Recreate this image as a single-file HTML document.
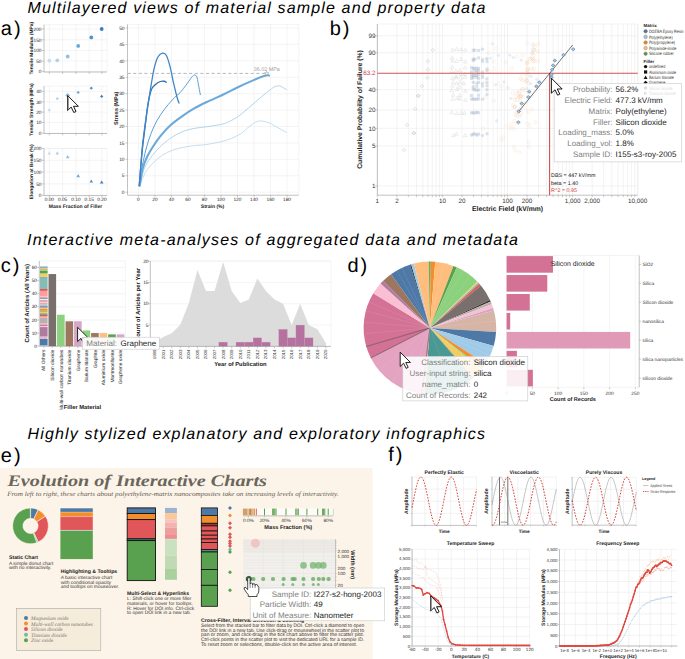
<!DOCTYPE html>
<html><head><meta charset="utf-8"><style>
html,body{margin:0;padding:0;background:#fff;}
body{width:685px;height:659px;overflow:hidden;font-family:"Liberation Sans",sans-serif;}
svg{display:block;text-rendering:geometricPrecision;}
</style></head><body>
<svg width="685" height="659" viewBox="0 0 685 659">
<text x="27.5" y="12.6" font-family="Liberation Sans" font-size="16" text-anchor="start" font-weight="normal" font-style="italic" fill="#000" textLength="458" lengthAdjust="spacing">Multilayered views of material sample and property data</text>
<text x="27" y="244.9" font-family="Liberation Sans" font-size="16" text-anchor="start" font-weight="normal" font-style="italic" fill="#000" textLength="491" lengthAdjust="spacing">Interactive meta-analyses of aggregated data and metadata</text>
<text x="27.5" y="438.7" font-family="Liberation Sans" font-size="16" text-anchor="start" font-weight="normal" font-style="italic" fill="#000" textLength="457.5" lengthAdjust="spacing">Highly stylized explanatory and exploratory infographics</text>
<text x="0.8" y="35.4" font-family="Liberation Sans" font-size="20" text-anchor="start" font-weight="normal" font-style="normal" fill="#000" letter-spacing="2" >a)</text>
<text x="329.7" y="35.3" font-family="Liberation Sans" font-size="20" text-anchor="start" font-weight="normal" font-style="normal" fill="#000" letter-spacing="2" >b)</text>
<text x="0.8" y="272.1" font-family="Liberation Sans" font-size="20" text-anchor="start" font-weight="normal" font-style="normal" fill="#000" letter-spacing="2" >c)</text>
<text x="347.5" y="271.7" font-family="Liberation Sans" font-size="20" text-anchor="start" font-weight="normal" font-style="normal" fill="#000" letter-spacing="2" >d)</text>
<text x="0.8" y="461.6" font-family="Liberation Sans" font-size="20" text-anchor="start" font-weight="normal" font-style="normal" fill="#000" letter-spacing="2" >e)</text>
<text x="388.3" y="461" font-family="Liberation Sans" font-size="20" text-anchor="start" font-weight="normal" font-style="normal" fill="#000" letter-spacing="2" >f)</text>
<line x1="44.00" y1="24.70" x2="107.00" y2="24.70" stroke="#e8e8e8" stroke-width="0.5" />
<line x1="107.00" y1="24.70" x2="107.00" y2="71.70" stroke="#e8e8e8" stroke-width="0.5" />
<line x1="49.30" y1="24.70" x2="49.30" y2="71.70" stroke="#e8e8e8" stroke-width="0.5" />
<line x1="62.60" y1="24.70" x2="62.60" y2="71.70" stroke="#e8e8e8" stroke-width="0.5" />
<line x1="75.90" y1="24.70" x2="75.90" y2="71.70" stroke="#e8e8e8" stroke-width="0.5" />
<line x1="89.20" y1="24.70" x2="89.20" y2="71.70" stroke="#e8e8e8" stroke-width="0.5" />
<line x1="101.90" y1="24.70" x2="101.90" y2="71.70" stroke="#e8e8e8" stroke-width="0.5" />
<line x1="44.00" y1="29.00" x2="107.00" y2="29.00" stroke="#e8e8e8" stroke-width="0.5" />
<line x1="42.00" y1="29.00" x2="44.00" y2="29.00" stroke="#999" stroke-width="0.5" />
<text x="41.5" y="30.7" font-family="Liberation Sans" font-size="4.8" text-anchor="end" font-weight="normal" font-style="normal" fill="#1e1e1e" >200</text>
<line x1="44.00" y1="39.80" x2="107.00" y2="39.80" stroke="#e8e8e8" stroke-width="0.5" />
<line x1="42.00" y1="39.80" x2="44.00" y2="39.80" stroke="#999" stroke-width="0.5" />
<text x="41.5" y="41.5" font-family="Liberation Sans" font-size="4.8" text-anchor="end" font-weight="normal" font-style="normal" fill="#1e1e1e" >150</text>
<line x1="44.00" y1="50.50" x2="107.00" y2="50.50" stroke="#e8e8e8" stroke-width="0.5" />
<line x1="42.00" y1="50.50" x2="44.00" y2="50.50" stroke="#999" stroke-width="0.5" />
<text x="41.5" y="52.2" font-family="Liberation Sans" font-size="4.8" text-anchor="end" font-weight="normal" font-style="normal" fill="#1e1e1e" >100</text>
<line x1="44.00" y1="61.10" x2="107.00" y2="61.10" stroke="#e8e8e8" stroke-width="0.5" />
<line x1="42.00" y1="61.10" x2="44.00" y2="61.10" stroke="#999" stroke-width="0.5" />
<text x="41.5" y="62.800000000000004" font-family="Liberation Sans" font-size="4.8" text-anchor="end" font-weight="normal" font-style="normal" fill="#1e1e1e" >50</text>
<line x1="44.00" y1="71.70" x2="107.00" y2="71.70" stroke="#e8e8e8" stroke-width="0.5" />
<line x1="42.00" y1="71.70" x2="44.00" y2="71.70" stroke="#999" stroke-width="0.5" />
<text x="41.5" y="73.4" font-family="Liberation Sans" font-size="4.8" text-anchor="end" font-weight="normal" font-style="normal" fill="#1e1e1e" >0</text>
<line x1="44.00" y1="24.70" x2="44.00" y2="72.00" stroke="#999" stroke-width="0.6" />
<line x1="44.00" y1="72.00" x2="107.00" y2="72.00" stroke="#999" stroke-width="0.6" />
<line x1="49.30" y1="72.00" x2="49.30" y2="74.00" stroke="#999" stroke-width="0.5" />
<line x1="62.60" y1="72.00" x2="62.60" y2="74.00" stroke="#999" stroke-width="0.5" />
<line x1="75.90" y1="72.00" x2="75.90" y2="74.00" stroke="#999" stroke-width="0.5" />
<line x1="89.20" y1="72.00" x2="89.20" y2="74.00" stroke="#999" stroke-width="0.5" />
<line x1="101.90" y1="72.00" x2="101.90" y2="74.00" stroke="#999" stroke-width="0.5" />
<text x="32.6" y="48.2" font-family="Liberation Sans" font-size="4.9" text-anchor="middle" font-weight="bold" font-style="normal" fill="#222" transform="rotate(-90 32.6 48.2)" >Tensile Modulus (MPa)</text>
<line x1="44.00" y1="86.00" x2="107.00" y2="86.00" stroke="#e8e8e8" stroke-width="0.5" />
<line x1="107.00" y1="86.00" x2="107.00" y2="133.20" stroke="#e8e8e8" stroke-width="0.5" />
<line x1="49.30" y1="86.00" x2="49.30" y2="133.20" stroke="#e8e8e8" stroke-width="0.5" />
<line x1="62.60" y1="86.00" x2="62.60" y2="133.20" stroke="#e8e8e8" stroke-width="0.5" />
<line x1="75.90" y1="86.00" x2="75.90" y2="133.20" stroke="#e8e8e8" stroke-width="0.5" />
<line x1="89.20" y1="86.00" x2="89.20" y2="133.20" stroke="#e8e8e8" stroke-width="0.5" />
<line x1="101.90" y1="86.00" x2="101.90" y2="133.20" stroke="#e8e8e8" stroke-width="0.5" />
<line x1="44.00" y1="91.30" x2="107.00" y2="91.30" stroke="#e8e8e8" stroke-width="0.5" />
<line x1="42.00" y1="91.30" x2="44.00" y2="91.30" stroke="#999" stroke-width="0.5" />
<text x="41.5" y="93.0" font-family="Liberation Sans" font-size="4.8" text-anchor="end" font-weight="normal" font-style="normal" fill="#1e1e1e" >40</text>
<line x1="44.00" y1="101.90" x2="107.00" y2="101.90" stroke="#e8e8e8" stroke-width="0.5" />
<line x1="42.00" y1="101.90" x2="44.00" y2="101.90" stroke="#999" stroke-width="0.5" />
<text x="41.5" y="103.60000000000001" font-family="Liberation Sans" font-size="4.8" text-anchor="end" font-weight="normal" font-style="normal" fill="#1e1e1e" >30</text>
<line x1="44.00" y1="112.10" x2="107.00" y2="112.10" stroke="#e8e8e8" stroke-width="0.5" />
<line x1="42.00" y1="112.10" x2="44.00" y2="112.10" stroke="#999" stroke-width="0.5" />
<text x="41.5" y="113.8" font-family="Liberation Sans" font-size="4.8" text-anchor="end" font-weight="normal" font-style="normal" fill="#1e1e1e" >20</text>
<line x1="44.00" y1="122.40" x2="107.00" y2="122.40" stroke="#e8e8e8" stroke-width="0.5" />
<line x1="42.00" y1="122.40" x2="44.00" y2="122.40" stroke="#999" stroke-width="0.5" />
<text x="41.5" y="124.10000000000001" font-family="Liberation Sans" font-size="4.8" text-anchor="end" font-weight="normal" font-style="normal" fill="#1e1e1e" >10</text>
<line x1="44.00" y1="133.20" x2="107.00" y2="133.20" stroke="#e8e8e8" stroke-width="0.5" />
<line x1="42.00" y1="133.20" x2="44.00" y2="133.20" stroke="#999" stroke-width="0.5" />
<text x="41.5" y="134.89999999999998" font-family="Liberation Sans" font-size="4.8" text-anchor="end" font-weight="normal" font-style="normal" fill="#1e1e1e" >0</text>
<line x1="44.00" y1="86.00" x2="44.00" y2="133.50" stroke="#999" stroke-width="0.6" />
<line x1="44.00" y1="133.50" x2="107.00" y2="133.50" stroke="#999" stroke-width="0.6" />
<line x1="49.30" y1="133.50" x2="49.30" y2="135.50" stroke="#999" stroke-width="0.5" />
<line x1="62.60" y1="133.50" x2="62.60" y2="135.50" stroke="#999" stroke-width="0.5" />
<line x1="75.90" y1="133.50" x2="75.90" y2="135.50" stroke="#999" stroke-width="0.5" />
<line x1="89.20" y1="133.50" x2="89.20" y2="135.50" stroke="#999" stroke-width="0.5" />
<line x1="101.90" y1="133.50" x2="101.90" y2="135.50" stroke="#999" stroke-width="0.5" />
<text x="32.6" y="109.6" font-family="Liberation Sans" font-size="4.9" text-anchor="middle" font-weight="bold" font-style="normal" fill="#222" transform="rotate(-90 32.6 109.6)" >Tensile Strength (MPa)</text>
<line x1="44.00" y1="148.40" x2="107.00" y2="148.40" stroke="#e8e8e8" stroke-width="0.5" />
<line x1="107.00" y1="148.40" x2="107.00" y2="195.30" stroke="#e8e8e8" stroke-width="0.5" />
<line x1="49.30" y1="148.40" x2="49.30" y2="195.30" stroke="#e8e8e8" stroke-width="0.5" />
<line x1="62.60" y1="148.40" x2="62.60" y2="195.30" stroke="#e8e8e8" stroke-width="0.5" />
<line x1="75.90" y1="148.40" x2="75.90" y2="195.30" stroke="#e8e8e8" stroke-width="0.5" />
<line x1="89.20" y1="148.40" x2="89.20" y2="195.30" stroke="#e8e8e8" stroke-width="0.5" />
<line x1="101.90" y1="148.40" x2="101.90" y2="195.30" stroke="#e8e8e8" stroke-width="0.5" />
<line x1="44.00" y1="148.40" x2="107.00" y2="148.40" stroke="#e8e8e8" stroke-width="0.5" />
<line x1="42.00" y1="148.40" x2="44.00" y2="148.40" stroke="#999" stroke-width="0.5" />
<text x="41.5" y="150.1" font-family="Liberation Sans" font-size="4.8" text-anchor="end" font-weight="normal" font-style="normal" fill="#1e1e1e" >200</text>
<line x1="44.00" y1="160.30" x2="107.00" y2="160.30" stroke="#e8e8e8" stroke-width="0.5" />
<line x1="42.00" y1="160.30" x2="44.00" y2="160.30" stroke="#999" stroke-width="0.5" />
<text x="41.5" y="162.0" font-family="Liberation Sans" font-size="4.8" text-anchor="end" font-weight="normal" font-style="normal" fill="#1e1e1e" >150</text>
<line x1="44.00" y1="172.10" x2="107.00" y2="172.10" stroke="#e8e8e8" stroke-width="0.5" />
<line x1="42.00" y1="172.10" x2="44.00" y2="172.10" stroke="#999" stroke-width="0.5" />
<text x="41.5" y="173.79999999999998" font-family="Liberation Sans" font-size="4.8" text-anchor="end" font-weight="normal" font-style="normal" fill="#1e1e1e" >100</text>
<line x1="44.00" y1="183.90" x2="107.00" y2="183.90" stroke="#e8e8e8" stroke-width="0.5" />
<line x1="42.00" y1="183.90" x2="44.00" y2="183.90" stroke="#999" stroke-width="0.5" />
<text x="41.5" y="185.6" font-family="Liberation Sans" font-size="4.8" text-anchor="end" font-weight="normal" font-style="normal" fill="#1e1e1e" >50</text>
<line x1="44.00" y1="195.30" x2="107.00" y2="195.30" stroke="#e8e8e8" stroke-width="0.5" />
<line x1="42.00" y1="195.30" x2="44.00" y2="195.30" stroke="#999" stroke-width="0.5" />
<text x="41.5" y="197.0" font-family="Liberation Sans" font-size="4.8" text-anchor="end" font-weight="normal" font-style="normal" fill="#1e1e1e" >0</text>
<line x1="44.00" y1="148.40" x2="44.00" y2="195.60" stroke="#999" stroke-width="0.6" />
<line x1="44.00" y1="195.60" x2="107.00" y2="195.60" stroke="#999" stroke-width="0.6" />
<line x1="49.30" y1="195.60" x2="49.30" y2="197.60" stroke="#999" stroke-width="0.5" />
<line x1="62.60" y1="195.60" x2="62.60" y2="197.60" stroke="#999" stroke-width="0.5" />
<line x1="75.90" y1="195.60" x2="75.90" y2="197.60" stroke="#999" stroke-width="0.5" />
<line x1="89.20" y1="195.60" x2="89.20" y2="197.60" stroke="#999" stroke-width="0.5" />
<line x1="101.90" y1="195.60" x2="101.90" y2="197.60" stroke="#999" stroke-width="0.5" />
<text x="32.6" y="171.85000000000002" font-family="Liberation Sans" font-size="4.9" text-anchor="middle" font-weight="bold" font-style="normal" fill="#222" transform="rotate(-90 32.6 171.85000000000002)" >Elongation at Break (%)</text>
<text x="49.3" y="201.3" font-family="Liberation Sans" font-size="4.8" text-anchor="middle" font-weight="normal" font-style="normal" fill="#1e1e1e" >0.00</text>
<text x="62.6" y="201.3" font-family="Liberation Sans" font-size="4.8" text-anchor="middle" font-weight="normal" font-style="normal" fill="#1e1e1e" >0.05</text>
<text x="75.9" y="201.3" font-family="Liberation Sans" font-size="4.8" text-anchor="middle" font-weight="normal" font-style="normal" fill="#1e1e1e" >0.10</text>
<text x="89.2" y="201.3" font-family="Liberation Sans" font-size="4.8" text-anchor="middle" font-weight="normal" font-style="normal" fill="#1e1e1e" >0.15</text>
<text x="101.9" y="201.3" font-family="Liberation Sans" font-size="4.8" text-anchor="middle" font-weight="normal" font-style="normal" fill="#1e1e1e" >0.20</text>
<text x="75.5" y="208" font-family="Liberation Sans" font-size="5.05" text-anchor="middle" font-weight="bold" font-style="normal" fill="#222" >Mass Fraction of Filler</text>
<circle cx="49.30" cy="60.70" r="1.9" fill="#c6dcef" />
<path d="M49.3,108.5 L50.9,110.1 L49.3,111.69999999999999 L47.699999999999996,110.1 Z" fill="#c6dcef" stroke="none" stroke-width="1" />
<path d="M49.3,151.29999999999998 L51.099999999999994,154.4 L47.5,154.4 Z" fill="#c6dcef" stroke="none" stroke-width="1" />
<circle cx="57.30" cy="60.30" r="1.9" fill="#b0d0ea" />
<path d="M57.3,97.10000000000001 L58.9,98.7 L57.3,100.3 L55.699999999999996,98.7 Z" fill="#b0d0ea" stroke="none" stroke-width="1" />
<path d="M57.3,151.29999999999998 L59.099999999999994,154.4 L55.5,154.4 Z" fill="#b0d0ea" stroke="none" stroke-width="1" />
<circle cx="67.70" cy="56.50" r="1.9" fill="#8fbfe3" />
<path d="M67.7,92.89999999999999 L70.10000000000001,95.3 L67.7,97.7 L65.3,95.3 Z" fill="#8fbfe3" stroke="none" stroke-width="1" />
<path d="M67.7,155.1 L69.5,158.20000000000002 L65.9,158.20000000000002 Z" fill="#8fbfe3" stroke="none" stroke-width="1" />
<circle cx="78.20" cy="45.90" r="1.9" fill="#6aa8d8" />
<path d="M78.2,90.80000000000001 L79.8,92.4 L78.2,94.0 L76.60000000000001,92.4 Z" fill="#6aa8d8" stroke="none" stroke-width="1" />
<path d="M78.2,174.1 L80.0,177.20000000000002 L76.4,177.20000000000002 Z" fill="#6aa8d8" stroke="none" stroke-width="1" />
<circle cx="91.30" cy="37.40" r="1.9" fill="#4f94cc" />
<path d="M91.3,86.60000000000001 L92.89999999999999,88.2 L91.3,89.8 L89.7,88.2 Z" fill="#4f94cc" stroke="none" stroke-width="1" />
<path d="M91.3,179.39999999999998 L93.1,182.5 L89.5,182.5 Z" fill="#4f94cc" stroke="none" stroke-width="1" />
<circle cx="101.70" cy="29.00" r="1.9" fill="#3a80c0" />
<path d="M101.7,94.80000000000001 L103.3,96.4 L101.7,98.0 L100.10000000000001,96.4 Z" fill="#3a80c0" stroke="none" stroke-width="1" />
<path d="M101.7,180.39999999999998 L103.5,183.5 L99.9,183.5 Z" fill="#3a80c0" stroke="none" stroke-width="1" />
<path d="M67.60,95.50 L67.60,110.50 L71.20,107.10 L73.80,112.50 L76.00,111.50 L73.50,106.30 L78.40,106.30 Z" fill="#fff" stroke="#000" stroke-width="0.9" stroke-linejoin="round"/>
<line x1="68.30" y1="97.50" x2="68.30" y2="109.50" stroke="#888" stroke-width="1.0" />
<line x1="127.50" y1="24.40" x2="298.80" y2="24.40" stroke="#e8e8e8" stroke-width="0.5" />
<line x1="298.80" y1="24.40" x2="298.80" y2="195.20" stroke="#e8e8e8" stroke-width="0.5" />
<line x1="138.40" y1="24.40" x2="138.40" y2="195.20" stroke="#e8e8e8" stroke-width="0.5" />
<line x1="138.40" y1="195.20" x2="138.40" y2="197.20" stroke="#999" stroke-width="0.5" />
<text x="138.4" y="200.79999999999998" font-family="Liberation Sans" font-size="4.8" text-anchor="middle" font-weight="normal" font-style="normal" fill="#1e1e1e" >0</text>
<line x1="154.91" y1="24.40" x2="154.91" y2="195.20" stroke="#e8e8e8" stroke-width="0.5" />
<line x1="154.91" y1="195.20" x2="154.91" y2="197.20" stroke="#999" stroke-width="0.5" />
<text x="154.91111111111113" y="200.79999999999998" font-family="Liberation Sans" font-size="4.8" text-anchor="middle" font-weight="normal" font-style="normal" fill="#1e1e1e" >20</text>
<line x1="171.42" y1="24.40" x2="171.42" y2="195.20" stroke="#e8e8e8" stroke-width="0.5" />
<line x1="171.42" y1="195.20" x2="171.42" y2="197.20" stroke="#999" stroke-width="0.5" />
<text x="171.42222222222222" y="200.79999999999998" font-family="Liberation Sans" font-size="4.8" text-anchor="middle" font-weight="normal" font-style="normal" fill="#1e1e1e" >40</text>
<line x1="187.93" y1="24.40" x2="187.93" y2="195.20" stroke="#e8e8e8" stroke-width="0.5" />
<line x1="187.93" y1="195.20" x2="187.93" y2="197.20" stroke="#999" stroke-width="0.5" />
<text x="187.93333333333334" y="200.79999999999998" font-family="Liberation Sans" font-size="4.8" text-anchor="middle" font-weight="normal" font-style="normal" fill="#1e1e1e" >60</text>
<line x1="204.44" y1="24.40" x2="204.44" y2="195.20" stroke="#e8e8e8" stroke-width="0.5" />
<line x1="204.44" y1="195.20" x2="204.44" y2="197.20" stroke="#999" stroke-width="0.5" />
<text x="204.44444444444446" y="200.79999999999998" font-family="Liberation Sans" font-size="4.8" text-anchor="middle" font-weight="normal" font-style="normal" fill="#1e1e1e" >80</text>
<line x1="220.96" y1="24.40" x2="220.96" y2="195.20" stroke="#e8e8e8" stroke-width="0.5" />
<line x1="220.96" y1="195.20" x2="220.96" y2="197.20" stroke="#999" stroke-width="0.5" />
<text x="220.95555555555558" y="200.79999999999998" font-family="Liberation Sans" font-size="4.8" text-anchor="middle" font-weight="normal" font-style="normal" fill="#1e1e1e" >100</text>
<line x1="237.47" y1="24.40" x2="237.47" y2="195.20" stroke="#e8e8e8" stroke-width="0.5" />
<line x1="237.47" y1="195.20" x2="237.47" y2="197.20" stroke="#999" stroke-width="0.5" />
<text x="237.46666666666667" y="200.79999999999998" font-family="Liberation Sans" font-size="4.8" text-anchor="middle" font-weight="normal" font-style="normal" fill="#1e1e1e" >120</text>
<line x1="253.98" y1="24.40" x2="253.98" y2="195.20" stroke="#e8e8e8" stroke-width="0.5" />
<line x1="253.98" y1="195.20" x2="253.98" y2="197.20" stroke="#999" stroke-width="0.5" />
<text x="253.9777777777778" y="200.79999999999998" font-family="Liberation Sans" font-size="4.8" text-anchor="middle" font-weight="normal" font-style="normal" fill="#1e1e1e" >140</text>
<line x1="270.49" y1="24.40" x2="270.49" y2="195.20" stroke="#e8e8e8" stroke-width="0.5" />
<line x1="270.49" y1="195.20" x2="270.49" y2="197.20" stroke="#999" stroke-width="0.5" />
<text x="270.48888888888894" y="200.79999999999998" font-family="Liberation Sans" font-size="4.8" text-anchor="middle" font-weight="normal" font-style="normal" fill="#1e1e1e" >160</text>
<line x1="287.00" y1="24.40" x2="287.00" y2="195.20" stroke="#e8e8e8" stroke-width="0.5" />
<line x1="287.00" y1="195.20" x2="287.00" y2="197.20" stroke="#999" stroke-width="0.5" />
<text x="287.0" y="200.79999999999998" font-family="Liberation Sans" font-size="4.8" text-anchor="middle" font-weight="normal" font-style="normal" fill="#1e1e1e" >180</text>
<line x1="127.50" y1="192.20" x2="298.80" y2="192.20" stroke="#e8e8e8" stroke-width="0.5" />
<line x1="125.50" y1="192.20" x2="127.50" y2="192.20" stroke="#999" stroke-width="0.5" />
<text x="124.5" y="193.89999999999998" font-family="Liberation Sans" font-size="4.8" text-anchor="end" font-weight="normal" font-style="normal" fill="#1e1e1e" >0</text>
<line x1="127.50" y1="175.78" x2="298.80" y2="175.78" stroke="#e8e8e8" stroke-width="0.5" />
<line x1="125.50" y1="175.78" x2="127.50" y2="175.78" stroke="#999" stroke-width="0.5" />
<text x="124.5" y="177.47999999999996" font-family="Liberation Sans" font-size="4.8" text-anchor="end" font-weight="normal" font-style="normal" fill="#1e1e1e" >5</text>
<line x1="127.50" y1="159.36" x2="298.80" y2="159.36" stroke="#e8e8e8" stroke-width="0.5" />
<line x1="125.50" y1="159.36" x2="127.50" y2="159.36" stroke="#999" stroke-width="0.5" />
<text x="124.5" y="161.05999999999997" font-family="Liberation Sans" font-size="4.8" text-anchor="end" font-weight="normal" font-style="normal" fill="#1e1e1e" >10</text>
<line x1="127.50" y1="142.94" x2="298.80" y2="142.94" stroke="#e8e8e8" stroke-width="0.5" />
<line x1="125.50" y1="142.94" x2="127.50" y2="142.94" stroke="#999" stroke-width="0.5" />
<text x="124.5" y="144.64" font-family="Liberation Sans" font-size="4.8" text-anchor="end" font-weight="normal" font-style="normal" fill="#1e1e1e" >15</text>
<line x1="127.50" y1="126.52" x2="298.80" y2="126.52" stroke="#e8e8e8" stroke-width="0.5" />
<line x1="125.50" y1="126.52" x2="127.50" y2="126.52" stroke="#999" stroke-width="0.5" />
<text x="124.5" y="128.21999999999997" font-family="Liberation Sans" font-size="4.8" text-anchor="end" font-weight="normal" font-style="normal" fill="#1e1e1e" >20</text>
<line x1="127.50" y1="110.10" x2="298.80" y2="110.10" stroke="#e8e8e8" stroke-width="0.5" />
<line x1="125.50" y1="110.10" x2="127.50" y2="110.10" stroke="#999" stroke-width="0.5" />
<text x="124.5" y="111.8" font-family="Liberation Sans" font-size="4.8" text-anchor="end" font-weight="normal" font-style="normal" fill="#1e1e1e" >25</text>
<line x1="127.50" y1="93.68" x2="298.80" y2="93.68" stroke="#e8e8e8" stroke-width="0.5" />
<line x1="125.50" y1="93.68" x2="127.50" y2="93.68" stroke="#999" stroke-width="0.5" />
<text x="124.5" y="95.38" font-family="Liberation Sans" font-size="4.8" text-anchor="end" font-weight="normal" font-style="normal" fill="#1e1e1e" >30</text>
<line x1="127.50" y1="77.26" x2="298.80" y2="77.26" stroke="#e8e8e8" stroke-width="0.5" />
<line x1="125.50" y1="77.26" x2="127.50" y2="77.26" stroke="#999" stroke-width="0.5" />
<text x="124.5" y="78.96" font-family="Liberation Sans" font-size="4.8" text-anchor="end" font-weight="normal" font-style="normal" fill="#1e1e1e" >35</text>
<line x1="127.50" y1="60.84" x2="298.80" y2="60.84" stroke="#e8e8e8" stroke-width="0.5" />
<line x1="125.50" y1="60.84" x2="127.50" y2="60.84" stroke="#999" stroke-width="0.5" />
<text x="124.5" y="62.53999999999998" font-family="Liberation Sans" font-size="4.8" text-anchor="end" font-weight="normal" font-style="normal" fill="#1e1e1e" >40</text>
<line x1="127.50" y1="44.42" x2="298.80" y2="44.42" stroke="#e8e8e8" stroke-width="0.5" />
<line x1="125.50" y1="44.42" x2="127.50" y2="44.42" stroke="#999" stroke-width="0.5" />
<text x="124.5" y="46.12000000000002" font-family="Liberation Sans" font-size="4.8" text-anchor="end" font-weight="normal" font-style="normal" fill="#1e1e1e" >45</text>
<line x1="127.50" y1="28.00" x2="298.80" y2="28.00" stroke="#e8e8e8" stroke-width="0.5" />
<line x1="125.50" y1="28.00" x2="127.50" y2="28.00" stroke="#999" stroke-width="0.5" />
<text x="124.5" y="29.7" font-family="Liberation Sans" font-size="4.8" text-anchor="end" font-weight="normal" font-style="normal" fill="#1e1e1e" >50</text>
<line x1="127.50" y1="24.40" x2="127.50" y2="195.20" stroke="#999" stroke-width="0.6" />
<line x1="127.50" y1="195.20" x2="298.80" y2="195.20" stroke="#999" stroke-width="0.6" />
<text x="212.5" y="208" font-family="Liberation Sans" font-size="5.0" text-anchor="middle" font-weight="bold" font-style="normal" fill="#222" >Strain (%)</text>
<text x="118.3" y="108.2" font-family="Liberation Sans" font-size="5.5" text-anchor="middle" font-weight="bold" font-style="normal" fill="#222" transform="rotate(-90 118.3 108.2)" >Stress (MPa)</text>
<line x1="127.50" y1="73.40" x2="265.50" y2="73.40" stroke="#b8b8b8" stroke-width="1.0" stroke-dasharray="3.2,2.4"/>
<text x="253.8" y="70.8" font-family="Liberation Sans" font-size="5.4" text-anchor="start" font-weight="normal" font-style="normal" fill="#a0a0a0" >36.02 MPa</text>
<path d="M139.60,186.40 C140.60,184.00 143.33,175.92 145.60,172.00 C147.87,168.08 150.42,165.68 153.20,162.90 C155.98,160.12 159.00,157.45 162.30,155.30 C165.60,153.15 169.20,151.38 173.00,150.00 C176.80,148.62 181.32,147.77 185.10,147.00 C188.88,146.23 192.38,145.78 195.70,145.40 C199.02,145.02 200.65,145.35 205.00,144.70 C209.35,144.05 217.37,142.57 221.80,141.50 C226.23,140.43 228.35,139.65 231.60,138.30 C234.85,136.95 238.57,135.20 241.30,133.40 C244.03,131.60 245.57,129.40 248.00,127.50 C250.43,125.60 253.60,123.08 255.90,122.00 C258.20,120.92 259.62,120.87 261.80,121.00 C263.98,121.13 266.77,121.93 269.00,122.80 C271.23,123.67 272.22,124.55 275.20,126.20 C278.18,127.85 284.95,131.62 286.90,132.70" fill="none" stroke="#bcdaef" stroke-width="0.9" />
<path d="M139.60,186.40 C140.35,183.50 142.33,173.68 144.10,169.00 C145.87,164.32 147.67,161.85 150.20,158.30 C152.73,154.75 156.02,150.98 159.30,147.70 C162.58,144.42 166.35,141.13 169.90,138.60 C173.45,136.07 176.80,134.15 180.60,132.50 C184.40,130.85 187.93,129.72 192.70,128.70 C197.47,127.68 204.27,127.15 209.20,126.40 C214.13,125.65 218.90,125.05 222.30,124.20 C225.70,123.35 226.92,122.63 229.60,121.30 C232.28,119.97 235.00,118.63 238.40,116.20 C241.80,113.77 246.10,109.98 250.00,106.70 C253.90,103.42 258.47,99.28 261.80,96.50 C265.13,93.72 267.77,91.67 270.00,90.00 C272.23,88.33 273.52,87.15 275.20,86.50 C276.88,85.85 278.15,85.55 280.10,86.10 C282.05,86.65 285.77,89.18 286.90,89.80" fill="none" stroke="#a9cfe9" stroke-width="0.9" />
<path d="M139.60,186.40 C139.97,183.50 140.92,174.43 141.80,169.00 C142.68,163.57 143.75,158.62 144.90,153.80 C146.05,148.98 147.18,144.67 148.70,140.10 C150.22,135.53 151.98,130.70 154.00,126.40 C156.02,122.10 158.40,117.97 160.80,114.30 C163.20,110.63 165.87,107.43 168.40,104.40 C170.93,101.37 174.07,98.03 176.00,96.10 C177.93,94.17 178.12,94.92 180.00,92.80 C181.88,90.68 185.35,86.00 187.30,83.40 C189.25,80.80 190.48,78.60 191.70,77.20 C192.92,75.80 193.75,75.07 194.60,75.00 C195.45,74.93 196.20,75.40 196.80,76.80 C197.40,78.20 197.60,80.37 198.20,83.40 C198.80,86.43 200.03,93.07 200.40,95.00" fill="none" stroke="#5a9fd6" stroke-width="1.0" />
<path d="M139.60,186.40 C140.10,183.50 141.35,173.93 142.60,169.00 C143.85,164.07 145.33,160.60 147.10,156.80 C148.87,153.00 150.92,149.73 153.20,146.20 C155.48,142.67 158.02,139.02 160.80,135.60 C163.58,132.18 166.60,128.75 169.90,125.70 C173.20,122.65 176.48,120.22 180.60,117.30 C184.72,114.38 189.83,110.93 194.60,108.20 C199.37,105.47 204.33,103.22 209.20,100.90 C214.07,98.58 218.93,96.62 223.80,94.30 C228.67,91.98 233.53,89.32 238.40,87.00 C243.27,84.68 249.10,82.10 253.00,80.40 C256.90,78.70 259.37,77.65 261.80,76.80 C264.23,75.95 266.27,75.47 267.60,75.30 C268.93,75.13 269.43,75.72 269.80,75.80" fill="none" stroke="#69a9db" stroke-width="2.1" />
<path d="M139.22,186.12 C139.71,180.37 141.17,161.44 142.14,151.65 C143.11,141.86 144.04,135.47 145.05,127.38 C146.06,119.29 147.15,109.38 148.20,103.11 C149.26,96.84 150.15,92.87 151.36,89.76 C152.57,86.64 153.99,85.79 155.49,84.42 C156.98,83.04 158.92,82.03 160.34,81.50 C161.76,80.98 162.89,81.10 163.98,81.26 C165.07,81.42 166.41,82.27 166.89,82.48" fill="none" stroke="#2f71b0" stroke-width="1.3" />
<path d="M139.22,186.12 C139.71,179.97 141.17,159.42 142.14,149.22 C143.11,139.03 144.04,132.64 145.05,124.95 C146.06,117.27 147.15,109.98 148.20,103.11 C149.26,96.23 150.35,89.56 151.36,83.69 C152.37,77.82 153.18,72.36 154.27,67.91 C155.36,63.46 156.50,59.46 157.91,56.99 C159.33,54.52 161.35,53.35 162.77,53.11 C164.18,52.86 165.19,53.27 166.41,55.53 C167.62,57.80 168.83,62.01 170.05,66.70 C171.26,71.39 172.48,78.43 173.69,83.69 C174.90,88.95 176.40,94.94 177.33,98.25 C178.26,101.57 178.95,102.70 179.27,103.59" fill="none" stroke="#3f86c6" stroke-width="1.3" />
<path d="M266.70,71.30 L267.29,72.69 L268.79,72.82 L267.65,73.81 L267.99,75.28 L266.70,74.50 L265.41,75.28 L265.75,73.81 L264.61,72.82 L266.11,72.69 L266.70,71.30" fill="#fff" stroke="#999" stroke-width="0.6" />
<line x1="377.40" y1="24.00" x2="637.80" y2="24.00" stroke="#e6e6e6" stroke-width="0.5" />
<line x1="637.80" y1="24.00" x2="637.80" y2="195.20" stroke="#e6e6e6" stroke-width="0.5" />
<line x1="377.30" y1="24.00" x2="377.30" y2="195.20" stroke="#e6e6e6" stroke-width="0.5" />
<line x1="396.90" y1="24.00" x2="396.90" y2="195.20" stroke="#e6e6e6" stroke-width="0.5" />
<line x1="408.36" y1="24.00" x2="408.36" y2="195.20" stroke="#e6e6e6" stroke-width="0.5" />
<line x1="416.49" y1="24.00" x2="416.49" y2="195.20" stroke="#e6e6e6" stroke-width="0.5" />
<line x1="422.80" y1="24.00" x2="422.80" y2="195.20" stroke="#e6e6e6" stroke-width="0.5" />
<line x1="427.96" y1="24.00" x2="427.96" y2="195.20" stroke="#e6e6e6" stroke-width="0.5" />
<line x1="432.32" y1="24.00" x2="432.32" y2="195.20" stroke="#e6e6e6" stroke-width="0.5" />
<line x1="436.09" y1="24.00" x2="436.09" y2="195.20" stroke="#e6e6e6" stroke-width="0.5" />
<line x1="439.42" y1="24.00" x2="439.42" y2="195.20" stroke="#e6e6e6" stroke-width="0.5" />
<line x1="442.40" y1="24.00" x2="442.40" y2="195.20" stroke="#e6e6e6" stroke-width="0.5" />
<line x1="462.00" y1="24.00" x2="462.00" y2="195.20" stroke="#e6e6e6" stroke-width="0.5" />
<line x1="473.46" y1="24.00" x2="473.46" y2="195.20" stroke="#e6e6e6" stroke-width="0.5" />
<line x1="481.59" y1="24.00" x2="481.59" y2="195.20" stroke="#e6e6e6" stroke-width="0.5" />
<line x1="487.90" y1="24.00" x2="487.90" y2="195.20" stroke="#e6e6e6" stroke-width="0.5" />
<line x1="493.06" y1="24.00" x2="493.06" y2="195.20" stroke="#e6e6e6" stroke-width="0.5" />
<line x1="497.42" y1="24.00" x2="497.42" y2="195.20" stroke="#e6e6e6" stroke-width="0.5" />
<line x1="501.19" y1="24.00" x2="501.19" y2="195.20" stroke="#e6e6e6" stroke-width="0.5" />
<line x1="504.52" y1="24.00" x2="504.52" y2="195.20" stroke="#e6e6e6" stroke-width="0.5" />
<line x1="507.50" y1="24.00" x2="507.50" y2="195.20" stroke="#e6e6e6" stroke-width="0.5" />
<line x1="527.10" y1="24.00" x2="527.10" y2="195.20" stroke="#e6e6e6" stroke-width="0.5" />
<line x1="538.56" y1="24.00" x2="538.56" y2="195.20" stroke="#e6e6e6" stroke-width="0.5" />
<line x1="546.69" y1="24.00" x2="546.69" y2="195.20" stroke="#e6e6e6" stroke-width="0.5" />
<line x1="553.00" y1="24.00" x2="553.00" y2="195.20" stroke="#e6e6e6" stroke-width="0.5" />
<line x1="558.16" y1="24.00" x2="558.16" y2="195.20" stroke="#e6e6e6" stroke-width="0.5" />
<line x1="562.52" y1="24.00" x2="562.52" y2="195.20" stroke="#e6e6e6" stroke-width="0.5" />
<line x1="566.29" y1="24.00" x2="566.29" y2="195.20" stroke="#e6e6e6" stroke-width="0.5" />
<line x1="569.62" y1="24.00" x2="569.62" y2="195.20" stroke="#e6e6e6" stroke-width="0.5" />
<line x1="572.60" y1="24.00" x2="572.60" y2="195.20" stroke="#e6e6e6" stroke-width="0.5" />
<line x1="592.20" y1="24.00" x2="592.20" y2="195.20" stroke="#e6e6e6" stroke-width="0.5" />
<line x1="603.66" y1="24.00" x2="603.66" y2="195.20" stroke="#e6e6e6" stroke-width="0.5" />
<line x1="611.79" y1="24.00" x2="611.79" y2="195.20" stroke="#e6e6e6" stroke-width="0.5" />
<line x1="618.10" y1="24.00" x2="618.10" y2="195.20" stroke="#e6e6e6" stroke-width="0.5" />
<line x1="623.26" y1="24.00" x2="623.26" y2="195.20" stroke="#e6e6e6" stroke-width="0.5" />
<line x1="627.62" y1="24.00" x2="627.62" y2="195.20" stroke="#e6e6e6" stroke-width="0.5" />
<line x1="631.39" y1="24.00" x2="631.39" y2="195.20" stroke="#e6e6e6" stroke-width="0.5" />
<line x1="634.72" y1="24.00" x2="634.72" y2="195.20" stroke="#e6e6e6" stroke-width="0.5" />
<line x1="637.70" y1="24.00" x2="637.70" y2="195.20" stroke="#e6e6e6" stroke-width="0.5" />
<line x1="377.40" y1="35.78" x2="637.80" y2="35.78" stroke="#e6e6e6" stroke-width="0.5" />
<line x1="375.40" y1="35.78" x2="377.40" y2="35.78" stroke="#999" stroke-width="0.5" />
<text x="375.5" y="37.984099167706425" font-family="Liberation Sans" font-size="6.3" text-anchor="end" font-weight="normal" font-style="normal" fill="#333" >99</text>
<line x1="377.40" y1="52.77" x2="637.80" y2="52.77" stroke="#e6e6e6" stroke-width="0.5" />
<line x1="375.40" y1="52.77" x2="377.40" y2="52.77" stroke="#999" stroke-width="0.5" />
<text x="375.5" y="54.96620509142508" font-family="Liberation Sans" font-size="6.3" text-anchor="end" font-weight="normal" font-style="normal" fill="#333" >90</text>
<line x1="377.40" y1="89.66" x2="637.80" y2="89.66" stroke="#e6e6e6" stroke-width="0.5" />
<line x1="375.40" y1="89.66" x2="377.40" y2="89.66" stroke="#999" stroke-width="0.5" />
<text x="375.5" y="91.85731130625699" font-family="Liberation Sans" font-size="6.3" text-anchor="end" font-weight="normal" font-style="normal" fill="#333" >40</text>
<line x1="377.40" y1="109.95" x2="637.80" y2="109.95" stroke="#e6e6e6" stroke-width="0.5" />
<line x1="375.40" y1="109.95" x2="377.40" y2="109.95" stroke="#999" stroke-width="0.5" />
<text x="375.5" y="112.14852967560815" font-family="Liberation Sans" font-size="6.3" text-anchor="end" font-weight="normal" font-style="normal" fill="#333" >20</text>
<line x1="377.40" y1="128.33" x2="637.80" y2="128.33" stroke="#e6e6e6" stroke-width="0.5" />
<line x1="375.40" y1="128.33" x2="377.40" y2="128.33" stroke="#999" stroke-width="0.5" />
<text x="375.5" y="130.53399951915492" font-family="Liberation Sans" font-size="6.3" text-anchor="end" font-weight="normal" font-style="normal" fill="#333" >10</text>
<line x1="377.40" y1="145.97" x2="637.80" y2="145.97" stroke="#e6e6e6" stroke-width="0.5" />
<line x1="375.40" y1="145.97" x2="377.40" y2="145.97" stroke="#999" stroke-width="0.5" />
<text x="375.5" y="148.169783601533" font-family="Liberation Sans" font-size="6.3" text-anchor="end" font-weight="normal" font-style="normal" fill="#333" >5</text>
<line x1="377.40" y1="185.90" x2="637.80" y2="185.90" stroke="#e6e6e6" stroke-width="0.5" />
<line x1="375.40" y1="185.90" x2="377.40" y2="185.90" stroke="#999" stroke-width="0.5" />
<text x="375.5" y="188.10365605602618" font-family="Liberation Sans" font-size="6.3" text-anchor="end" font-weight="normal" font-style="normal" fill="#333" >1</text>
<text x="375.5" y="75.40802896553046" font-family="Liberation Sans" font-size="6.3" text-anchor="end" font-weight="normal" font-style="normal" fill="#d03c3c" >63.2</text>
<line x1="377.40" y1="24.00" x2="377.40" y2="195.20" stroke="#999" stroke-width="0.6" />
<line x1="377.40" y1="195.20" x2="637.80" y2="195.20" stroke="#999" stroke-width="0.6" />
<text x="377.3" y="203.2" font-family="Liberation Sans" font-size="6.3" text-anchor="middle" font-weight="normal" font-style="normal" fill="#333" >1</text>
<text x="396.89705271772516" y="203.2" font-family="Liberation Sans" font-size="6.3" text-anchor="middle" font-weight="normal" font-style="normal" fill="#333" >2</text>
<text x="442.4" y="203.2" font-family="Liberation Sans" font-size="6.3" text-anchor="middle" font-weight="normal" font-style="normal" fill="#333" >10</text>
<text x="461.9970527177252" y="203.2" font-family="Liberation Sans" font-size="6.3" text-anchor="middle" font-weight="normal" font-style="normal" fill="#333" >20</text>
<text x="507.5" y="203.2" font-family="Liberation Sans" font-size="6.3" text-anchor="middle" font-weight="normal" font-style="normal" fill="#333" >100</text>
<text x="527.0970527177252" y="203.2" font-family="Liberation Sans" font-size="6.3" text-anchor="middle" font-weight="normal" font-style="normal" fill="#333" >200</text>
<text x="572.6" y="203.2" font-family="Liberation Sans" font-size="6.3" text-anchor="middle" font-weight="normal" font-style="normal" fill="#333" >1,000</text>
<text x="592.1970527177252" y="203.2" font-family="Liberation Sans" font-size="6.3" text-anchor="middle" font-weight="normal" font-style="normal" fill="#333" >2,000</text>
<text x="637.7" y="203.2" font-family="Liberation Sans" font-size="6.3" text-anchor="middle" font-weight="normal" font-style="normal" fill="#333" >10,000</text>
<line x1="377.30" y1="195.20" x2="377.30" y2="197.20" stroke="#999" stroke-width="0.5" />
<line x1="396.90" y1="195.20" x2="396.90" y2="197.20" stroke="#999" stroke-width="0.5" />
<line x1="408.36" y1="195.20" x2="408.36" y2="197.20" stroke="#999" stroke-width="0.5" />
<line x1="416.49" y1="195.20" x2="416.49" y2="197.20" stroke="#999" stroke-width="0.5" />
<line x1="422.80" y1="195.20" x2="422.80" y2="197.20" stroke="#999" stroke-width="0.5" />
<line x1="427.96" y1="195.20" x2="427.96" y2="197.20" stroke="#999" stroke-width="0.5" />
<line x1="432.32" y1="195.20" x2="432.32" y2="197.20" stroke="#999" stroke-width="0.5" />
<line x1="436.09" y1="195.20" x2="436.09" y2="197.20" stroke="#999" stroke-width="0.5" />
<line x1="439.42" y1="195.20" x2="439.42" y2="197.20" stroke="#999" stroke-width="0.5" />
<line x1="442.40" y1="195.20" x2="442.40" y2="197.20" stroke="#999" stroke-width="0.5" />
<line x1="462.00" y1="195.20" x2="462.00" y2="197.20" stroke="#999" stroke-width="0.5" />
<line x1="473.46" y1="195.20" x2="473.46" y2="197.20" stroke="#999" stroke-width="0.5" />
<line x1="481.59" y1="195.20" x2="481.59" y2="197.20" stroke="#999" stroke-width="0.5" />
<line x1="487.90" y1="195.20" x2="487.90" y2="197.20" stroke="#999" stroke-width="0.5" />
<line x1="493.06" y1="195.20" x2="493.06" y2="197.20" stroke="#999" stroke-width="0.5" />
<line x1="497.42" y1="195.20" x2="497.42" y2="197.20" stroke="#999" stroke-width="0.5" />
<line x1="501.19" y1="195.20" x2="501.19" y2="197.20" stroke="#999" stroke-width="0.5" />
<line x1="504.52" y1="195.20" x2="504.52" y2="197.20" stroke="#999" stroke-width="0.5" />
<line x1="507.50" y1="195.20" x2="507.50" y2="197.20" stroke="#999" stroke-width="0.5" />
<line x1="527.10" y1="195.20" x2="527.10" y2="197.20" stroke="#999" stroke-width="0.5" />
<line x1="538.56" y1="195.20" x2="538.56" y2="197.20" stroke="#999" stroke-width="0.5" />
<line x1="546.69" y1="195.20" x2="546.69" y2="197.20" stroke="#999" stroke-width="0.5" />
<line x1="553.00" y1="195.20" x2="553.00" y2="197.20" stroke="#999" stroke-width="0.5" />
<line x1="558.16" y1="195.20" x2="558.16" y2="197.20" stroke="#999" stroke-width="0.5" />
<line x1="562.52" y1="195.20" x2="562.52" y2="197.20" stroke="#999" stroke-width="0.5" />
<line x1="566.29" y1="195.20" x2="566.29" y2="197.20" stroke="#999" stroke-width="0.5" />
<line x1="569.62" y1="195.20" x2="569.62" y2="197.20" stroke="#999" stroke-width="0.5" />
<line x1="572.60" y1="195.20" x2="572.60" y2="197.20" stroke="#999" stroke-width="0.5" />
<line x1="592.20" y1="195.20" x2="592.20" y2="197.20" stroke="#999" stroke-width="0.5" />
<line x1="603.66" y1="195.20" x2="603.66" y2="197.20" stroke="#999" stroke-width="0.5" />
<line x1="611.79" y1="195.20" x2="611.79" y2="197.20" stroke="#999" stroke-width="0.5" />
<line x1="618.10" y1="195.20" x2="618.10" y2="197.20" stroke="#999" stroke-width="0.5" />
<line x1="623.26" y1="195.20" x2="623.26" y2="197.20" stroke="#999" stroke-width="0.5" />
<line x1="627.62" y1="195.20" x2="627.62" y2="197.20" stroke="#999" stroke-width="0.5" />
<line x1="631.39" y1="195.20" x2="631.39" y2="197.20" stroke="#999" stroke-width="0.5" />
<line x1="634.72" y1="195.20" x2="634.72" y2="197.20" stroke="#999" stroke-width="0.5" />
<text x="507.5" y="210.5" font-family="Liberation Sans" font-size="6.8" text-anchor="middle" font-weight="bold" font-style="normal" fill="#222" >Electric Field (kV/mm)</text>
<text x="362.3" y="109.5" font-family="Liberation Sans" font-size="6.8" text-anchor="middle" font-weight="bold" font-style="normal" fill="#222" transform="rotate(-90 362.3 109.5)" >Cumulative Probability of Failure (%)</text>
<path d="M432.80,48.40 L434.72,50.00 L432.80,51.60 L430.88,50.00 Z" fill="none" stroke="#9aab9a" stroke-width="0.5" opacity="0.6"/>
<path d="M427.70,59.70 L429.62,61.30 L427.70,62.90 L425.78,61.30 Z" fill="none" stroke="#9aab9a" stroke-width="0.5" opacity="0.6"/>
<path d="M427.70,68.10 L429.62,69.70 L427.70,71.30 L425.78,69.70 Z" fill="none" stroke="#9aab9a" stroke-width="0.5" opacity="0.6"/>
<path d="M427.40,76.10 L429.32,77.70 L427.40,79.30 L425.48,77.70 Z" fill="none" stroke="#9aab9a" stroke-width="0.5" opacity="0.6"/>
<path d="M421.90,84.50 L423.82,86.10 L421.90,87.70 L419.98,86.10 Z" fill="none" stroke="#9aab9a" stroke-width="0.5" opacity="0.6"/>
<path d="M417.90,94.30 L419.82,95.90 L417.90,97.50 L415.98,95.90 Z" fill="none" stroke="#9aab9a" stroke-width="0.5" opacity="0.6"/>
<path d="M415.00,107.30 L416.92,108.90 L415.00,110.50 L413.08,108.90 Z" fill="none" stroke="#9aab9a" stroke-width="0.5" opacity="0.6"/>
<path d="M413.70,131.30 L415.62,132.90 L413.70,134.50 L411.78,132.90 Z" fill="none" stroke="#9aab9a" stroke-width="0.5" opacity="0.6"/>
<path d="M418.70,94.20 L420.62,95.80 L418.70,97.40 L416.78,95.80 Z" fill="none" stroke="#9aab9a" stroke-width="0.5" opacity="0.6"/>
<path d="M414.00,131.60 L415.92,133.20 L414.00,134.80 L412.08,133.20 Z" fill="none" stroke="#9aab9a" stroke-width="0.5" opacity="0.6"/>
<path d="M407.00,123.40 L408.92,125.00 L407.00,126.60 L405.08,125.00 Z" fill="none" stroke="#9aab9a" stroke-width="0.5" opacity="0.6"/>
<path d="M404.00,148.40 L405.92,150.00 L404.00,151.60 L402.08,150.00 Z" fill="none" stroke="#9aab9a" stroke-width="0.5" opacity="0.6"/>
<path d="M452.59,47.94 L454.39,51.09 L450.79,51.09 Z" fill="none" stroke="#a8b0a8" stroke-width="0.5" opacity="0.45"/>
<path d="M456.75,47.33 L458.55,50.48 L454.95,50.48 Z" fill="none" stroke="#a8b0a8" stroke-width="0.5" opacity="0.45"/>
<path d="M461.17,47.72 L462.97,50.87 L459.37,50.87 Z" fill="none" stroke="#a8b0a8" stroke-width="0.5" opacity="0.45"/>
<path d="M465.49,48.14 L467.29,51.29 L463.69,51.29 Z" fill="none" stroke="#a8b0a8" stroke-width="0.5" opacity="0.45"/>
<rect x="471.70" y="48.72" width="3.00" height="3.00" fill="#8ea4bf" opacity="0.33"/>
<rect x="473.50" y="48.72" width="3.00" height="3.00" fill="#8ea4bf" opacity="0.33"/>
<rect x="477.10" y="48.89" width="3.00" height="3.00" fill="#8ea4bf" opacity="0.33"/>
<circle cx="482.50" cy="49.13" r="1.7" fill="#b8c8d8" opacity="0.5"/>
<path d="M452.10,55.76 L453.90,58.91 L450.30,58.91 Z" fill="none" stroke="#a8b0a8" stroke-width="0.5" opacity="0.45"/>
<path d="M460.94,57.46 L462.74,60.61 L459.14,60.61 Z" fill="none" stroke="#a8b0a8" stroke-width="0.5" opacity="0.45"/>
<rect x="471.70" y="57.48" width="3.00" height="3.00" fill="#8ea4bf" opacity="0.33"/>
<rect x="473.50" y="57.70" width="3.00" height="3.00" fill="#8ea4bf" opacity="0.33"/>
<rect x="477.10" y="56.42" width="3.00" height="3.00" fill="#8ea4bf" opacity="0.33"/>
<circle cx="482.50" cy="59.43" r="1.7" fill="#b8c8d8" opacity="0.5"/>
<circle cx="487.00" cy="58.75" r="1.7" fill="#b8c8d8" opacity="0.5"/>
<path d="M452.51,58.97 L454.31,62.12 L450.71,62.12 Z" fill="none" stroke="#a8b0a8" stroke-width="0.5" opacity="0.45"/>
<path d="M456.67,59.37 L458.47,62.52 L454.87,62.52 Z" fill="none" stroke="#a8b0a8" stroke-width="0.5" opacity="0.45"/>
<path d="M465.36,59.91 L467.16,63.06 L463.56,63.06 Z" fill="none" stroke="#a8b0a8" stroke-width="0.5" opacity="0.45"/>
<rect x="471.70" y="58.96" width="3.00" height="3.00" fill="#8ea4bf" opacity="0.33"/>
<circle cx="482.50" cy="61.43" r="1.7" fill="#b8c8d8" opacity="0.5"/>
<circle cx="487.00" cy="61.66" r="1.7" fill="#b8c8d8" opacity="0.5"/>
<path d="M452.07,65.23 L453.87,68.38 L450.27,68.38 Z" fill="none" stroke="#a8b0a8" stroke-width="0.5" opacity="0.45"/>
<path d="M465.10,65.92 L466.90,69.07 L463.30,69.07 Z" fill="none" stroke="#a8b0a8" stroke-width="0.5" opacity="0.45"/>
<rect x="470.00" y="66.07" width="3.00" height="3.00" fill="#8ea4bf" opacity="0.33"/>
<rect x="471.70" y="67.00" width="3.00" height="3.00" fill="#8ea4bf" opacity="0.33"/>
<rect x="473.50" y="66.58" width="3.00" height="3.00" fill="#8ea4bf" opacity="0.33"/>
<rect x="475.30" y="66.75" width="3.00" height="3.00" fill="#8ea4bf" opacity="0.33"/>
<rect x="477.10" y="67.01" width="3.00" height="3.00" fill="#8ea4bf" opacity="0.33"/>
<circle cx="487.00" cy="68.90" r="1.7" fill="#b8c8d8" opacity="0.5"/>
<path d="M451.65,69.40 L453.45,72.55 L449.85,72.55 Z" fill="none" stroke="#a8b0a8" stroke-width="0.5" opacity="0.45"/>
<path d="M455.89,69.02 L457.69,72.17 L454.09,72.17 Z" fill="none" stroke="#a8b0a8" stroke-width="0.5" opacity="0.45"/>
<path d="M459.81,68.28 L461.61,71.43 L458.01,71.43 Z" fill="none" stroke="#a8b0a8" stroke-width="0.5" opacity="0.45"/>
<rect x="470.00" y="70.23" width="3.00" height="3.00" fill="#8ea4bf" opacity="0.33"/>
<rect x="473.50" y="69.44" width="3.00" height="3.00" fill="#8ea4bf" opacity="0.33"/>
<rect x="475.30" y="69.73" width="3.00" height="3.00" fill="#8ea4bf" opacity="0.33"/>
<rect x="477.10" y="69.59" width="3.00" height="3.00" fill="#8ea4bf" opacity="0.33"/>
<circle cx="482.50" cy="71.88" r="1.7" fill="#b8c8d8" opacity="0.5"/>
<circle cx="487.00" cy="70.86" r="1.7" fill="#b8c8d8" opacity="0.5"/>
<path d="M456.10,74.36 L457.90,77.51 L454.30,77.51 Z" fill="none" stroke="#a8b0a8" stroke-width="0.5" opacity="0.45"/>
<path d="M460.60,72.42 L462.40,75.57 L458.80,75.57 Z" fill="none" stroke="#a8b0a8" stroke-width="0.5" opacity="0.45"/>
<path d="M464.66,72.44 L466.46,75.59 L462.86,75.59 Z" fill="none" stroke="#a8b0a8" stroke-width="0.5" opacity="0.45"/>
<rect x="470.00" y="73.91" width="3.00" height="3.00" fill="#8ea4bf" opacity="0.33"/>
<rect x="471.70" y="73.90" width="3.00" height="3.00" fill="#8ea4bf" opacity="0.33"/>
<rect x="473.50" y="73.99" width="3.00" height="3.00" fill="#8ea4bf" opacity="0.33"/>
<rect x="475.30" y="74.03" width="3.00" height="3.00" fill="#8ea4bf" opacity="0.33"/>
<rect x="477.10" y="72.94" width="3.00" height="3.00" fill="#8ea4bf" opacity="0.33"/>
<circle cx="482.50" cy="75.55" r="1.7" fill="#b8c8d8" opacity="0.5"/>
<path d="M452.41,76.39 L454.21,79.54 L450.61,79.54 Z" fill="none" stroke="#a8b0a8" stroke-width="0.5" opacity="0.45"/>
<path d="M456.23,75.83 L458.03,78.98 L454.43,78.98 Z" fill="none" stroke="#a8b0a8" stroke-width="0.5" opacity="0.45"/>
<path d="M460.69,75.80 L462.49,78.95 L458.89,78.95 Z" fill="none" stroke="#a8b0a8" stroke-width="0.5" opacity="0.45"/>
<path d="M465.04,75.25 L466.84,78.40 L463.24,78.40 Z" fill="none" stroke="#a8b0a8" stroke-width="0.5" opacity="0.45"/>
<rect x="470.00" y="76.88" width="3.00" height="3.00" fill="#8ea4bf" opacity="0.33"/>
<rect x="471.70" y="76.06" width="3.00" height="3.00" fill="#8ea4bf" opacity="0.33"/>
<rect x="475.30" y="76.00" width="3.00" height="3.00" fill="#8ea4bf" opacity="0.33"/>
<rect x="477.10" y="76.82" width="3.00" height="3.00" fill="#8ea4bf" opacity="0.33"/>
<circle cx="482.50" cy="77.64" r="1.7" fill="#b8c8d8" opacity="0.5"/>
<circle cx="487.00" cy="78.67" r="1.7" fill="#b8c8d8" opacity="0.5"/>
<path d="M453.21,80.34 L455.01,83.49 L451.41,83.49 Z" fill="none" stroke="#a8b0a8" stroke-width="0.5" opacity="0.45"/>
<path d="M456.80,81.77 L458.60,84.92 L455.00,84.92 Z" fill="none" stroke="#a8b0a8" stroke-width="0.5" opacity="0.45"/>
<path d="M459.95,80.24 L461.75,83.39 L458.15,83.39 Z" fill="none" stroke="#a8b0a8" stroke-width="0.5" opacity="0.45"/>
<path d="M463.88,81.61 L465.68,84.76 L462.08,84.76 Z" fill="none" stroke="#a8b0a8" stroke-width="0.5" opacity="0.45"/>
<rect x="471.70" y="80.95" width="3.00" height="3.00" fill="#8ea4bf" opacity="0.33"/>
<rect x="475.30" y="81.79" width="3.00" height="3.00" fill="#8ea4bf" opacity="0.33"/>
<rect x="477.10" y="80.71" width="3.00" height="3.00" fill="#8ea4bf" opacity="0.33"/>
<circle cx="482.50" cy="83.39" r="1.7" fill="#b8c8d8" opacity="0.5"/>
<circle cx="487.00" cy="82.49" r="1.7" fill="#b8c8d8" opacity="0.5"/>
<path d="M452.34,84.02 L454.14,87.17 L450.54,87.17 Z" fill="none" stroke="#a8b0a8" stroke-width="0.5" opacity="0.45"/>
<path d="M459.51,85.09 L461.31,88.24 L457.71,88.24 Z" fill="none" stroke="#a8b0a8" stroke-width="0.5" opacity="0.45"/>
<rect x="471.70" y="85.22" width="3.00" height="3.00" fill="#8ea4bf" opacity="0.33"/>
<rect x="475.30" y="84.89" width="3.00" height="3.00" fill="#8ea4bf" opacity="0.33"/>
<circle cx="482.50" cy="86.04" r="1.7" fill="#b8c8d8" opacity="0.5"/>
<circle cx="487.00" cy="85.68" r="1.7" fill="#b8c8d8" opacity="0.5"/>
<path d="M451.64,88.48 L453.44,91.63 L449.84,91.63 Z" fill="none" stroke="#a8b0a8" stroke-width="0.5" opacity="0.45"/>
<path d="M457.12,87.39 L458.92,90.54 L455.32,90.54 Z" fill="none" stroke="#a8b0a8" stroke-width="0.5" opacity="0.45"/>
<path d="M465.35,89.09 L467.15,92.24 L463.55,92.24 Z" fill="none" stroke="#a8b0a8" stroke-width="0.5" opacity="0.45"/>
<rect x="471.70" y="87.82" width="3.00" height="3.00" fill="#8ea4bf" opacity="0.33"/>
<rect x="473.50" y="88.07" width="3.00" height="3.00" fill="#8ea4bf" opacity="0.33"/>
<rect x="475.30" y="88.86" width="3.00" height="3.00" fill="#8ea4bf" opacity="0.33"/>
<rect x="477.10" y="88.46" width="3.00" height="3.00" fill="#8ea4bf" opacity="0.33"/>
<circle cx="487.00" cy="89.78" r="1.7" fill="#b8c8d8" opacity="0.5"/>
<path d="M453.22,93.15 L455.02,96.30 L451.42,96.30 Z" fill="none" stroke="#a8b0a8" stroke-width="0.5" opacity="0.45"/>
<path d="M459.89,93.27 L461.69,96.42 L458.09,96.42 Z" fill="none" stroke="#a8b0a8" stroke-width="0.5" opacity="0.45"/>
<rect x="470.00" y="93.97" width="3.00" height="3.00" fill="#8ea4bf" opacity="0.33"/>
<rect x="477.10" y="93.71" width="3.00" height="3.00" fill="#8ea4bf" opacity="0.33"/>
<circle cx="487.00" cy="94.54" r="1.7" fill="#b8c8d8" opacity="0.5"/>
<path d="M452.55,97.25 L454.35,100.40 L450.75,100.40 Z" fill="none" stroke="#a8b0a8" stroke-width="0.5" opacity="0.45"/>
<path d="M457.05,96.40 L458.85,99.55 L455.25,99.55 Z" fill="none" stroke="#a8b0a8" stroke-width="0.5" opacity="0.45"/>
<path d="M459.75,96.65 L461.55,99.80 L457.95,99.80 Z" fill="none" stroke="#a8b0a8" stroke-width="0.5" opacity="0.45"/>
<path d="M465.45,98.11 L467.25,101.26 L463.65,101.26 Z" fill="none" stroke="#a8b0a8" stroke-width="0.5" opacity="0.45"/>
<rect x="470.00" y="97.70" width="3.00" height="3.00" fill="#8ea4bf" opacity="0.33"/>
<rect x="471.70" y="97.40" width="3.00" height="3.00" fill="#8ea4bf" opacity="0.33"/>
<rect x="473.50" y="97.94" width="3.00" height="3.00" fill="#8ea4bf" opacity="0.33"/>
<rect x="475.30" y="97.48" width="3.00" height="3.00" fill="#8ea4bf" opacity="0.33"/>
<rect x="477.10" y="97.43" width="3.00" height="3.00" fill="#8ea4bf" opacity="0.33"/>
<circle cx="482.50" cy="99.31" r="1.7" fill="#b8c8d8" opacity="0.5"/>
<path d="M451.66,110.46 L453.46,113.61 L449.86,113.61 Z" fill="none" stroke="#a8b0a8" stroke-width="0.5" opacity="0.45"/>
<path d="M456.71,111.67 L458.51,114.82 L454.91,114.82 Z" fill="none" stroke="#a8b0a8" stroke-width="0.5" opacity="0.45"/>
<path d="M461.10,111.35 L462.90,114.50 L459.30,114.50 Z" fill="none" stroke="#a8b0a8" stroke-width="0.5" opacity="0.45"/>
<path d="M464.24,111.09 L466.04,114.24 L462.44,114.24 Z" fill="none" stroke="#a8b0a8" stroke-width="0.5" opacity="0.45"/>
<rect x="470.00" y="111.27" width="3.00" height="3.00" fill="#8ea4bf" opacity="0.33"/>
<rect x="471.70" y="111.34" width="3.00" height="3.00" fill="#8ea4bf" opacity="0.33"/>
<rect x="473.50" y="111.46" width="3.00" height="3.00" fill="#8ea4bf" opacity="0.33"/>
<rect x="475.30" y="110.71" width="3.00" height="3.00" fill="#8ea4bf" opacity="0.33"/>
<rect x="477.10" y="111.28" width="3.00" height="3.00" fill="#8ea4bf" opacity="0.33"/>
<path d="M453.30,133.48 L455.10,136.63 L451.50,136.63 Z" fill="none" stroke="#a8b0a8" stroke-width="0.5" opacity="0.45"/>
<path d="M456.43,132.15 L458.23,135.30 L454.63,135.30 Z" fill="none" stroke="#a8b0a8" stroke-width="0.5" opacity="0.45"/>
<path d="M465.27,133.48 L467.07,136.63 L463.47,136.63 Z" fill="none" stroke="#a8b0a8" stroke-width="0.5" opacity="0.45"/>
<rect x="470.00" y="133.57" width="3.00" height="3.00" fill="#8ea4bf" opacity="0.33"/>
<rect x="471.70" y="132.57" width="3.00" height="3.00" fill="#8ea4bf" opacity="0.33"/>
<rect x="473.50" y="132.41" width="3.00" height="3.00" fill="#8ea4bf" opacity="0.33"/>
<rect x="475.30" y="133.64" width="3.00" height="3.00" fill="#8ea4bf" opacity="0.33"/>
<rect x="477.10" y="132.55" width="3.00" height="3.00" fill="#8ea4bf" opacity="0.33"/>
<circle cx="482.50" cy="135.46" r="1.7" fill="#b8c8d8" opacity="0.5"/>
<circle cx="487.00" cy="133.75" r="1.7" fill="#b8c8d8" opacity="0.5"/>
<circle cx="538.06" cy="61.32" r="1.6" fill="none" stroke="#efc39a" stroke-width="0.5" opacity="0.5"/>
<circle cx="533.33" cy="61.31" r="1.6" fill="none" stroke="#efc39a" stroke-width="0.5" opacity="0.5"/>
<circle cx="527.30" cy="76.48" r="1.6" fill="none" stroke="#efc39a" stroke-width="0.5" opacity="0.5"/>
<circle cx="527.21" cy="61.62" r="1.6" fill="none" stroke="#efc39a" stroke-width="0.5" opacity="0.5"/>
<circle cx="514.73" cy="106.91" r="1.6" fill="none" stroke="#efc39a" stroke-width="0.5" opacity="0.5"/>
<circle cx="511.85" cy="124.59" r="1.6" fill="none" stroke="#efc39a" stroke-width="0.5" opacity="0.5"/>
<circle cx="533.62" cy="59.61" r="1.6" fill="none" stroke="#efc39a" stroke-width="0.5" opacity="0.5"/>
<circle cx="514.75" cy="100.04" r="1.6" fill="none" stroke="#efc39a" stroke-width="0.5" opacity="0.5"/>
<circle cx="520.21" cy="95.69" r="1.6" fill="none" stroke="#efc39a" stroke-width="0.5" opacity="0.5"/>
<circle cx="520.02" cy="97.10" r="1.6" fill="none" stroke="#efc39a" stroke-width="0.5" opacity="0.5"/>
<circle cx="528.06" cy="83.28" r="1.6" fill="none" stroke="#efc39a" stroke-width="0.5" opacity="0.5"/>
<circle cx="533.88" cy="68.90" r="1.6" fill="none" stroke="#efc39a" stroke-width="0.5" opacity="0.5"/>
<circle cx="529.99" cy="58.71" r="1.6" fill="none" stroke="#efc39a" stroke-width="0.5" opacity="0.5"/>
<circle cx="520.59" cy="78.66" r="1.6" fill="none" stroke="#efc39a" stroke-width="0.5" opacity="0.5"/>
<circle cx="519.99" cy="116.52" r="1.6" fill="none" stroke="#efc39a" stroke-width="0.5" opacity="0.5"/>
<circle cx="532.61" cy="49.37" r="1.6" fill="none" stroke="#efc39a" stroke-width="0.5" opacity="0.5"/>
<circle cx="531.62" cy="68.95" r="1.6" fill="none" stroke="#efc39a" stroke-width="0.5" opacity="0.5"/>
<circle cx="514.94" cy="106.88" r="1.6" fill="none" stroke="#efc39a" stroke-width="0.5" opacity="0.5"/>
<circle cx="515.35" cy="96.71" r="1.6" fill="none" stroke="#efc39a" stroke-width="0.5" opacity="0.5"/>
<circle cx="518.83" cy="96.77" r="1.6" fill="none" stroke="#efc39a" stroke-width="0.5" opacity="0.5"/>
<circle cx="532.16" cy="53.40" r="1.6" fill="none" stroke="#efc39a" stroke-width="0.5" opacity="0.5"/>
<circle cx="521.05" cy="107.82" r="1.6" fill="none" stroke="#efc39a" stroke-width="0.5" opacity="0.5"/>
<circle cx="523.28" cy="96.95" r="1.6" fill="none" stroke="#efc39a" stroke-width="0.5" opacity="0.5"/>
<circle cx="520.63" cy="96.39" r="1.6" fill="none" stroke="#efc39a" stroke-width="0.5" opacity="0.5"/>
<circle cx="533.75" cy="44.41" r="1.6" fill="none" stroke="#efc39a" stroke-width="0.5" opacity="0.5"/>
<circle cx="526.99" cy="80.22" r="1.6" fill="none" stroke="#efc39a" stroke-width="0.5" opacity="0.5"/>
<circle cx="521.73" cy="80.07" r="1.6" fill="none" stroke="#efc39a" stroke-width="0.5" opacity="0.5"/>
<circle cx="530.32" cy="58.57" r="1.6" fill="none" stroke="#efc39a" stroke-width="0.5" opacity="0.5"/>
<circle cx="534.85" cy="46.85" r="1.6" fill="none" stroke="#efc39a" stroke-width="0.5" opacity="0.5"/>
<circle cx="517.20" cy="99.87" r="1.6" fill="none" stroke="#efc39a" stroke-width="0.5" opacity="0.5"/>
<circle cx="538.28" cy="44.02" r="1.6" fill="none" stroke="#efc39a" stroke-width="0.5" opacity="0.5"/>
<circle cx="516.83" cy="112.02" r="1.6" fill="none" stroke="#efc39a" stroke-width="0.5" opacity="0.5"/>
<circle cx="534.38" cy="60.55" r="1.6" fill="none" stroke="#efc39a" stroke-width="0.5" opacity="0.5"/>
<circle cx="520.35" cy="101.49" r="1.6" fill="none" stroke="#efc39a" stroke-width="0.5" opacity="0.5"/>
<circle cx="522.84" cy="88.61" r="1.6" fill="none" stroke="#efc39a" stroke-width="0.5" opacity="0.5"/>
<circle cx="515.66" cy="114.53" r="1.6" fill="none" stroke="#efc39a" stroke-width="0.5" opacity="0.5"/>
<circle cx="517.33" cy="92.85" r="1.6" fill="none" stroke="#efc39a" stroke-width="0.5" opacity="0.5"/>
<circle cx="510.55" cy="128.12" r="1.6" fill="none" stroke="#efc39a" stroke-width="0.5" opacity="0.5"/>
<circle cx="525.62" cy="90.30" r="1.6" fill="none" stroke="#efc39a" stroke-width="0.5" opacity="0.5"/>
<circle cx="533.93" cy="49.84" r="1.6" fill="none" stroke="#efc39a" stroke-width="0.5" opacity="0.5"/>
<circle cx="514.41" cy="121.08" r="1.6" fill="none" stroke="#efc39a" stroke-width="0.5" opacity="0.5"/>
<circle cx="519.91" cy="110.07" r="1.6" fill="none" stroke="#efc39a" stroke-width="0.5" opacity="0.5"/>
<circle cx="517.23" cy="115.66" r="1.6" fill="none" stroke="#efc39a" stroke-width="0.5" opacity="0.5"/>
<circle cx="532.20" cy="58.32" r="1.6" fill="none" stroke="#efc39a" stroke-width="0.5" opacity="0.5"/>
<circle cx="526.49" cy="63.61" r="1.6" fill="none" stroke="#efc39a" stroke-width="0.5" opacity="0.5"/>
<circle cx="519.11" cy="93.02" r="1.6" fill="none" stroke="#efc39a" stroke-width="0.5" opacity="0.5"/>
<circle cx="528.06" cy="69.39" r="1.6" fill="none" stroke="#efc39a" stroke-width="0.5" opacity="0.5"/>
<circle cx="521.98" cy="89.60" r="1.6" fill="none" stroke="#efc39a" stroke-width="0.5" opacity="0.5"/>
<circle cx="527.90" cy="68.33" r="1.6" fill="none" stroke="#efc39a" stroke-width="0.5" opacity="0.5"/>
<circle cx="527.50" cy="70.21" r="1.6" fill="none" stroke="#efc39a" stroke-width="0.5" opacity="0.5"/>
<circle cx="534.28" cy="50.33" r="1.6" fill="none" stroke="#efc39a" stroke-width="0.5" opacity="0.5"/>
<circle cx="537.93" cy="51.37" r="1.6" fill="none" stroke="#efc39a" stroke-width="0.5" opacity="0.5"/>
<circle cx="527.61" cy="63.00" r="1.6" fill="none" stroke="#efc39a" stroke-width="0.5" opacity="0.5"/>
<circle cx="526.33" cy="72.82" r="1.6" fill="none" stroke="#efc39a" stroke-width="0.5" opacity="0.5"/>
<circle cx="520.91" cy="113.19" r="1.6" fill="none" stroke="#efc39a" stroke-width="0.5" opacity="0.5"/>
<circle cx="526.01" cy="102.46" r="1.6" fill="none" stroke="#f0cfae" stroke-width="0.5" opacity="0.5"/>
<circle cx="525.16" cy="81.31" r="1.6" fill="none" stroke="#f0cfae" stroke-width="0.5" opacity="0.5"/>
<circle cx="498.15" cy="84.09" r="1.6" fill="none" stroke="#f0cfae" stroke-width="0.5" opacity="0.5"/>
<circle cx="532.73" cy="44.84" r="1.6" fill="none" stroke="#f0cfae" stroke-width="0.5" opacity="0.5"/>
<circle cx="511.77" cy="68.43" r="1.6" fill="none" stroke="#f0cfae" stroke-width="0.5" opacity="0.5"/>
<circle cx="526.83" cy="80.72" r="1.6" fill="none" stroke="#f0cfae" stroke-width="0.5" opacity="0.5"/>
<circle cx="501.97" cy="86.38" r="1.6" fill="none" stroke="#f0cfae" stroke-width="0.5" opacity="0.5"/>
<circle cx="513.87" cy="128.75" r="1.6" fill="none" stroke="#f0cfae" stroke-width="0.5" opacity="0.5"/>
<circle cx="503.11" cy="137.39" r="1.6" fill="none" stroke="#f0cfae" stroke-width="0.5" opacity="0.5"/>
<circle cx="489.39" cy="71.11" r="1.6" fill="none" stroke="#f0cfae" stroke-width="0.5" opacity="0.5"/>
<circle cx="488.68" cy="52.96" r="1.6" fill="none" stroke="#f0cfae" stroke-width="0.5" opacity="0.5"/>
<circle cx="527.40" cy="123.64" r="1.6" fill="none" stroke="#f0cfae" stroke-width="0.5" opacity="0.5"/>
<circle cx="493.54" cy="61.75" r="1.6" fill="none" stroke="#f0cfae" stroke-width="0.5" opacity="0.5"/>
<circle cx="506.75" cy="125.48" r="1.6" fill="none" stroke="#f0cfae" stroke-width="0.5" opacity="0.5"/>
<circle cx="529.50" cy="126.10" r="1.6" fill="none" stroke="#f0cfae" stroke-width="0.5" opacity="0.5"/>
<circle cx="516.74" cy="56.84" r="1.6" fill="none" stroke="#f0cfae" stroke-width="0.5" opacity="0.5"/>
<circle cx="505.71" cy="62.27" r="1.6" fill="none" stroke="#f0cfae" stroke-width="0.5" opacity="0.5"/>
<circle cx="513.07" cy="105.36" r="1.6" fill="none" stroke="#f0cfae" stroke-width="0.5" opacity="0.5"/>
<circle cx="494.52" cy="68.77" r="1.6" fill="none" stroke="#f0cfae" stroke-width="0.5" opacity="0.5"/>
<circle cx="527.55" cy="43.46" r="1.6" fill="none" stroke="#f0cfae" stroke-width="0.5" opacity="0.5"/>
<circle cx="528.78" cy="142.49" r="1.6" fill="none" stroke="#f0cfae" stroke-width="0.5" opacity="0.5"/>
<circle cx="537.11" cy="84.06" r="1.6" fill="none" stroke="#f0cfae" stroke-width="0.5" opacity="0.5"/>
<circle cx="514.50" cy="107.05" r="1.6" fill="none" stroke="#f0cfae" stroke-width="0.5" opacity="0.5"/>
<circle cx="519.12" cy="152.35" r="1.6" fill="none" stroke="#f0cfae" stroke-width="0.5" opacity="0.5"/>
<circle cx="522.14" cy="74.43" r="1.6" fill="none" stroke="#f0cfae" stroke-width="0.5" opacity="0.5"/>
<circle cx="532.02" cy="95.67" r="1.6" fill="none" stroke="#f0cfae" stroke-width="0.5" opacity="0.5"/>
<circle cx="517.28" cy="123.59" r="1.6" fill="none" stroke="#f0cfae" stroke-width="0.5" opacity="0.5"/>
<circle cx="483.14" cy="128.60" r="1.6" fill="none" stroke="#f0cfae" stroke-width="0.5" opacity="0.5"/>
<circle cx="520.73" cy="96.57" r="1.6" fill="none" stroke="#f0cfae" stroke-width="0.5" opacity="0.5"/>
<circle cx="512.85" cy="92.96" r="1.6" fill="none" stroke="#f0cfae" stroke-width="0.5" opacity="0.5"/>
<circle cx="494.03" cy="100.90" r="1.6" fill="none" stroke="#f0cfae" stroke-width="0.5" opacity="0.5"/>
<circle cx="485.11" cy="97.55" r="1.6" fill="none" stroke="#f0cfae" stroke-width="0.5" opacity="0.5"/>
<circle cx="519.82" cy="91.09" r="1.6" fill="none" stroke="#f0cfae" stroke-width="0.5" opacity="0.5"/>
<circle cx="515.26" cy="150.29" r="1.6" fill="none" stroke="#f0cfae" stroke-width="0.5" opacity="0.5"/>
<circle cx="533.85" cy="55.59" r="1.6" fill="none" stroke="#f0cfae" stroke-width="0.5" opacity="0.5"/>
<circle cx="528.17" cy="111.68" r="1.6" fill="none" stroke="#f0cfae" stroke-width="0.5" opacity="0.5"/>
<circle cx="485.88" cy="81.39" r="1.6" fill="none" stroke="#f0cfae" stroke-width="0.5" opacity="0.5"/>
<circle cx="496.30" cy="48.95" r="1.6" fill="none" stroke="#f0cfae" stroke-width="0.5" opacity="0.5"/>
<circle cx="513.72" cy="146.93" r="1.6" fill="none" stroke="#f0cfae" stroke-width="0.5" opacity="0.5"/>
<circle cx="501.42" cy="140.11" r="1.6" fill="none" stroke="#f0cfae" stroke-width="0.5" opacity="0.5"/>
<circle cx="522.60" cy="55.45" r="1.6" fill="none" stroke="#f0cfae" stroke-width="0.5" opacity="0.5"/>
<circle cx="531.92" cy="109.13" r="1.6" fill="none" stroke="#f0cfae" stroke-width="0.5" opacity="0.5"/>
<circle cx="535.84" cy="122.33" r="1.6" fill="none" stroke="#f0cfae" stroke-width="0.5" opacity="0.5"/>
<circle cx="525.16" cy="79.51" r="1.6" fill="none" stroke="#f0cfae" stroke-width="0.5" opacity="0.5"/>
<circle cx="528.98" cy="147.15" r="1.6" fill="none" stroke="#f0cfae" stroke-width="0.5" opacity="0.5"/>
<circle cx="536.83" cy="79.33" r="1.6" fill="#c8d6e6" opacity="0.4"/>
<circle cx="530.65" cy="83.65" r="1.6" fill="#c8d6e6" opacity="0.4"/>
<circle cx="492.44" cy="43.84" r="1.6" fill="#c8d6e6" opacity="0.4"/>
<circle cx="490.60" cy="58.03" r="1.6" fill="#c8d6e6" opacity="0.4"/>
<circle cx="495.49" cy="84.74" r="1.6" fill="#c8d6e6" opacity="0.4"/>
<circle cx="527.26" cy="88.37" r="1.6" fill="#c8d6e6" opacity="0.4"/>
<circle cx="510.90" cy="98.43" r="1.6" fill="#c8d6e6" opacity="0.4"/>
<circle cx="503.97" cy="81.80" r="1.6" fill="#c8d6e6" opacity="0.4"/>
<circle cx="530.67" cy="76.13" r="1.6" fill="#c8d6e6" opacity="0.4"/>
<circle cx="496.65" cy="120.95" r="1.6" fill="#c8d6e6" opacity="0.4"/>
<circle cx="528.46" cy="73.02" r="1.6" fill="#c8d6e6" opacity="0.4"/>
<circle cx="507.89" cy="87.64" r="1.6" fill="#c8d6e6" opacity="0.4"/>
<circle cx="521.19" cy="60.15" r="1.6" fill="#c8d6e6" opacity="0.4"/>
<circle cx="486.16" cy="58.81" r="1.6" fill="#c8d6e6" opacity="0.4"/>
<circle cx="532.21" cy="52.91" r="1.6" fill="#c8d6e6" opacity="0.4"/>
<circle cx="513.14" cy="57.58" r="1.6" fill="#c8d6e6" opacity="0.4"/>
<circle cx="498.35" cy="55.37" r="1.6" fill="#c8d6e6" opacity="0.4"/>
<circle cx="509.82" cy="55.14" r="1.6" fill="#c8d6e6" opacity="0.4"/>
<line x1="377.40" y1="73.30" x2="637.80" y2="73.30" stroke="#d05050" stroke-width="1.1" />
<line x1="549.60" y1="73.30" x2="549.60" y2="195.20" stroke="#d05050" stroke-width="1.1" />
<line x1="518.70" y1="111.50" x2="572.70" y2="45.00" stroke="#333" stroke-width="0.7" />
<path d="M518.70,109.95 L520.56,111.50 L518.70,113.05 L516.84,111.50 Z" fill="#a3c9e6" stroke="#456a94" stroke-width="0.55" opacity="1"/>
<path d="M518.40,120.75 L520.26,122.30 L518.40,123.85 L516.54,122.30 Z" fill="#a3c9e6" stroke="#456a94" stroke-width="0.55" opacity="1"/>
<path d="M521.70,101.95 L523.56,103.50 L521.70,105.05 L519.84,103.50 Z" fill="#a3c9e6" stroke="#456a94" stroke-width="0.55" opacity="1"/>
<path d="M528.40,95.55 L530.26,97.10 L528.40,98.65 L526.54,97.10 Z" fill="#a3c9e6" stroke="#456a94" stroke-width="0.55" opacity="1"/>
<path d="M529.20,90.25 L531.06,91.80 L529.20,93.35 L527.34,91.80 Z" fill="#a3c9e6" stroke="#456a94" stroke-width="0.55" opacity="1"/>
<path d="M536.40,84.85 L538.26,86.40 L536.40,87.95 L534.54,86.40 Z" fill="#a3c9e6" stroke="#456a94" stroke-width="0.55" opacity="1"/>
<path d="M539.30,80.75 L541.16,82.30 L539.30,83.85 L537.44,82.30 Z" fill="#a3c9e6" stroke="#456a94" stroke-width="0.55" opacity="1"/>
<path d="M551.50,75.75 L553.36,77.30 L551.50,78.85 L549.64,77.30 Z" fill="#a3c9e6" stroke="#456a94" stroke-width="0.55" opacity="1"/>
<path d="M551.50,73.05 L553.36,74.60 L551.50,76.15 L549.64,74.60 Z" fill="#a3c9e6" stroke="#456a94" stroke-width="0.55" opacity="1"/>
<path d="M552.10,68.15 L553.96,69.70 L552.10,71.25 L550.24,69.70 Z" fill="#a3c9e6" stroke="#456a94" stroke-width="0.55" opacity="1"/>
<path d="M553.10,63.85 L554.96,65.40 L553.10,66.95 L551.24,65.40 Z" fill="#a3c9e6" stroke="#456a94" stroke-width="0.55" opacity="1"/>
<path d="M554.80,59.05 L556.66,60.60 L554.80,62.15 L552.94,60.60 Z" fill="#a3c9e6" stroke="#456a94" stroke-width="0.55" opacity="1"/>
<path d="M563.50,53.45 L565.36,55.00 L563.50,56.55 L561.64,55.00 Z" fill="#a3c9e6" stroke="#456a94" stroke-width="0.55" opacity="1"/>
<path d="M573.20,47.65 L575.06,49.20 L573.20,50.75 L571.34,49.20 Z" fill="#a3c9e6" stroke="#456a94" stroke-width="0.55" opacity="1"/>
<text x="551" y="177.3" font-family="Liberation Sans" font-size="5.4" text-anchor="start" font-weight="normal" font-style="normal" fill="#222" >DBS = 447 kV/mm</text>
<text x="551" y="184.6" font-family="Liberation Sans" font-size="5.4" text-anchor="start" font-weight="normal" font-style="normal" fill="#222" >beta = 1.40</text>
<text x="551" y="191.6" font-family="Liberation Sans" font-size="5.4" text-anchor="start" font-weight="normal" font-style="normal" fill="#d03c3c" >R^2 = 0.95</text>
<text x="643.5" y="27.3" font-family="Liberation Sans" font-size="4.5" text-anchor="start" font-weight="bold" font-style="normal" fill="#222" >Matrix</text>
<circle cx="645.60" cy="31.30" r="1.8" fill="#4c78a8" stroke="#555" stroke-width="0.3"/>
<text x="648.9" y="32.9" font-family="Liberation Sans" font-size="4.6" text-anchor="start" font-weight="normal" font-style="normal" fill="#333" transform="translate(648.9 32.9) scale(0.81 1) translate(-648.9 -32.9)" >DGEBA Epoxy Resin</text>
<circle cx="645.60" cy="36.90" r="1.8" fill="#9ecae9" stroke="#555" stroke-width="0.3"/>
<text x="648.9" y="38.5" font-family="Liberation Sans" font-size="4.6" text-anchor="start" font-weight="normal" font-style="normal" fill="#333" transform="translate(648.9 38.5) scale(0.81 1) translate(-648.9 -38.5)" >Poly(ethylene)</text>
<circle cx="645.60" cy="42.50" r="1.8" fill="#f58518" stroke="#555" stroke-width="0.3"/>
<text x="648.9" y="44.1" font-family="Liberation Sans" font-size="4.6" text-anchor="start" font-weight="normal" font-style="normal" fill="#333" transform="translate(648.9 44.1) scale(0.81 1) translate(-648.9 -44.1)" >Poly(propylene)</text>
<circle cx="645.60" cy="48.10" r="1.8" fill="#ffbf79" stroke="#555" stroke-width="0.3"/>
<text x="648.9" y="49.699999999999996" font-family="Liberation Sans" font-size="4.6" text-anchor="start" font-weight="normal" font-style="normal" fill="#333" transform="translate(648.9 49.699999999999996) scale(0.81 1) translate(-648.9 -49.699999999999996)" >Polyamide-imide</text>
<circle cx="645.60" cy="53.70" r="1.8" fill="#54a24b" stroke="#555" stroke-width="0.3"/>
<text x="648.9" y="55.300000000000004" font-family="Liberation Sans" font-size="4.6" text-anchor="start" font-weight="normal" font-style="normal" fill="#333" transform="translate(648.9 55.300000000000004) scale(0.81 1) translate(-648.9 -55.300000000000004)" >Silicone rubber</text>
<text x="643.5" y="62.8" font-family="Liberation Sans" font-size="4.5" text-anchor="start" font-weight="bold" font-style="normal" fill="#222" >Filler</text>
<circle cx="645.60" cy="66.60" r="1.7" fill="#111" />
<text x="648.9" y="68.19999999999999" font-family="Liberation Sans" font-size="4.6" text-anchor="start" font-weight="normal" font-style="normal" fill="#333" transform="translate(648.9 68.19999999999999) scale(0.81 1) translate(-648.9 -68.19999999999999)" >undefined</text>
<rect x="644.00" y="70.40" width="3.20" height="3.20" fill="#111" />
<text x="648.9" y="73.6" font-family="Liberation Sans" font-size="4.6" text-anchor="start" font-weight="normal" font-style="normal" fill="#333" transform="translate(648.9 73.6) scale(0.81 1) translate(-648.9 -73.6)" >Aluminium oxide</text>
<path d="M645.6,75.6 L647.5,78.9 L643.7,78.9 Z" fill="#111" stroke="none" stroke-width="1" />
<text x="648.9" y="79.1" font-family="Liberation Sans" font-size="4.6" text-anchor="start" font-weight="normal" font-style="normal" fill="#333" transform="translate(648.9 79.1) scale(0.81 1) translate(-648.9 -79.1)" >Barium titanate</text>
<path d="M645.60,80.80 L647.64,82.50 L645.60,84.20 L643.56,82.50 Z" fill="#111" stroke="none" stroke-width="0" opacity="1"/>
<text x="648.9" y="84.1" font-family="Liberation Sans" font-size="4.6" text-anchor="start" font-weight="normal" font-style="normal" fill="#333" transform="translate(648.9 84.1) scale(0.81 1) translate(-648.9 -84.1)" >Graphene</text>
<rect x="554.20" y="83.50" width="127.30" height="78.40" fill="#fff" stroke="#c8c8c8" stroke-width="0.6" fill-opacity="0.93"/>
<text x="612.6" y="92.4" font-family="Liberation Sans" font-size="8" text-anchor="end" font-weight="normal" font-style="normal" fill="#808080" >Probability:</text>
<text x="615.6" y="92.4" font-family="Liberation Sans" font-size="8" text-anchor="start" font-weight="normal" font-style="normal" fill="#222" >56.2%</text>
<text x="612.6" y="103.15" font-family="Liberation Sans" font-size="8" text-anchor="end" font-weight="normal" font-style="normal" fill="#808080" >Electric Field:</text>
<text x="615.6" y="103.15" font-family="Liberation Sans" font-size="8" text-anchor="start" font-weight="normal" font-style="normal" fill="#222" >477.3 kV/mm</text>
<text x="612.6" y="113.9" font-family="Liberation Sans" font-size="8" text-anchor="end" font-weight="normal" font-style="normal" fill="#808080" >Matrix:</text>
<text x="615.6" y="113.9" font-family="Liberation Sans" font-size="8" text-anchor="start" font-weight="normal" font-style="normal" fill="#222" >Poly(ethylene)</text>
<text x="612.6" y="124.65" font-family="Liberation Sans" font-size="8" text-anchor="end" font-weight="normal" font-style="normal" fill="#808080" >Filler:</text>
<text x="615.6" y="124.65" font-family="Liberation Sans" font-size="8" text-anchor="start" font-weight="normal" font-style="normal" fill="#222" >Silicon dioxide</text>
<text x="612.6" y="135.4" font-family="Liberation Sans" font-size="8" text-anchor="end" font-weight="normal" font-style="normal" fill="#808080" >Loading_mass:</text>
<text x="615.6" y="135.4" font-family="Liberation Sans" font-size="8" text-anchor="start" font-weight="normal" font-style="normal" fill="#222" >5.0%</text>
<text x="612.6" y="146.15" font-family="Liberation Sans" font-size="8" text-anchor="end" font-weight="normal" font-style="normal" fill="#808080" >Loading_vol:</text>
<text x="615.6" y="146.15" font-family="Liberation Sans" font-size="8" text-anchor="start" font-weight="normal" font-style="normal" fill="#222" >1.8%</text>
<text x="612.6" y="156.9" font-family="Liberation Sans" font-size="8" text-anchor="end" font-weight="normal" font-style="normal" fill="#808080" >Sample ID:</text>
<text x="615.6" y="156.9" font-family="Liberation Sans" font-size="8" text-anchor="start" font-weight="normal" font-style="normal" fill="#222" >I155-s3-roy-2005</text>
<circle cx="645.60" cy="88.00" r="1.7" fill="#ddd" />
<text x="648.9" y="89.6" font-family="Liberation Sans" font-size="4.6" text-anchor="start" font-weight="normal" font-style="normal" fill="#ddd" transform="translate(648.9 89.6) scale(0.81 1) translate(-648.9 -89.6)" >Silicon dioxide</text>
<path d="M644,91.6 L647.4,93.3 L644,95 Z" fill="#ddd" stroke="none" stroke-width="1" />
<text x="648.9" y="95" font-family="Liberation Sans" font-size="4.6" text-anchor="start" font-weight="normal" font-style="normal" fill="#ddd" transform="translate(648.9 95) scale(0.81 1) translate(-648.9 -95)" >Titanium dioxide</text>
<path d="M551.40,78.20 L551.40,93.20 L555.00,89.80 L557.60,95.20 L559.80,94.20 L557.30,89.00 L562.20,89.00 Z" fill="#fff" stroke="#000" stroke-width="0.9" stroke-linejoin="round"/>
<line x1="39.30" y1="260.90" x2="125.40" y2="260.90" stroke="#e8e8e8" stroke-width="0.5" />
<line x1="125.40" y1="260.90" x2="125.40" y2="346.20" stroke="#e8e8e8" stroke-width="0.5" />
<line x1="39.30" y1="346.20" x2="125.40" y2="346.20" stroke="#e8e8e8" stroke-width="0.5" />
<line x1="37.30" y1="346.20" x2="39.30" y2="346.20" stroke="#999" stroke-width="0.5" />
<text x="37" y="347.8" font-family="Liberation Sans" font-size="4.8" text-anchor="end" font-weight="normal" font-style="normal" fill="#1e1e1e" >0</text>
<line x1="39.30" y1="333.08" x2="125.40" y2="333.08" stroke="#e8e8e8" stroke-width="0.5" />
<line x1="37.30" y1="333.08" x2="39.30" y2="333.08" stroke="#999" stroke-width="0.5" />
<text x="37" y="334.683" font-family="Liberation Sans" font-size="4.8" text-anchor="end" font-weight="normal" font-style="normal" fill="#1e1e1e" >10</text>
<line x1="39.30" y1="319.97" x2="125.40" y2="319.97" stroke="#e8e8e8" stroke-width="0.5" />
<line x1="37.30" y1="319.97" x2="39.30" y2="319.97" stroke="#999" stroke-width="0.5" />
<text x="37" y="321.56600000000003" font-family="Liberation Sans" font-size="4.8" text-anchor="end" font-weight="normal" font-style="normal" fill="#1e1e1e" >20</text>
<line x1="39.30" y1="306.85" x2="125.40" y2="306.85" stroke="#e8e8e8" stroke-width="0.5" />
<line x1="37.30" y1="306.85" x2="39.30" y2="306.85" stroke="#999" stroke-width="0.5" />
<text x="37" y="308.449" font-family="Liberation Sans" font-size="4.8" text-anchor="end" font-weight="normal" font-style="normal" fill="#1e1e1e" >30</text>
<line x1="39.30" y1="293.73" x2="125.40" y2="293.73" stroke="#e8e8e8" stroke-width="0.5" />
<line x1="37.30" y1="293.73" x2="39.30" y2="293.73" stroke="#999" stroke-width="0.5" />
<text x="37" y="295.332" font-family="Liberation Sans" font-size="4.8" text-anchor="end" font-weight="normal" font-style="normal" fill="#1e1e1e" >40</text>
<line x1="39.30" y1="280.62" x2="125.40" y2="280.62" stroke="#e8e8e8" stroke-width="0.5" />
<line x1="37.30" y1="280.62" x2="39.30" y2="280.62" stroke="#999" stroke-width="0.5" />
<text x="37" y="282.21500000000003" font-family="Liberation Sans" font-size="4.8" text-anchor="end" font-weight="normal" font-style="normal" fill="#1e1e1e" >50</text>
<line x1="39.30" y1="267.50" x2="125.40" y2="267.50" stroke="#e8e8e8" stroke-width="0.5" />
<line x1="37.30" y1="267.50" x2="39.30" y2="267.50" stroke="#999" stroke-width="0.5" />
<text x="37" y="269.098" font-family="Liberation Sans" font-size="4.8" text-anchor="end" font-weight="normal" font-style="normal" fill="#1e1e1e" >60</text>
<line x1="39.30" y1="260.90" x2="39.30" y2="346.20" stroke="#999" stroke-width="0.6" />
<line x1="39.30" y1="346.20" x2="125.40" y2="346.20" stroke="#999" stroke-width="0.6" />
<text x="29.3" y="303.3" font-family="Liberation Sans" font-size="5.98" text-anchor="middle" font-weight="bold" font-style="normal" fill="#222" transform="rotate(-90 29.3 303.3)" >Count of Articles (All Years)</text>
<line x1="43.80" y1="346.20" x2="43.80" y2="348.20" stroke="#999" stroke-width="0.5" />
<text x="45.5" y="349.7" font-family="Liberation Sans" font-size="4.85" text-anchor="end" font-weight="normal" font-style="normal" fill="#222" transform="rotate(-90 45.5 349.7)" >All Others</text>
<line x1="52.32" y1="346.20" x2="52.32" y2="348.20" stroke="#999" stroke-width="0.5" />
<text x="54.019999999999996" y="349.7" font-family="Liberation Sans" font-size="4.85" text-anchor="end" font-weight="normal" font-style="normal" fill="#222" transform="rotate(-90 54.019999999999996 349.7)" >Silicon dioxide</text>
<rect x="48.52" y="274.06" width="7.60" height="72.14" fill="#79706e" />
<line x1="60.84" y1="346.20" x2="60.84" y2="348.20" stroke="#999" stroke-width="0.5" />
<text x="62.54" y="349.7" font-family="Liberation Sans" font-size="4.85" text-anchor="end" font-weight="normal" font-style="normal" fill="#222" transform="rotate(-90 62.54 349.7)" >Multi-wall carbon nanotubes</text>
<rect x="57.04" y="314.72" width="7.60" height="31.48" fill="#8cd17d" />
<line x1="69.36" y1="346.20" x2="69.36" y2="348.20" stroke="#999" stroke-width="0.5" />
<text x="71.06" y="349.7" font-family="Liberation Sans" font-size="4.85" text-anchor="end" font-weight="normal" font-style="normal" fill="#222" transform="rotate(-90 71.06 349.7)" >Titanium dioxide</text>
<rect x="65.56" y="321.28" width="7.60" height="24.92" fill="#9d7660" />
<line x1="77.88" y1="346.20" x2="77.88" y2="348.20" stroke="#999" stroke-width="0.5" />
<text x="79.58" y="349.7" font-family="Liberation Sans" font-size="4.85" text-anchor="end" font-weight="normal" font-style="normal" fill="#222" transform="rotate(-90 79.58 349.7)" >Graphene</text>
<rect x="74.08" y="321.28" width="7.60" height="24.92" fill="#d4a6c8" />
<line x1="86.40" y1="346.20" x2="86.40" y2="348.20" stroke="#999" stroke-width="0.5" />
<text x="88.1" y="349.7" font-family="Liberation Sans" font-size="4.85" text-anchor="end" font-weight="normal" font-style="normal" fill="#222" transform="rotate(-90 88.1 349.7)" >Barium titanate</text>
<rect x="82.60" y="330.46" width="7.60" height="15.74" fill="#8cd17d" />
<line x1="94.92" y1="346.20" x2="94.92" y2="348.20" stroke="#999" stroke-width="0.5" />
<text x="96.62" y="349.7" font-family="Liberation Sans" font-size="4.85" text-anchor="end" font-weight="normal" font-style="normal" fill="#222" transform="rotate(-90 96.62 349.7)" >Graphite</text>
<rect x="91.12" y="333.08" width="7.60" height="13.12" fill="#9d7660" />
<line x1="103.44" y1="346.20" x2="103.44" y2="348.20" stroke="#999" stroke-width="0.5" />
<text x="105.14" y="349.7" font-family="Liberation Sans" font-size="4.85" text-anchor="end" font-weight="normal" font-style="normal" fill="#222" transform="rotate(-90 105.14 349.7)" >Aluminium oxide</text>
<rect x="99.64" y="333.08" width="7.60" height="13.12" fill="#ffbe7d" />
<line x1="111.96" y1="346.20" x2="111.96" y2="348.20" stroke="#999" stroke-width="0.5" />
<text x="113.66" y="349.7" font-family="Liberation Sans" font-size="4.85" text-anchor="end" font-weight="normal" font-style="normal" fill="#222" transform="rotate(-90 113.66 349.7)" >Montmorillonite</text>
<rect x="108.16" y="334.39" width="7.60" height="11.81" fill="#59a14f" />
<line x1="120.48" y1="346.20" x2="120.48" y2="348.20" stroke="#999" stroke-width="0.5" />
<text x="122.17999999999999" y="349.7" font-family="Liberation Sans" font-size="4.85" text-anchor="end" font-weight="normal" font-style="normal" fill="#222" transform="rotate(-90 122.17999999999999 349.7)" >Graphene oxide</text>
<rect x="116.68" y="334.39" width="7.60" height="11.81" fill="#d4a6c8" />
<rect x="40.00" y="345.28" width="7.60" height="0.92" fill="#a0cbe8" />
<rect x="40.00" y="338.99" width="7.60" height="6.30" fill="#4e79a7" />
<rect x="40.00" y="336.49" width="7.60" height="2.49" fill="#e6b8cf" />
<rect x="40.00" y="327.05" width="7.60" height="9.44" fill="#b07aa1" />
<rect x="40.00" y="326.13" width="7.60" height="0.92" fill="#f6dbe6" />
<rect x="40.00" y="324.29" width="7.60" height="1.84" fill="#d37295" />
<rect x="40.00" y="323.64" width="7.60" height="0.66" fill="#fbe3ea" />
<rect x="40.00" y="317.74" width="7.60" height="5.90" fill="#bab0ac" />
<rect x="40.00" y="316.29" width="7.60" height="1.44" fill="#ff9d9a" />
<rect x="40.00" y="314.98" width="7.60" height="1.31" fill="#e15759" />
<rect x="40.00" y="313.15" width="7.60" height="1.84" fill="#6eaaa5" />
<rect x="40.00" y="311.70" width="7.60" height="1.44" fill="#f1ce63" />
<rect x="40.00" y="310.39" width="7.60" height="1.31" fill="#b6992d" />
<rect x="40.00" y="308.95" width="7.60" height="1.44" fill="#f28e2b" />
<rect x="40.00" y="307.50" width="7.60" height="1.44" fill="#ffbe7d" />
<rect x="40.00" y="306.19" width="7.60" height="1.31" fill="#4e79a7" />
<rect x="40.00" y="304.75" width="7.60" height="1.44" fill="#a0cbe8" />
<rect x="40.00" y="302.65" width="7.60" height="2.10" fill="#d7b5a6" />
<rect x="40.00" y="301.86" width="7.60" height="0.79" fill="#fabfd2" />
<rect x="40.00" y="299.77" width="7.60" height="2.10" fill="#e3a1c2" />
<rect x="40.00" y="298.72" width="7.60" height="1.05" fill="#f8eef2" />
<rect x="40.00" y="297.40" width="7.60" height="1.31" fill="#79706e" />
<rect x="40.00" y="295.96" width="7.60" height="1.44" fill="#fabfd2" />
<rect x="40.00" y="290.85" width="7.60" height="5.12" fill="#ff9d9a" />
<rect x="40.00" y="289.01" width="7.60" height="1.84" fill="#e15759" />
<rect x="40.00" y="277.60" width="7.60" height="11.41" fill="#86bcb6" />
<rect x="40.00" y="276.81" width="7.60" height="0.79" fill="#499894" />
<rect x="40.00" y="273.40" width="7.60" height="3.41" fill="#f1ce63" />
<rect x="40.00" y="270.51" width="7.60" height="2.89" fill="#59a14f" />
<rect x="40.00" y="269.20" width="7.60" height="1.31" fill="#8cd17d" />
<rect x="40.00" y="268.42" width="7.60" height="0.79" fill="#f28e2b" />
<rect x="40.00" y="267.50" width="7.60" height="0.92" fill="#ffbe7d" />
<rect x="40.00" y="266.71" width="7.60" height="0.79" fill="#4e79a7" />
<rect x="40.00" y="266.19" width="7.60" height="0.52" fill="#a0cbe8" />
<text x="82.5" y="409" font-family="Liberation Sans" font-size="5.8" text-anchor="middle" font-weight="bold" font-style="normal" fill="#222" >Filler Material</text>
<line x1="150.30" y1="261.10" x2="331.00" y2="261.10" stroke="#e8e8e8" stroke-width="0.5" />
<line x1="331.00" y1="261.10" x2="331.00" y2="346.40" stroke="#e8e8e8" stroke-width="0.5" />
<line x1="150.30" y1="346.40" x2="331.00" y2="346.40" stroke="#e8e8e8" stroke-width="0.5" />
<line x1="148.30" y1="346.40" x2="150.30" y2="346.40" stroke="#999" stroke-width="0.5" />
<text x="148.5" y="348.0" font-family="Liberation Sans" font-size="4.8" text-anchor="end" font-weight="normal" font-style="normal" fill="#1e1e1e" >0</text>
<line x1="150.30" y1="325.07" x2="331.00" y2="325.07" stroke="#e8e8e8" stroke-width="0.5" />
<line x1="148.30" y1="325.07" x2="150.30" y2="325.07" stroke="#999" stroke-width="0.5" />
<text x="148.5" y="326.675" font-family="Liberation Sans" font-size="4.8" text-anchor="end" font-weight="normal" font-style="normal" fill="#1e1e1e" >5</text>
<line x1="150.30" y1="303.75" x2="331.00" y2="303.75" stroke="#e8e8e8" stroke-width="0.5" />
<line x1="148.30" y1="303.75" x2="150.30" y2="303.75" stroke="#999" stroke-width="0.5" />
<text x="148.5" y="305.35" font-family="Liberation Sans" font-size="4.8" text-anchor="end" font-weight="normal" font-style="normal" fill="#1e1e1e" >10</text>
<line x1="150.30" y1="282.42" x2="331.00" y2="282.42" stroke="#e8e8e8" stroke-width="0.5" />
<line x1="148.30" y1="282.42" x2="150.30" y2="282.42" stroke="#999" stroke-width="0.5" />
<text x="148.5" y="284.025" font-family="Liberation Sans" font-size="4.8" text-anchor="end" font-weight="normal" font-style="normal" fill="#1e1e1e" >15</text>
<line x1="150.30" y1="261.10" x2="331.00" y2="261.10" stroke="#e8e8e8" stroke-width="0.5" />
<line x1="148.30" y1="261.10" x2="150.30" y2="261.10" stroke="#999" stroke-width="0.5" />
<text x="148.5" y="262.7" font-family="Liberation Sans" font-size="4.8" text-anchor="end" font-weight="normal" font-style="normal" fill="#1e1e1e" >20</text>
<path d="M154.60,346.4 L154.60,342.13 L163.16,337.02 L171.73,333.18 L180.29,324.65 L188.86,302.90 L197.42,270.06 L205.99,290.95 L214.56,290.95 L223.12,261.95 L231.69,290.95 L240.25,302.90 L248.81,299.48 L257.38,278.59 L265.94,290.95 L274.51,299.48 L283.07,303.75 L291.64,325.07 L300.20,303.75 L308.77,325.07 L317.33,329.34 L325.90,342.99 L325.90,346.4 Z" fill="#dcdcdc" stroke="none" stroke-width="1" />
<rect x="218.87" y="342.13" width="8.50" height="4.26" fill="#b5729f" stroke="#c996b8" stroke-width="0.3"/>
<rect x="236.00" y="342.13" width="8.50" height="4.26" fill="#b5729f" stroke="#c996b8" stroke-width="0.3"/>
<rect x="244.56" y="342.13" width="8.50" height="4.26" fill="#b5729f" stroke="#c996b8" stroke-width="0.3"/>
<rect x="253.13" y="337.87" width="8.50" height="8.53" fill="#b5729f" stroke="#c996b8" stroke-width="0.3"/>
<rect x="261.69" y="342.13" width="8.50" height="4.26" fill="#b5729f" stroke="#c996b8" stroke-width="0.3"/>
<rect x="278.82" y="329.34" width="8.50" height="17.06" fill="#b5729f" stroke="#c996b8" stroke-width="0.3"/>
<rect x="287.39" y="337.87" width="8.50" height="8.53" fill="#b5729f" stroke="#c996b8" stroke-width="0.3"/>
<rect x="295.95" y="325.07" width="8.50" height="21.32" fill="#b5729f" stroke="#c996b8" stroke-width="0.3"/>
<rect x="304.52" y="337.87" width="8.50" height="8.53" fill="#b5729f" stroke="#c996b8" stroke-width="0.3"/>
<line x1="150.30" y1="261.10" x2="150.30" y2="346.40" stroke="#999" stroke-width="0.6" />
<line x1="150.30" y1="346.40" x2="331.00" y2="346.40" stroke="#999" stroke-width="0.6" />
<line x1="154.60" y1="346.40" x2="154.60" y2="348.40" stroke="#999" stroke-width="0.5" />
<text x="156.1" y="349.5" font-family="Liberation Sans" font-size="4.4" text-anchor="end" font-weight="normal" font-style="normal" fill="#333" transform="rotate(-90 156.1 349.5)" >1999</text>
<line x1="163.16" y1="346.40" x2="163.16" y2="348.40" stroke="#999" stroke-width="0.5" />
<text x="164.665" y="349.5" font-family="Liberation Sans" font-size="4.4" text-anchor="end" font-weight="normal" font-style="normal" fill="#333" transform="rotate(-90 164.665 349.5)" >2001</text>
<line x1="171.73" y1="346.40" x2="171.73" y2="348.40" stroke="#999" stroke-width="0.5" />
<text x="173.23" y="349.5" font-family="Liberation Sans" font-size="4.4" text-anchor="end" font-weight="normal" font-style="normal" fill="#333" transform="rotate(-90 173.23 349.5)" >2002</text>
<line x1="180.29" y1="346.40" x2="180.29" y2="348.40" stroke="#999" stroke-width="0.5" />
<text x="181.795" y="349.5" font-family="Liberation Sans" font-size="4.4" text-anchor="end" font-weight="normal" font-style="normal" fill="#333" transform="rotate(-90 181.795 349.5)" >2003</text>
<line x1="188.86" y1="346.40" x2="188.86" y2="348.40" stroke="#999" stroke-width="0.5" />
<text x="190.35999999999999" y="349.5" font-family="Liberation Sans" font-size="4.4" text-anchor="end" font-weight="normal" font-style="normal" fill="#333" transform="rotate(-90 190.35999999999999 349.5)" >2004</text>
<line x1="197.42" y1="346.40" x2="197.42" y2="348.40" stroke="#999" stroke-width="0.5" />
<text x="198.92499999999998" y="349.5" font-family="Liberation Sans" font-size="4.4" text-anchor="end" font-weight="normal" font-style="normal" fill="#333" transform="rotate(-90 198.92499999999998 349.5)" >2005</text>
<line x1="205.99" y1="346.40" x2="205.99" y2="348.40" stroke="#999" stroke-width="0.5" />
<text x="207.49" y="349.5" font-family="Liberation Sans" font-size="4.4" text-anchor="end" font-weight="normal" font-style="normal" fill="#333" transform="rotate(-90 207.49 349.5)" >2006</text>
<line x1="214.56" y1="346.40" x2="214.56" y2="348.40" stroke="#999" stroke-width="0.5" />
<text x="216.055" y="349.5" font-family="Liberation Sans" font-size="4.4" text-anchor="end" font-weight="normal" font-style="normal" fill="#333" transform="rotate(-90 216.055 349.5)" >2007</text>
<line x1="223.12" y1="346.40" x2="223.12" y2="348.40" stroke="#999" stroke-width="0.5" />
<text x="224.62" y="349.5" font-family="Liberation Sans" font-size="4.4" text-anchor="end" font-weight="normal" font-style="normal" fill="#333" transform="rotate(-90 224.62 349.5)" >2008</text>
<line x1="231.69" y1="346.40" x2="231.69" y2="348.40" stroke="#999" stroke-width="0.5" />
<text x="233.185" y="349.5" font-family="Liberation Sans" font-size="4.4" text-anchor="end" font-weight="normal" font-style="normal" fill="#333" transform="rotate(-90 233.185 349.5)" >2009</text>
<line x1="240.25" y1="346.40" x2="240.25" y2="348.40" stroke="#999" stroke-width="0.5" />
<text x="241.75" y="349.5" font-family="Liberation Sans" font-size="4.4" text-anchor="end" font-weight="normal" font-style="normal" fill="#333" transform="rotate(-90 241.75 349.5)" >2010</text>
<line x1="248.81" y1="346.40" x2="248.81" y2="348.40" stroke="#999" stroke-width="0.5" />
<text x="250.315" y="349.5" font-family="Liberation Sans" font-size="4.4" text-anchor="end" font-weight="normal" font-style="normal" fill="#333" transform="rotate(-90 250.315 349.5)" >2011</text>
<line x1="257.38" y1="346.40" x2="257.38" y2="348.40" stroke="#999" stroke-width="0.5" />
<text x="258.88" y="349.5" font-family="Liberation Sans" font-size="4.4" text-anchor="end" font-weight="normal" font-style="normal" fill="#333" transform="rotate(-90 258.88 349.5)" >2012</text>
<line x1="265.94" y1="346.40" x2="265.94" y2="348.40" stroke="#999" stroke-width="0.5" />
<text x="267.445" y="349.5" font-family="Liberation Sans" font-size="4.4" text-anchor="end" font-weight="normal" font-style="normal" fill="#333" transform="rotate(-90 267.445 349.5)" >2013</text>
<line x1="274.51" y1="346.40" x2="274.51" y2="348.40" stroke="#999" stroke-width="0.5" />
<text x="276.01" y="349.5" font-family="Liberation Sans" font-size="4.4" text-anchor="end" font-weight="normal" font-style="normal" fill="#333" transform="rotate(-90 276.01 349.5)" >2014</text>
<line x1="283.07" y1="346.40" x2="283.07" y2="348.40" stroke="#999" stroke-width="0.5" />
<text x="284.575" y="349.5" font-family="Liberation Sans" font-size="4.4" text-anchor="end" font-weight="normal" font-style="normal" fill="#333" transform="rotate(-90 284.575 349.5)" >2015</text>
<line x1="291.64" y1="346.40" x2="291.64" y2="348.40" stroke="#999" stroke-width="0.5" />
<text x="293.14" y="349.5" font-family="Liberation Sans" font-size="4.4" text-anchor="end" font-weight="normal" font-style="normal" fill="#333" transform="rotate(-90 293.14 349.5)" >2016</text>
<line x1="300.20" y1="346.40" x2="300.20" y2="348.40" stroke="#999" stroke-width="0.5" />
<text x="301.705" y="349.5" font-family="Liberation Sans" font-size="4.4" text-anchor="end" font-weight="normal" font-style="normal" fill="#333" transform="rotate(-90 301.705 349.5)" >2017</text>
<line x1="308.77" y1="346.40" x2="308.77" y2="348.40" stroke="#999" stroke-width="0.5" />
<text x="310.27" y="349.5" font-family="Liberation Sans" font-size="4.4" text-anchor="end" font-weight="normal" font-style="normal" fill="#333" transform="rotate(-90 310.27 349.5)" >2018</text>
<line x1="317.33" y1="346.40" x2="317.33" y2="348.40" stroke="#999" stroke-width="0.5" />
<text x="318.835" y="349.5" font-family="Liberation Sans" font-size="4.4" text-anchor="end" font-weight="normal" font-style="normal" fill="#333" transform="rotate(-90 318.835 349.5)" >2019</text>
<line x1="325.90" y1="346.40" x2="325.90" y2="348.40" stroke="#999" stroke-width="0.5" />
<text x="327.4" y="349.5" font-family="Liberation Sans" font-size="4.4" text-anchor="end" font-weight="normal" font-style="normal" fill="#333" transform="rotate(-90 327.4 349.5)" >2020</text>
<text x="240.4" y="365.8" font-family="Liberation Sans" font-size="5.8" text-anchor="middle" font-weight="bold" font-style="normal" fill="#222" >Year of Publication</text>
<text x="139.9" y="304.5" font-family="Liberation Sans" font-size="6.0" text-anchor="middle" font-weight="bold" font-style="normal" fill="#222" transform="rotate(-90 139.9 304.5)" >Count of Articles per Year</text>
<path d="M77.60,327.30 L77.60,341.55 L81.02,338.32 L83.49,343.45 L85.58,342.50 L83.20,337.56 L87.86,337.56 Z" fill="#fff" stroke="#000" stroke-width="0.855" stroke-linejoin="round"/>
<rect x="82.40" y="337.20" width="76.90" height="12.00" fill="#fff" stroke="#c8c8c8" stroke-width="0.6" fill-opacity="0.93"/>
<text x="117" y="345.5" font-family="Liberation Sans" font-size="8" text-anchor="end" font-weight="normal" font-style="normal" fill="#808080" >Material:</text>
<text x="120.6" y="345.5" font-family="Liberation Sans" font-size="8" text-anchor="start" font-weight="normal" font-style="normal" fill="#222" >Graphene</text>
<path d="M429.9,327.9 L429.90,261.60 A66.3,66.3 0 0 1 430.71,261.60 Z" fill="#59a14f" stroke="none" stroke-width="0" />
<path d="M429.9,327.9 L430.71,261.60 A66.3,66.3 0 0 1 435.22,261.81 Z" fill="#f28e2b" stroke="none" stroke-width="0" />
<path d="M429.9,327.9 L435.22,261.81 A66.3,66.3 0 0 1 453.44,265.92 Z" fill="#ffbe7d" stroke="none" stroke-width="0" />
<path d="M429.9,327.9 L453.44,265.92 A66.3,66.3 0 0 1 456.87,267.33 Z" fill="#59a14f" stroke="none" stroke-width="0" />
<path d="M429.9,327.9 L456.87,267.33 A66.3,66.3 0 0 1 477.19,281.43 Z" fill="#8cd17d" stroke="none" stroke-width="0" />
<path d="M429.9,327.9 L477.19,281.43 A66.3,66.3 0 0 1 478.23,282.51 Z" fill="#f1ce63" stroke="none" stroke-width="0" />
<path d="M429.9,327.9 L478.23,282.51 A66.3,66.3 0 0 1 479.33,283.71 Z" fill="#86bcb6" stroke="none" stroke-width="0" />
<path d="M429.9,327.9 L479.33,283.71 A66.3,66.3 0 0 1 480.91,285.55 Z" fill="#e15759" stroke="none" stroke-width="0" />
<path d="M429.9,327.9 L480.91,285.55 A66.3,66.3 0 0 1 489.99,299.88 Z" fill="#79706e" stroke="none" stroke-width="0" />
<path d="M429.9,327.9 L489.99,299.88 A66.3,66.3 0 0 1 490.70,301.46 Z" fill="#333" stroke="none" stroke-width="0" />
<path d="M429.9,327.9 L490.70,301.46 A66.3,66.3 0 0 1 491.80,304.14 Z" fill="#bab0ac" stroke="none" stroke-width="0" />
<path d="M429.9,327.9 L491.80,304.14 A66.3,66.3 0 0 1 493.13,307.96 Z" fill="#fabfd2" stroke="none" stroke-width="0" />
<path d="M429.9,327.9 L493.13,307.96 A66.3,66.3 0 0 1 493.85,310.41 Z" fill="#d4a6c8" stroke="none" stroke-width="0" />
<path d="M429.9,327.9 L493.85,310.41 A66.3,66.3 0 0 1 496.08,331.95 Z" fill="#d7b5a6" stroke="none" stroke-width="0" />
<path d="M429.9,327.9 L496.08,331.95 A66.3,66.3 0 0 1 493.70,345.95 Z" fill="#4e79a7" stroke="none" stroke-width="0" />
<path d="M429.9,327.9 L493.70,345.95 A66.3,66.3 0 0 1 485.63,363.82 Z" fill="#a0cbe8" stroke="none" stroke-width="0" />
<path d="M429.9,327.9 L485.63,363.82 A66.3,66.3 0 0 1 482.50,368.26 Z" fill="#f28e2b" stroke="none" stroke-width="0" />
<path d="M429.9,327.9 L482.50,368.26 A66.3,66.3 0 0 1 481.42,369.62 Z" fill="#8cd17d" stroke="none" stroke-width="0" />
<path d="M429.9,327.9 L481.42,369.62 A66.3,66.3 0 0 1 473.22,378.09 Z" fill="#f1ce63" stroke="none" stroke-width="0" />
<path d="M429.9,327.9 L473.22,378.09 A66.3,66.3 0 0 1 472.69,378.54 Z" fill="#333" stroke="none" stroke-width="0" />
<path d="M429.9,327.9 L472.69,378.54 A66.3,66.3 0 0 1 424.70,394.00 Z" fill="#499894" stroke="none" stroke-width="0" />
<path d="M429.9,327.9 L424.70,394.00 A66.3,66.3 0 0 1 421.82,393.71 Z" fill="#ff9d9a" stroke="none" stroke-width="0" />
<path d="M429.9,327.9 L421.82,393.71 A66.3,66.3 0 0 1 370.83,358.00 Z" fill="#e4a3c0" stroke="none" stroke-width="0" />
<path d="M429.9,327.9 L370.83,358.00 A66.3,66.3 0 0 1 366.26,346.51 Z" fill="#d37295" stroke="none" stroke-width="0" />
<path d="M429.9,327.9 L366.26,346.51 A66.3,66.3 0 0 1 373.31,293.36 Z" fill="#d37295" stroke="none" stroke-width="0" />
<path d="M429.9,327.9 L373.31,293.36 A66.3,66.3 0 0 1 380.55,283.62 Z" fill="#fabfd2" stroke="none" stroke-width="0" />
<path d="M429.9,327.9 L380.55,283.62 A66.3,66.3 0 0 1 383.18,280.86 Z" fill="#b07aa1" stroke="none" stroke-width="0" />
<path d="M429.9,327.9 L383.18,280.86 A66.3,66.3 0 0 1 391.02,274.19 Z" fill="#9d7660" stroke="none" stroke-width="0" />
<path d="M429.9,327.9 L391.02,274.19 A66.3,66.3 0 0 1 410.07,264.63 Z" fill="#4e79a7" stroke="none" stroke-width="0" />
<path d="M429.9,327.9 L410.07,264.63 A66.3,66.3 0 0 1 411.18,264.30 Z" fill="#333" stroke="none" stroke-width="0" />
<path d="M429.9,327.9 L411.18,264.30 A66.3,66.3 0 0 1 413.97,263.54 Z" fill="#a0cbe8" stroke="none" stroke-width="0" />
<path d="M429.9,327.9 L413.97,263.54 A66.3,66.3 0 0 1 428.74,261.61 Z" fill="#ffbe7d" stroke="none" stroke-width="0" />
<path d="M429.9,327.9 L428.74,261.61 A66.3,66.3 0 0 1 429.90,261.60 Z" fill="#59a14f" stroke="none" stroke-width="0" />
<line x1="429.90" y1="327.90" x2="370.83" y2="358.00" stroke="#333" stroke-width="0.5" />
<line x1="429.90" y1="327.90" x2="366.26" y2="346.51" stroke="#333" stroke-width="0.5" />
<line x1="429.90" y1="327.90" x2="421.82" y2="393.71" stroke="#333" stroke-width="0.5" />
<line x1="429.90" y1="327.90" x2="363.85" y2="333.68" stroke="#ffffff" stroke-width="0.3" opacity="0.3"/>
<line x1="429.90" y1="327.90" x2="363.85" y2="322.12" stroke="#ffffff" stroke-width="0.3" opacity="0.3"/>
<line x1="429.90" y1="327.90" x2="365.86" y2="310.74" stroke="#ffffff" stroke-width="0.3" opacity="0.3"/>
<line x1="429.90" y1="327.90" x2="368.87" y2="301.99" stroke="#ffffff" stroke-width="0.3" opacity="0.3"/>
<line x1="429.90" y1="327.90" x2="407.22" y2="390.20" stroke="#ffffff" stroke-width="0.3" opacity="0.3"/>
<line x1="429.90" y1="327.90" x2="391.87" y2="382.21" stroke="#ffffff" stroke-width="0.3" opacity="0.3"/>
<line x1="429.90" y1="327.90" x2="379.11" y2="370.52" stroke="#ffffff" stroke-width="0.3" opacity="0.3"/>
<line x1="429.90" y1="327.90" x2="452.58" y2="390.20" stroke="#ffffff" stroke-width="0.3" opacity="0.3"/>
<line x1="429.90" y1="327.90" x2="492.20" y2="350.58" stroke="#ffffff" stroke-width="0.3" opacity="0.3"/>
<line x1="429.90" y1="327.90" x2="489.99" y2="355.92" stroke="#ffffff" stroke-width="0.3" opacity="0.3"/>
<line x1="429.90" y1="327.90" x2="495.84" y2="320.97" stroke="#ffffff" stroke-width="0.3" opacity="0.3"/>
<line x1="429.90" y1="327.90" x2="463.05" y2="270.48" stroke="#ffffff" stroke-width="0.3" opacity="0.3"/>
<line x1="429.90" y1="327.90" x2="470.72" y2="275.65" stroke="#ffffff" stroke-width="0.3" opacity="0.3"/>
<line x1="429.90" y1="327.90" x2="443.68" y2="263.05" stroke="#ffffff" stroke-width="0.3" opacity="0.3"/>
<line x1="429.90" y1="327.90" x2="396.75" y2="270.48" stroke="#ffffff" stroke-width="0.3" opacity="0.3"/>
<line x1="429.90" y1="327.90" x2="401.88" y2="267.81" stroke="#ffffff" stroke-width="0.3" opacity="0.3"/>
<line x1="506.60" y1="255.50" x2="639.20" y2="255.50" stroke="#e8e8e8" stroke-width="0.5" />
<line x1="506.60" y1="387.30" x2="639.20" y2="387.30" stroke="#e8e8e8" stroke-width="0.5" />
<line x1="506.60" y1="255.50" x2="506.60" y2="387.30" stroke="#e8e8e8" stroke-width="0.5" />
<line x1="506.60" y1="387.30" x2="506.60" y2="389.30" stroke="#999" stroke-width="0.5" />
<text x="506.6" y="394.8" font-family="Liberation Sans" font-size="4.8" text-anchor="middle" font-weight="normal" font-style="normal" fill="#333" >0</text>
<line x1="532.35" y1="255.50" x2="532.35" y2="387.30" stroke="#e8e8e8" stroke-width="0.5" />
<line x1="532.35" y1="387.30" x2="532.35" y2="389.30" stroke="#999" stroke-width="0.5" />
<text x="532.35" y="394.8" font-family="Liberation Sans" font-size="4.8" text-anchor="middle" font-weight="normal" font-style="normal" fill="#333" >50</text>
<line x1="558.10" y1="255.50" x2="558.10" y2="387.30" stroke="#e8e8e8" stroke-width="0.5" />
<line x1="558.10" y1="387.30" x2="558.10" y2="389.30" stroke="#999" stroke-width="0.5" />
<text x="558.1" y="394.8" font-family="Liberation Sans" font-size="4.8" text-anchor="middle" font-weight="normal" font-style="normal" fill="#333" >100</text>
<line x1="583.85" y1="255.50" x2="583.85" y2="387.30" stroke="#e8e8e8" stroke-width="0.5" />
<line x1="583.85" y1="387.30" x2="583.85" y2="389.30" stroke="#999" stroke-width="0.5" />
<text x="583.85" y="394.8" font-family="Liberation Sans" font-size="4.8" text-anchor="middle" font-weight="normal" font-style="normal" fill="#333" >150</text>
<line x1="609.60" y1="255.50" x2="609.60" y2="387.30" stroke="#e8e8e8" stroke-width="0.5" />
<line x1="609.60" y1="387.30" x2="609.60" y2="389.30" stroke="#999" stroke-width="0.5" />
<text x="609.6" y="394.8" font-family="Liberation Sans" font-size="4.8" text-anchor="middle" font-weight="normal" font-style="normal" fill="#333" >200</text>
<line x1="635.35" y1="255.50" x2="635.35" y2="387.30" stroke="#e8e8e8" stroke-width="0.5" />
<line x1="635.35" y1="387.30" x2="635.35" y2="389.30" stroke="#999" stroke-width="0.5" />
<text x="635.35" y="394.8" font-family="Liberation Sans" font-size="4.8" text-anchor="middle" font-weight="normal" font-style="normal" fill="#333" >250</text>
<rect x="506.60" y="256.10" width="46.35" height="16.60" fill="#d37295" />
<line x1="639.20" y1="264.40" x2="641.20" y2="264.40" stroke="#999" stroke-width="0.5" />
<text x="642.6" y="266.1" font-family="Liberation Sans" font-size="4.8" text-anchor="start" font-weight="normal" font-style="normal" fill="#333" >SiO2</text>
<rect x="506.60" y="275.05" width="40.69" height="16.60" fill="#d37295" />
<line x1="639.20" y1="283.35" x2="641.20" y2="283.35" stroke="#999" stroke-width="0.5" />
<text x="642.6" y="285.05" font-family="Liberation Sans" font-size="4.8" text-anchor="start" font-weight="normal" font-style="normal" fill="#333" >Silica</text>
<rect x="506.60" y="294.00" width="23.18" height="16.60" fill="#d37295" />
<line x1="639.20" y1="302.30" x2="641.20" y2="302.30" stroke="#999" stroke-width="0.5" />
<text x="642.6" y="304.0" font-family="Liberation Sans" font-size="4.8" text-anchor="start" font-weight="normal" font-style="normal" fill="#333" >Silicon dioxide</text>
<rect x="506.60" y="312.95" width="3.60" height="16.60" fill="#d37295" />
<line x1="639.20" y1="321.25" x2="641.20" y2="321.25" stroke="#999" stroke-width="0.5" />
<text x="642.6" y="322.95000000000005" font-family="Liberation Sans" font-size="4.8" text-anchor="start" font-weight="normal" font-style="normal" fill="#333" >nanosilica</text>
<rect x="506.60" y="331.90" width="123.60" height="16.60" fill="#e09ab8" />
<line x1="639.20" y1="340.20" x2="641.20" y2="340.20" stroke="#999" stroke-width="0.5" />
<text x="642.6" y="341.90000000000003" font-family="Liberation Sans" font-size="4.8" text-anchor="start" font-weight="normal" font-style="normal" fill="#333" >silica</text>
<rect x="506.60" y="350.85" width="10.30" height="16.60" fill="#d37295" />
<line x1="639.20" y1="359.15" x2="641.20" y2="359.15" stroke="#999" stroke-width="0.5" />
<text x="642.6" y="360.85" font-family="Liberation Sans" font-size="4.8" text-anchor="start" font-weight="normal" font-style="normal" fill="#333" >silica nanoparticles</text>
<rect x="506.60" y="369.80" width="26.27" height="16.60" fill="#d37295" />
<line x1="639.20" y1="378.10" x2="641.20" y2="378.10" stroke="#999" stroke-width="0.5" />
<text x="642.6" y="379.8" font-family="Liberation Sans" font-size="4.8" text-anchor="start" font-weight="normal" font-style="normal" fill="#333" >silicon dioxide</text>
<line x1="639.20" y1="255.50" x2="639.20" y2="387.30" stroke="#999" stroke-width="0.6" />
<text x="572.7" y="266.2" font-family="Liberation Sans" font-size="6.9" text-anchor="middle" font-weight="normal" font-style="normal" fill="#222" >Silicon dioxide</text>
<text x="572.8" y="401.4" font-family="Liberation Sans" font-size="5.5" text-anchor="middle" font-weight="bold" font-style="normal" fill="#222" >Count of Records</text>
<rect x="402.80" y="356.30" width="125.00" height="44.60" fill="#fff" stroke="#c8c8c8" stroke-width="0.6" fill-opacity="0.88"/>
<text x="470.5" y="365.4" font-family="Liberation Sans" font-size="8" text-anchor="end" font-weight="normal" font-style="normal" fill="#808080" >Classification:</text>
<text x="473.7" y="365.4" font-family="Liberation Sans" font-size="8" text-anchor="start" font-weight="normal" font-style="normal" fill="#222" >Silicon dioxide</text>
<text x="470.5" y="376.09999999999997" font-family="Liberation Sans" font-size="8" text-anchor="end" font-weight="normal" font-style="normal" fill="#808080" >User-input string:</text>
<text x="473.7" y="376.09999999999997" font-family="Liberation Sans" font-size="8" text-anchor="start" font-weight="normal" font-style="normal" fill="#222" >silica</text>
<text x="470.5" y="386.79999999999995" font-family="Liberation Sans" font-size="8" text-anchor="end" font-weight="normal" font-style="normal" fill="#808080" >name_match:</text>
<text x="473.7" y="386.79999999999995" font-family="Liberation Sans" font-size="8" text-anchor="start" font-weight="normal" font-style="normal" fill="#222" >0</text>
<text x="470.5" y="397.5" font-family="Liberation Sans" font-size="8" text-anchor="end" font-weight="normal" font-style="normal" fill="#808080" >Count of Records:</text>
<text x="473.7" y="397.5" font-family="Liberation Sans" font-size="8" text-anchor="start" font-weight="normal" font-style="normal" fill="#222" >242</text>
<path d="M400.20,352.20 L400.20,366.45 L403.62,363.22 L406.09,368.35 L408.18,367.40 L405.81,362.46 L410.46,362.46 Z" fill="#fff" stroke="#000" stroke-width="0.855" stroke-linejoin="round"/>
<rect x="0.00" y="468.00" width="372.60" height="191.00" fill="#fcf4e8" />
<text x="7.4" y="486.3" font-family="Liberation Serif" font-size="16.2" text-anchor="start" font-weight="bold" font-style="italic" fill="#6b665c" textLength="259.5" lengthAdjust="spacingAndGlyphs">Evolution of Interactive Charts</text>
<text x="7.2" y="496.1" font-family="Liberation Serif" font-size="6.6" text-anchor="start" font-weight="normal" font-style="italic" fill="#5f5a52" textLength="331.5" lengthAdjust="spacingAndGlyphs">From left to right, these charts about polyethylene-matrix nanocomposites take on increasing levels of interactivity.</text>
<path d="M30.66,508.00 A17.9,17.9 0 0 1 38.21,509.74 L33.77,519.04 A7.6,7.6 0 0 0 30.57,518.30 Z" fill="#4e79a7" stroke="#fcf4e8" stroke-width="0.6" />
<path d="M38.21,509.74 A17.9,17.9 0 0 1 45.51,516.15 L36.87,521.76 A7.6,7.6 0 0 0 33.77,519.04 Z" fill="#f28e2b" stroke="#fcf4e8" stroke-width="0.6" />
<path d="M45.51,516.15 A17.9,17.9 0 0 1 38.21,542.06 L33.77,532.76 A7.6,7.6 0 0 0 36.87,521.76 Z" fill="#e15759" stroke="#fcf4e8" stroke-width="0.6" />
<path d="M38.21,542.06 A17.9,17.9 0 0 1 36.77,542.67 L33.16,533.02 A7.6,7.6 0 0 0 33.77,532.76 Z" fill="#76b7b2" stroke="#fcf4e8" stroke-width="0.6" />
<path d="M36.77,542.67 A17.9,17.9 0 1 1 30.34,508.00 L30.43,518.30 A7.6,7.6 0 1 0 33.16,533.02 Z" fill="#59a14f" stroke="#fcf4e8" stroke-width="0.6" />
<text x="9" y="558.9" font-family="Liberation Sans" font-size="5.18" text-anchor="start" font-weight="bold" font-style="normal" fill="#222" >Static Chart</text>
<text x="9" y="564.6" font-family="Liberation Sans" font-size="4.9" text-anchor="start" font-weight="normal" font-style="normal" fill="#333" >A simple donut chart</text>
<text x="9" y="569.35" font-family="Liberation Sans" font-size="4.9" text-anchor="start" font-weight="normal" font-style="normal" fill="#333" >with no interactivity.</text>
<rect x="60.40" y="508.30" width="32.40" height="3.80" fill="#4e79a7" />
<rect x="60.40" y="512.10" width="32.40" height="4.50" fill="#f28e2b" />
<rect x="60.40" y="516.60" width="32.40" height="13.40" fill="#e15759" />
<rect x="60.40" y="530.00" width="32.40" height="0.80" fill="#76b7b2" />
<rect x="60.40" y="530.80" width="32.40" height="28.30" fill="#59a14f" />
<line x1="60.40" y1="512.10" x2="92.80" y2="512.10" stroke="#fcf4e8" stroke-width="0.3" />
<line x1="60.40" y1="516.60" x2="92.80" y2="516.60" stroke="#fcf4e8" stroke-width="0.3" />
<line x1="60.40" y1="530.40" x2="92.80" y2="530.40" stroke="#fcf4e8" stroke-width="0.4" />
<text x="60.7" y="573.2" font-family="Liberation Sans" font-size="5.18" text-anchor="start" font-weight="bold" font-style="normal" fill="#222" >Highlighting &amp; Tooltips</text>
<text x="60.7" y="578.9000000000001" font-family="Liberation Sans" font-size="4.9" text-anchor="start" font-weight="normal" font-style="normal" fill="#333" >A basic interactive chart</text>
<text x="60.7" y="583.6500000000001" font-family="Liberation Sans" font-size="4.9" text-anchor="start" font-weight="normal" font-style="normal" fill="#333" >with conditional opacity</text>
<text x="60.7" y="588.4000000000001" font-family="Liberation Sans" font-size="4.9" text-anchor="start" font-weight="normal" font-style="normal" fill="#333" >and tooltips on mouseover.</text>
<rect x="127.20" y="507.90" width="28.30" height="5.60" fill="#4e79a7" stroke="#111" stroke-width="0.9"/>
<rect x="127.20" y="513.50" width="28.30" height="6.10" fill="#f28e2b" stroke="#111" stroke-width="0.9"/>
<rect x="127.20" y="519.60" width="28.30" height="19.30" fill="#e15759" stroke="#111" stroke-width="0.9"/>
<rect x="127.20" y="538.90" width="28.30" height="1.70" fill="#4a8f8a" stroke="#111" stroke-width="0.9"/>
<rect x="127.20" y="540.60" width="28.30" height="40.00" fill="#59a14f" stroke="#111" stroke-width="0.9"/>
<rect x="165.00" y="507.90" width="11.90" height="5.20" fill="#9cb4d1" />
<rect x="165.00" y="513.10" width="11.90" height="6.20" fill="#fbc896" />
<rect x="165.00" y="519.30" width="11.90" height="3.50" fill="#f6c4c0" />
<rect x="165.00" y="522.80" width="11.90" height="4.90" fill="#f1b2b0" />
<rect x="165.00" y="527.70" width="11.90" height="6.50" fill="#ee9e9c" />
<rect x="165.00" y="534.20" width="11.90" height="4.70" fill="#ea8f8e" />
<rect x="165.00" y="538.90" width="11.90" height="0.70" fill="#b9dcd9" />
<rect x="165.00" y="539.60" width="11.90" height="16.10" fill="#cbe0c1" />
<rect x="165.00" y="555.70" width="11.90" height="13.30" fill="#c0dab4" />
<rect x="165.00" y="569.00" width="11.90" height="10.80" fill="#aad09e" />
<text x="127" y="594.6" font-family="Liberation Sans" font-size="5.18" text-anchor="start" font-weight="bold" font-style="normal" fill="#222" >Multi-Select &amp; Hyperlinks</text>
<text x="127" y="600.3000000000001" font-family="Liberation Sans" font-size="4.9" text-anchor="start" font-weight="normal" font-style="normal" fill="#333" >L: Shift-click one or more filler</text>
<text x="127" y="604.95" font-family="Liberation Sans" font-size="4.9" text-anchor="start" font-weight="normal" font-style="normal" fill="#333" >materials, or hover for tooltips.</text>
<text x="127" y="609.6" font-family="Liberation Sans" font-size="4.9" text-anchor="start" font-weight="normal" font-style="normal" fill="#333" >R: Hover for DOI info. Ctrl-click</text>
<text x="127" y="614.2500000000001" font-family="Liberation Sans" font-size="4.9" text-anchor="start" font-weight="normal" font-style="normal" fill="#333" >to open DOI link in a new tab.</text>
<rect x="201.30" y="507.90" width="16.20" height="7.50" fill="#4e79a7" stroke="#111" stroke-width="0.8"/>
<rect x="201.30" y="515.40" width="16.20" height="7.90" fill="#f28e2b" stroke="#111" stroke-width="0.8"/>
<rect x="201.30" y="523.30" width="16.20" height="2.60" fill="#a03838" stroke="#111" stroke-width="0.8"/>
<rect x="201.30" y="525.90" width="16.20" height="5.10" fill="#e15759" stroke="#111" stroke-width="0.8"/>
<rect x="201.30" y="531.00" width="16.20" height="4.20" fill="#e15759" stroke="#111" stroke-width="0.8"/>
<rect x="201.30" y="535.20" width="16.20" height="3.80" fill="#e15759" stroke="#111" stroke-width="0.8"/>
<rect x="201.30" y="539.00" width="16.20" height="3.50" fill="#e15759" stroke="#111" stroke-width="0.8"/>
<rect x="201.30" y="542.50" width="16.20" height="7.10" fill="#e15759" stroke="#111" stroke-width="0.8"/>
<rect x="201.30" y="549.60" width="16.20" height="2.40" fill="#4a8f8a" stroke="#111" stroke-width="0.8"/>
<rect x="201.30" y="552.00" width="16.20" height="17.60" fill="#59a14f" stroke="#111" stroke-width="0.8"/>
<rect x="201.30" y="569.60" width="16.20" height="15.70" fill="#59a14f" stroke="#111" stroke-width="0.8"/>
<rect x="201.30" y="585.30" width="16.20" height="21.00" fill="#59a14f" stroke="#111" stroke-width="0.8"/>
<path d="M230,505.90 L232,507.90 L230,509.90 L228,507.90 Z" fill="#4e79a7" stroke="none" stroke-width="1" />
<path d="M230,513.40 L232,515.40 L230,517.40 L228,515.40 Z" fill="#f28e2b" stroke="none" stroke-width="1" />
<path d="M230,521.30 L232,523.30 L230,525.30 L228,523.30 Z" fill="#e15759" stroke="none" stroke-width="1" />
<path d="M230,525.70 L232,527.70 L230,529.70 L228,527.70 Z" fill="#e15759" stroke="none" stroke-width="1" />
<path d="M230,532.20 L232,534.20 L230,536.20 L228,534.20 Z" fill="#e15759" stroke="none" stroke-width="1" />
<path d="M230,535.30 L232,537.30 L230,539.30 L228,537.30 Z" fill="#e15759" stroke="none" stroke-width="1" />
<path d="M230,539.20 L232,541.20 L230,543.20 L228,541.20 Z" fill="#e15759" stroke="none" stroke-width="1" />
<path d="M230,541.40 L232,543.40 L230,545.40 L228,543.40 Z" fill="#e15759" stroke="none" stroke-width="1" />
<path d="M230,543.90 L232,545.90 L230,547.90 L228,545.90 Z" fill="#e15759" stroke="none" stroke-width="1" />
<path d="M230,547.40 L232,549.40 L230,551.40 L228,549.40 Z" fill="#76b7b2" stroke="none" stroke-width="1" />
<path d="M230,550.00 L232,552.00 L230,554.00 L228,552.00 Z" fill="#59a14f" stroke="none" stroke-width="1" />
<path d="M230,570.20 L232,572.20 L230,574.20 L228,572.20 Z" fill="#59a14f" stroke="none" stroke-width="1" />
<path d="M230,588.20 L232,590.20 L230,592.20 L228,590.20 Z" fill="#59a14f" stroke="none" stroke-width="1" />
<text x="201.1" y="621.6" font-family="Liberation Sans" font-size="5.2" text-anchor="start" font-weight="bold" font-style="normal" fill="#222" >Cross-Filter, Interval Selection &amp; Zooming</text>
<text x="201.1" y="627.0" font-family="Liberation Sans" font-size="5.0" text-anchor="start" font-weight="normal" font-style="normal" fill="#333" textLength="163" lengthAdjust="spacingAndGlyphs">Select from the stacked bar to filter data by DOI. Ctrl-click a diamond to open</text>
<text x="201.1" y="631.7" font-family="Liberation Sans" font-size="5.0" text-anchor="start" font-weight="normal" font-style="normal" fill="#333" textLength="163" lengthAdjust="spacingAndGlyphs">the DOI link in a new tab. Use click-drag or mousewheel in the scatter plot to</text>
<text x="201.1" y="636.4" font-family="Liberation Sans" font-size="5.0" text-anchor="start" font-weight="normal" font-style="normal" fill="#333" textLength="163" lengthAdjust="spacingAndGlyphs">pan or zoom, and click-drag in the tick chart above to filter the scatter plot.</text>
<text x="201.1" y="641.1" font-family="Liberation Sans" font-size="5.0" text-anchor="start" font-weight="normal" font-style="normal" fill="#333" textLength="163" lengthAdjust="spacingAndGlyphs">Ctrl-click points in the scatter plot to visit the dedicated URL for a sample ID.</text>
<text x="201.1" y="645.8" font-family="Liberation Sans" font-size="5.0" text-anchor="start" font-weight="normal" font-style="normal" fill="#333" >To reset zoom or selections, double-click on the active area of interest.</text>
<rect x="242.90" y="508.50" width="90.40" height="6.70" fill="#fdfbf7" />
<line x1="242.90" y1="515.90" x2="333.30" y2="515.90" stroke="#888" stroke-width="0.5" />
<rect x="242.90" y="508.60" width="1.00" height="6.60" fill="#f28e2b" />
<rect x="243.90" y="508.60" width="1.00" height="6.60" fill="#f28e2b" />
<rect x="245.10" y="508.60" width="1.00" height="6.60" fill="#8ea0b8" />
<rect x="246.10" y="508.60" width="1.00" height="6.60" fill="#f28e2b" />
<rect x="247.50" y="508.60" width="1.00" height="6.60" fill="#8aa070" />
<rect x="249.00" y="508.60" width="1.00" height="6.60" fill="#f28e2b" />
<rect x="250.10" y="508.60" width="1.00" height="6.60" fill="#a08060" />
<rect x="251.30" y="508.60" width="1.00" height="6.60" fill="#f28e2b" />
<rect x="252.50" y="508.60" width="1.00" height="6.60" fill="#b09070" />
<rect x="253.90" y="508.60" width="1.00" height="6.60" fill="#f28e2b" />
<rect x="255.80" y="508.60" width="1.00" height="6.60" fill="#e15759" />
<rect x="264.00" y="508.60" width="1.00" height="6.60" fill="#59a14f" />
<rect x="272.20" y="508.60" width="1.00" height="6.60" fill="#59a14f" />
<rect x="273.20" y="508.60" width="1.00" height="6.60" fill="#59a14f" />
<rect x="274.30" y="508.60" width="1.00" height="6.60" fill="#59a14f" />
<rect x="275.50" y="508.60" width="1.00" height="6.60" fill="#59a14f" />
<rect x="285.50" y="508.60" width="1.00" height="6.60" fill="#59a14f" />
<rect x="295.30" y="508.60" width="1.00" height="6.60" fill="#59a14f" />
<rect x="296.50" y="508.60" width="1.00" height="6.60" fill="#59a14f" />
<rect x="297.80" y="508.60" width="1.00" height="6.60" fill="#59a14f" />
<rect x="306.40" y="508.60" width="1.00" height="6.60" fill="#59a14f" />
<rect x="317.20" y="508.60" width="1.00" height="6.60" fill="#59a14f" />
<rect x="322.10" y="508.60" width="1.00" height="6.60" fill="#59a14f" />
<rect x="323.10" y="508.60" width="1.00" height="6.60" fill="#59a14f" />
<rect x="324.30" y="508.60" width="1.00" height="6.60" fill="#59a14f" />
<rect x="327.70" y="508.60" width="1.00" height="6.60" fill="#59a14f" />
<rect x="332.80" y="508.60" width="0.80" height="6.60" fill="#b8d8b0" />
<line x1="248.40" y1="515.90" x2="248.40" y2="517.30" stroke="#888" stroke-width="0.4" />
<text x="248.4" y="521.6" font-family="Liberation Sans" font-size="4.8" text-anchor="middle" font-weight="normal" font-style="normal" fill="#333" >0.0%</text>
<line x1="264.50" y1="515.90" x2="264.50" y2="517.30" stroke="#888" stroke-width="0.4" />
<text x="264.5" y="521.6" font-family="Liberation Sans" font-size="4.8" text-anchor="middle" font-weight="normal" font-style="normal" fill="#333" >20%</text>
<line x1="286.00" y1="515.90" x2="286.00" y2="517.30" stroke="#888" stroke-width="0.4" />
<text x="286" y="521.6" font-family="Liberation Sans" font-size="4.8" text-anchor="middle" font-weight="normal" font-style="normal" fill="#333" >40%</text>
<line x1="306.90" y1="515.90" x2="306.90" y2="517.30" stroke="#888" stroke-width="0.4" />
<text x="306.9" y="521.6" font-family="Liberation Sans" font-size="4.8" text-anchor="middle" font-weight="normal" font-style="normal" fill="#333" >60%</text>
<line x1="328.20" y1="515.90" x2="328.20" y2="517.30" stroke="#888" stroke-width="0.4" />
<text x="328.2" y="521.6" font-family="Liberation Sans" font-size="4.8" text-anchor="middle" font-weight="normal" font-style="normal" fill="#333" >80%</text>
<text x="288.3" y="528.6" font-family="Liberation Sans" font-size="5.6" text-anchor="middle" font-weight="bold" font-style="normal" fill="#222" >Mass Fraction (%)</text>
<rect x="243.20" y="539.20" width="92.30" height="54.50" fill="#f2f0ec" />
<rect x="243.20" y="539.20" width="92.30" height="14.00" fill="#eeebe6" />
<line x1="243.20" y1="541.00" x2="335.50" y2="541.00" stroke="#e2e0dc" stroke-width="0.4" />
<line x1="243.20" y1="543.00" x2="335.50" y2="543.00" stroke="#e2e0dc" stroke-width="0.4" />
<line x1="243.20" y1="545.50" x2="335.50" y2="545.50" stroke="#e2e0dc" stroke-width="0.4" />
<line x1="243.20" y1="548.50" x2="335.50" y2="548.50" stroke="#e2e0dc" stroke-width="0.4" />
<line x1="243.20" y1="551.00" x2="335.50" y2="551.00" stroke="#e2e0dc" stroke-width="0.4" />
<line x1="243.20" y1="556.20" x2="335.50" y2="556.20" stroke="#e2e0dc" stroke-width="0.4" />
<line x1="243.20" y1="560.00" x2="335.50" y2="560.00" stroke="#e2e0dc" stroke-width="0.4" />
<line x1="243.20" y1="562.50" x2="335.50" y2="562.50" stroke="#e2e0dc" stroke-width="0.4" />
<line x1="243.20" y1="565.00" x2="335.50" y2="565.00" stroke="#e2e0dc" stroke-width="0.4" />
<line x1="243.20" y1="568.20" x2="335.50" y2="568.20" stroke="#e2e0dc" stroke-width="0.4" />
<line x1="243.20" y1="573.50" x2="335.50" y2="573.50" stroke="#e2e0dc" stroke-width="0.4" />
<line x1="243.20" y1="577.00" x2="335.50" y2="577.00" stroke="#e2e0dc" stroke-width="0.4" />
<line x1="243.20" y1="580.50" x2="335.50" y2="580.50" stroke="#e2e0dc" stroke-width="0.4" />
<line x1="243.20" y1="585.20" x2="335.50" y2="585.20" stroke="#e2e0dc" stroke-width="0.4" />
<line x1="243.20" y1="589.00" x2="335.50" y2="589.00" stroke="#e2e0dc" stroke-width="0.4" />
<line x1="263.20" y1="539.20" x2="263.20" y2="593.70" stroke="#e2e0dc" stroke-width="0.4" />
<line x1="283.40" y1="539.20" x2="283.40" y2="593.70" stroke="#e2e0dc" stroke-width="0.4" />
<line x1="303.50" y1="539.20" x2="303.50" y2="593.70" stroke="#e2e0dc" stroke-width="0.4" />
<line x1="323.60" y1="539.20" x2="323.60" y2="593.70" stroke="#e2e0dc" stroke-width="0.4" />
<line x1="335.50" y1="539.20" x2="335.50" y2="593.70" stroke="#999" stroke-width="0.5" />
<line x1="335.50" y1="541.00" x2="337.00" y2="541.00" stroke="#999" stroke-width="0.3" />
<line x1="335.50" y1="543.00" x2="337.00" y2="543.00" stroke="#999" stroke-width="0.3" />
<line x1="335.50" y1="545.50" x2="337.00" y2="545.50" stroke="#999" stroke-width="0.3" />
<line x1="335.50" y1="548.50" x2="337.00" y2="548.50" stroke="#999" stroke-width="0.3" />
<line x1="335.50" y1="551.00" x2="337.00" y2="551.00" stroke="#999" stroke-width="0.3" />
<line x1="335.50" y1="556.20" x2="337.00" y2="556.20" stroke="#999" stroke-width="0.3" />
<line x1="335.50" y1="560.00" x2="337.00" y2="560.00" stroke="#999" stroke-width="0.3" />
<line x1="335.50" y1="562.50" x2="337.00" y2="562.50" stroke="#999" stroke-width="0.3" />
<line x1="335.50" y1="565.00" x2="337.00" y2="565.00" stroke="#999" stroke-width="0.3" />
<line x1="335.50" y1="568.20" x2="337.00" y2="568.20" stroke="#999" stroke-width="0.3" />
<line x1="335.50" y1="573.50" x2="337.00" y2="573.50" stroke="#999" stroke-width="0.3" />
<line x1="335.50" y1="577.00" x2="337.00" y2="577.00" stroke="#999" stroke-width="0.3" />
<line x1="335.50" y1="580.50" x2="337.00" y2="580.50" stroke="#999" stroke-width="0.3" />
<line x1="335.50" y1="585.20" x2="337.00" y2="585.20" stroke="#999" stroke-width="0.3" />
<line x1="335.50" y1="589.00" x2="337.00" y2="589.00" stroke="#999" stroke-width="0.3" />
<text x="337.6" y="552.5" font-family="Liberation Sans" font-size="4.6" text-anchor="start" font-weight="normal" font-style="normal" fill="#333" >2,000</text>
<text x="337.6" y="557.7" font-family="Liberation Sans" font-size="4.6" text-anchor="start" font-weight="normal" font-style="normal" fill="#333" >1,000</text>
<text x="337.6" y="569.7" font-family="Liberation Sans" font-size="4.6" text-anchor="start" font-weight="normal" font-style="normal" fill="#333" >200</text>
<text x="337.6" y="575.0" font-family="Liberation Sans" font-size="4.6" text-anchor="start" font-weight="normal" font-style="normal" fill="#333" >100</text>
<text x="337.6" y="586.7" font-family="Liberation Sans" font-size="4.6" text-anchor="start" font-weight="normal" font-style="normal" fill="#333" >20</text>
<text x="350.5" y="564.7" font-family="Liberation Sans" font-size="5.5" text-anchor="middle" font-weight="bold" font-style="normal" fill="#222" transform="rotate(90 350.5 564.7)" >Width (nm)</text>
<circle cx="255.40" cy="543.30" r="4.5" fill="#f2b8b8" opacity="0.75"/>
<circle cx="303.50" cy="565.40" r="3.3" fill="#72b46e" opacity="0.75"/>
<circle cx="313.10" cy="565.40" r="3.3" fill="#72b46e" opacity="0.75"/>
<circle cx="318.40" cy="565.40" r="3.3" fill="#72b46e" opacity="0.75"/>
<circle cx="323.30" cy="565.40" r="3.3" fill="#72b46e" opacity="0.75"/>
<circle cx="253.40" cy="579.00" r="2.1" fill="#62a95d" opacity="0.8"/>
<circle cx="263.20" cy="579.00" r="2.1" fill="#62a95d" opacity="0.8"/>
<circle cx="273.00" cy="579.00" r="2.1" fill="#62a95d" opacity="0.8"/>
<circle cx="283.60" cy="579.00" r="2.1" fill="#62a95d" opacity="0.8"/>
<circle cx="292.60" cy="579.00" r="2.1" fill="#62a95d" opacity="0.8"/>
<circle cx="294.70" cy="579.00" r="2.1" fill="#62a95d" opacity="0.8"/>
<circle cx="303.50" cy="579.00" r="2.1" fill="#62a95d" opacity="0.8"/>
<circle cx="313.10" cy="579.00" r="2.1" fill="#62a95d" opacity="0.8"/>
<circle cx="318.80" cy="579.00" r="2.1" fill="#62a95d" opacity="0.8"/>
<circle cx="323.30" cy="579.00" r="2.1" fill="#62a95d" opacity="0.8"/>
<circle cx="328.60" cy="579.00" r="2.1" fill="#62a95d" opacity="0.8"/>
<circle cx="283.20" cy="584.60" r="1.5" fill="#62a95d" opacity="0.75"/>
<circle cx="292.80" cy="584.60" r="1.5" fill="#62a95d" opacity="0.75"/>
<circle cx="303.50" cy="584.60" r="1.5" fill="#62a95d" opacity="0.75"/>
<circle cx="313.30" cy="584.60" r="1.5" fill="#62a95d" opacity="0.75"/>
<circle cx="318.40" cy="584.60" r="1.5" fill="#62a95d" opacity="0.75"/>
<circle cx="248.30" cy="579.00" r="2.1" fill="#3d8a3a" stroke="#333" stroke-width="0.5"/>
<rect x="16.30" y="608.40" width="84.50" height="42.00" fill="#f6ecdc" stroke="#a8a8a8" stroke-width="0.6"/>
<circle cx="26.00" cy="617.90" r="2.0" fill="#4e79a7" />
<text x="31.1" y="620.0" font-family="Liberation Serif" font-size="5.3" text-anchor="start" font-weight="normal" font-style="italic" fill="#7a756d" >Magnesium oxide</text>
<circle cx="26.00" cy="623.50" r="2.0" fill="#f28e2b" />
<text x="31.1" y="625.6" font-family="Liberation Serif" font-size="5.3" text-anchor="start" font-weight="normal" font-style="italic" fill="#7a756d" >Multi-wall carbon nanotubes</text>
<circle cx="26.00" cy="629.10" r="2.0" fill="#e15759" />
<text x="31.1" y="631.2" font-family="Liberation Serif" font-size="5.3" text-anchor="start" font-weight="normal" font-style="italic" fill="#7a756d" >Silicon dioxide</text>
<circle cx="26.00" cy="634.70" r="2.0" fill="#76b7b2" />
<text x="31.1" y="636.8" font-family="Liberation Serif" font-size="5.3" text-anchor="start" font-weight="normal" font-style="italic" fill="#7a756d" >Titanium dioxide</text>
<circle cx="26.00" cy="640.30" r="2.0" fill="#59a14f" />
<text x="31.1" y="642.4" font-family="Liberation Serif" font-size="5.3" text-anchor="start" font-weight="normal" font-style="italic" fill="#7a756d" >Zinc oxide</text>
<rect x="250.20" y="588.00" width="134.50" height="32.80" fill="#fff" stroke="#c8c8c8" stroke-width="0.6" fill-opacity="0.92"/>
<text x="311.3" y="596.7" font-family="Liberation Sans" font-size="8" text-anchor="end" font-weight="normal" font-style="normal" fill="#808080" >Sample ID:</text>
<text x="313.8" y="596.7" font-family="Liberation Sans" font-size="8" text-anchor="start" font-weight="normal" font-style="normal" fill="#222" >I227-s2-hong-2003</text>
<text x="311.3" y="607.2" font-family="Liberation Sans" font-size="8" text-anchor="end" font-weight="normal" font-style="normal" fill="#808080" >Particle Width:</text>
<text x="313.8" y="607.2" font-family="Liberation Sans" font-size="8" text-anchor="start" font-weight="normal" font-style="normal" fill="#222" >49</text>
<text x="311.3" y="617.7" font-family="Liberation Sans" font-size="8" text-anchor="end" font-weight="normal" font-style="normal" fill="#808080" >Unit of Measure:</text>
<text x="313.8" y="617.7" font-family="Liberation Sans" font-size="8" text-anchor="start" font-weight="normal" font-style="normal" fill="#222" >Nanometer</text>
<circle cx="248.90" cy="578.90" r="2.6" fill="#3f8a3c" stroke="#333" stroke-width="0.6"/>
<path d="M-1.2,8 L-1.2,1.2 A1.2,1.2 0 0 1 1.2,1.2 L1.2,6.6 A1.25,1.1 0 0 1 3.7,6.6 L3.7,7.3 A1.25,1.1 0 0 1 6.2,7.3 L6.2,8.1 A1.25,1.1 0 0 1 8.7,8.1 L8.7,8.6 Q9.9,8.6 9.9,10 L9.9,13.5 Q9.9,15.6 8.1,17.3 L8.1,19 L-0.6,19 L-0.6,17.3 Q-2.6,15 -4.6,11.6 Q-5.2,9.8 -3.9,9.7 Q-2.9,9.7 -1.2,12.2 Z" fill="#fff" stroke="#111" stroke-width="0.75" transform="translate(248.9 577.5)" stroke-linejoin="round"/>
<line x1="250.10" y1="584.10" x2="250.10" y2="588.00" stroke="#111" stroke-width="0.5" />
<line x1="252.60" y1="584.80" x2="252.60" y2="588.00" stroke="#111" stroke-width="0.5" />
<line x1="255.10" y1="585.60" x2="255.10" y2="588.00" stroke="#111" stroke-width="0.5" />
<line x1="412.00" y1="477.00" x2="412.00" y2="525.40" stroke="#e4e4e4" stroke-width="0.5" />
<line x1="424.90" y1="477.00" x2="424.90" y2="525.40" stroke="#e4e4e4" stroke-width="0.5" />
<line x1="437.80" y1="477.00" x2="437.80" y2="525.40" stroke="#e4e4e4" stroke-width="0.5" />
<line x1="450.70" y1="477.00" x2="450.70" y2="525.40" stroke="#e4e4e4" stroke-width="0.5" />
<line x1="463.60" y1="477.00" x2="463.60" y2="525.40" stroke="#e4e4e4" stroke-width="0.5" />
<line x1="476.50" y1="477.00" x2="476.50" y2="525.40" stroke="#e4e4e4" stroke-width="0.5" />
<line x1="412.00" y1="477.00" x2="476.50" y2="477.00" stroke="#e4e4e4" stroke-width="0.5" />
<line x1="412.00" y1="489.10" x2="476.50" y2="489.10" stroke="#e4e4e4" stroke-width="0.5" />
<line x1="412.00" y1="501.20" x2="476.50" y2="501.20" stroke="#e4e4e4" stroke-width="0.5" />
<line x1="412.00" y1="513.30" x2="476.50" y2="513.30" stroke="#e4e4e4" stroke-width="0.5" />
<line x1="412.00" y1="525.40" x2="476.50" y2="525.40" stroke="#e4e4e4" stroke-width="0.5" />
<line x1="412.00" y1="477.00" x2="412.00" y2="525.40" stroke="#999" stroke-width="0.5" />
<line x1="412.00" y1="525.40" x2="476.50" y2="525.40" stroke="#999" stroke-width="0.5" />
<line x1="412.00" y1="525.40" x2="412.00" y2="526.60" stroke="#999" stroke-width="0.4" />
<line x1="424.90" y1="525.40" x2="424.90" y2="526.60" stroke="#999" stroke-width="0.4" />
<line x1="437.80" y1="525.40" x2="437.80" y2="526.60" stroke="#999" stroke-width="0.4" />
<line x1="450.70" y1="525.40" x2="450.70" y2="526.60" stroke="#999" stroke-width="0.4" />
<line x1="463.60" y1="525.40" x2="463.60" y2="526.60" stroke="#999" stroke-width="0.4" />
<line x1="476.50" y1="525.40" x2="476.50" y2="526.60" stroke="#999" stroke-width="0.4" />
<line x1="410.80" y1="477.00" x2="412.00" y2="477.00" stroke="#999" stroke-width="0.4" />
<line x1="410.80" y1="489.10" x2="412.00" y2="489.10" stroke="#999" stroke-width="0.4" />
<line x1="410.80" y1="501.20" x2="412.00" y2="501.20" stroke="#999" stroke-width="0.4" />
<line x1="410.80" y1="513.30" x2="412.00" y2="513.30" stroke="#999" stroke-width="0.4" />
<line x1="410.80" y1="525.40" x2="412.00" y2="525.40" stroke="#999" stroke-width="0.4" />
<text x="444.2" y="473.9" font-family="Liberation Sans" font-size="5.1" text-anchor="middle" font-weight="bold" font-style="normal" fill="#222" >Perfectly Elastic</text>
<text x="444.2" y="532.8" font-family="Liberation Sans" font-size="4.7" text-anchor="middle" font-weight="bold" font-style="normal" fill="#222" >Time</text>
<text x="408.5" y="501.2" font-family="Liberation Sans" font-size="5.2" text-anchor="middle" font-weight="bold" font-style="normal" fill="#222" transform="rotate(-90 408.5 501.2)" >Amplitude</text>
<path d="M412.00,507.62 L412.40,505.66 L412.81,503.67 L413.21,501.65 L413.61,499.64 L414.02,497.63 L414.42,495.65 L414.82,493.71 L415.23,491.82 L415.63,490.00 L416.03,488.25 L416.43,486.60 L416.84,485.04 L417.24,483.60 L417.64,482.28 L418.05,481.09 L418.45,480.04 L418.85,479.13 L419.26,478.38 L419.66,477.79 L420.06,477.36 L420.47,477.10 L420.87,477.00 L421.27,477.07 L421.68,477.31 L422.08,477.71 L422.48,478.28 L422.88,479.01 L423.29,479.89 L423.69,480.91 L424.09,482.08 L424.50,483.38 L424.90,484.81 L425.30,486.35 L425.71,487.99 L426.11,489.72 L426.51,491.54 L426.92,493.42 L427.32,495.35 L427.72,497.32 L428.12,499.33 L428.53,501.34 L428.93,503.35 L429.33,505.35 L429.74,507.32 L430.14,509.25 L430.54,511.12 L430.95,512.92 L431.35,514.64 L431.75,516.27 L432.16,517.80 L432.56,519.20 L432.96,520.49 L433.37,521.64 L433.77,522.64 L434.17,523.50 L434.57,524.21 L434.98,524.75 L435.38,525.13 L435.78,525.35 L436.19,525.40 L436.59,525.28 L436.99,524.99 L437.40,524.54 L437.80,523.92 L438.20,523.15 L438.61,522.23 L439.01,521.16 L439.41,519.95 L439.82,518.61 L440.22,517.15 L440.62,515.58 L441.02,513.91 L441.43,512.15 L441.83,510.32 L442.23,508.42 L442.64,506.47 L443.04,504.49 L443.44,502.48 L443.85,500.47 L444.25,498.45 L444.65,496.46 L445.06,494.50 L445.46,492.59 L445.86,490.74 L446.27,488.96 L446.67,487.27 L447.07,485.67 L447.48,484.18 L447.88,482.80 L448.28,481.56 L448.68,480.45 L449.09,479.49 L449.49,478.67 L449.89,478.01 L450.30,477.52 L450.70,477.19 L451.10,477.02 L451.51,477.02 L451.91,477.19 L452.31,477.53 L452.72,478.03 L453.12,478.69 L453.52,479.51 L453.93,480.48 L454.33,481.59 L454.73,482.83 L455.13,484.21 L455.54,485.70 L455.94,487.30 L456.34,489.00 L456.75,490.78 L457.15,492.64 L457.55,494.55 L457.96,496.51 L458.36,498.50 L458.76,500.51 L459.17,502.53 L459.57,504.53 L459.97,506.52 L460.38,508.46 L460.78,510.36 L461.18,512.19 L461.58,513.95 L461.99,515.62 L462.39,517.18 L462.79,518.64 L463.20,519.98 L463.60,521.18 L464.00,522.25 L464.41,523.17 L464.81,523.94 L465.21,524.55 L465.62,525.00 L466.02,525.28 L466.42,525.40 L466.82,525.35 L467.23,525.13 L467.63,524.74 L468.03,524.19 L468.44,523.49 L468.84,522.62 L469.24,521.61 L469.65,520.46 L470.05,519.17 L470.45,517.76 L470.86,516.24 L471.26,514.61 L471.66,512.88 L472.07,511.08 L472.47,509.21 L472.87,507.28 L473.27,505.31 L473.68,503.31 L474.08,501.29 L474.48,499.28 L474.89,497.28 L475.29,495.30 L475.69,493.37 L476.10,491.49 L476.50,489.68" fill="none" stroke="#d43a2f" stroke-width="1.0" stroke-dasharray="1.6,1.4"/>
<line x1="492.00" y1="477.10" x2="492.00" y2="525.20" stroke="#e4e4e4" stroke-width="0.5" />
<line x1="504.86" y1="477.10" x2="504.86" y2="525.20" stroke="#e4e4e4" stroke-width="0.5" />
<line x1="517.72" y1="477.10" x2="517.72" y2="525.20" stroke="#e4e4e4" stroke-width="0.5" />
<line x1="530.58" y1="477.10" x2="530.58" y2="525.20" stroke="#e4e4e4" stroke-width="0.5" />
<line x1="543.44" y1="477.10" x2="543.44" y2="525.20" stroke="#e4e4e4" stroke-width="0.5" />
<line x1="556.30" y1="477.10" x2="556.30" y2="525.20" stroke="#e4e4e4" stroke-width="0.5" />
<line x1="492.00" y1="477.10" x2="556.30" y2="477.10" stroke="#e4e4e4" stroke-width="0.5" />
<line x1="492.00" y1="489.12" x2="556.30" y2="489.12" stroke="#e4e4e4" stroke-width="0.5" />
<line x1="492.00" y1="501.15" x2="556.30" y2="501.15" stroke="#e4e4e4" stroke-width="0.5" />
<line x1="492.00" y1="513.18" x2="556.30" y2="513.18" stroke="#e4e4e4" stroke-width="0.5" />
<line x1="492.00" y1="525.20" x2="556.30" y2="525.20" stroke="#e4e4e4" stroke-width="0.5" />
<line x1="492.00" y1="477.10" x2="492.00" y2="525.20" stroke="#999" stroke-width="0.5" />
<line x1="492.00" y1="525.20" x2="556.30" y2="525.20" stroke="#999" stroke-width="0.5" />
<line x1="492.00" y1="525.20" x2="492.00" y2="526.40" stroke="#999" stroke-width="0.4" />
<line x1="504.86" y1="525.20" x2="504.86" y2="526.40" stroke="#999" stroke-width="0.4" />
<line x1="517.72" y1="525.20" x2="517.72" y2="526.40" stroke="#999" stroke-width="0.4" />
<line x1="530.58" y1="525.20" x2="530.58" y2="526.40" stroke="#999" stroke-width="0.4" />
<line x1="543.44" y1="525.20" x2="543.44" y2="526.40" stroke="#999" stroke-width="0.4" />
<line x1="556.30" y1="525.20" x2="556.30" y2="526.40" stroke="#999" stroke-width="0.4" />
<line x1="490.80" y1="477.10" x2="492.00" y2="477.10" stroke="#999" stroke-width="0.4" />
<line x1="490.80" y1="489.12" x2="492.00" y2="489.12" stroke="#999" stroke-width="0.4" />
<line x1="490.80" y1="501.15" x2="492.00" y2="501.15" stroke="#999" stroke-width="0.4" />
<line x1="490.80" y1="513.18" x2="492.00" y2="513.18" stroke="#999" stroke-width="0.4" />
<line x1="490.80" y1="525.20" x2="492.00" y2="525.20" stroke="#999" stroke-width="0.4" />
<text x="524.2" y="473.9" font-family="Liberation Sans" font-size="5.1" text-anchor="middle" font-weight="bold" font-style="normal" fill="#222" >Viscoelastic</text>
<text x="524.2" y="532.8" font-family="Liberation Sans" font-size="4.7" text-anchor="middle" font-weight="bold" font-style="normal" fill="#222" >Time</text>
<text x="488.5" y="501.15000000000003" font-family="Liberation Sans" font-size="5.2" text-anchor="middle" font-weight="bold" font-style="normal" fill="#222" transform="rotate(-90 488.5 501.15000000000003)" >Amplitude</text>
<line x1="499.50" y1="477.10" x2="499.50" y2="525.20" stroke="#333" stroke-width="0.7" />
<line x1="507.80" y1="477.10" x2="507.80" y2="525.20" stroke="#333" stroke-width="0.7" />
<text x="503.7" y="523.3" font-family="Liberation Sans" font-size="2.8" text-anchor="middle" font-weight="normal" font-style="normal" fill="#555" >delta</text>
<path d="M492.00,504.97 L492.40,503.00 L492.80,501.01 L493.21,499.02 L493.61,497.05 L494.01,495.10 L494.41,493.20 L494.81,491.35 L495.21,489.56 L495.62,487.86 L496.02,486.25 L496.42,484.74 L496.82,483.34 L497.22,482.07 L497.63,480.92 L498.03,479.91 L498.43,479.05 L498.83,478.34 L499.23,477.79 L499.64,477.40 L500.04,477.17 L500.44,477.10 L500.84,477.20 L501.24,477.46 L501.64,477.89 L502.05,478.47 L502.45,479.21 L502.85,480.10 L503.25,481.13 L503.65,482.31 L504.06,483.61 L504.46,485.03 L504.86,486.56 L505.26,488.19 L505.66,489.91 L506.07,491.70 L506.47,493.57 L506.87,495.48 L507.27,497.43 L507.67,499.41 L508.07,501.40 L508.48,503.39 L508.88,505.36 L509.28,507.30 L509.68,509.20 L510.08,511.05 L510.49,512.83 L510.89,514.53 L511.29,516.13 L511.69,517.64 L512.09,519.03 L512.50,520.30 L512.90,521.44 L513.30,522.43 L513.70,523.29 L514.10,523.99 L514.50,524.53 L514.91,524.92 L515.31,525.14 L515.71,525.20 L516.11,525.09 L516.51,524.82 L516.92,524.39 L517.32,523.79 L517.72,523.05 L518.12,522.15 L518.52,521.11 L518.93,519.93 L519.33,518.62 L519.73,517.20 L520.13,515.66 L520.53,514.02 L520.93,512.30 L521.34,510.50 L521.74,508.63 L522.14,506.72 L522.54,504.77 L522.94,502.79 L523.35,500.80 L523.75,498.81 L524.15,496.84 L524.55,494.90 L524.95,493.00 L525.36,491.15 L525.76,489.38 L526.16,487.69 L526.56,486.08 L526.96,484.59 L527.37,483.20 L527.77,481.94 L528.17,480.81 L528.57,479.82 L528.97,478.97 L529.37,478.28 L529.78,477.74 L530.18,477.37 L530.58,477.15 L530.98,477.10 L531.38,477.22 L531.79,477.50 L532.19,477.94 L532.59,478.54 L532.99,479.30 L533.39,480.20 L533.79,481.25 L534.20,482.44 L534.60,483.75 L535.00,485.18 L535.40,486.72 L535.80,488.37 L536.21,490.09 L536.61,491.90 L537.01,493.77 L537.41,495.68 L537.81,497.64 L538.22,499.62 L538.62,501.61 L539.02,503.60 L539.42,505.57 L539.82,507.51 L540.22,509.40 L540.63,511.24 L541.03,513.01 L541.43,514.70 L541.83,516.30 L542.23,517.79 L542.64,519.17 L543.04,520.43 L543.44,521.55 L543.84,522.53 L544.24,523.37 L544.65,524.05 L545.05,524.58 L545.45,524.95 L545.85,525.15 L546.25,525.19 L546.65,525.07 L547.06,524.78 L547.46,524.33 L547.86,523.72 L548.26,522.96 L548.66,522.05 L549.07,520.99 L549.47,519.80 L549.87,518.48 L550.27,517.04 L550.67,515.49 L551.08,513.85 L551.48,512.11 L551.88,510.30 L552.28,508.43 L552.68,506.51 L553.08,504.56 L553.49,502.58 L553.89,500.59 L554.29,498.60 L554.69,496.63 L555.09,494.69 L555.50,492.80 L555.90,490.96 L556.30,489.20" fill="none" stroke="#8a8a8a" stroke-width="0.5" />
<path d="M492.00,525.07 L492.40,525.20 L492.80,525.15 L493.21,524.95 L493.61,524.58 L494.01,524.05 L494.41,523.37 L494.81,522.54 L495.21,521.56 L495.62,520.44 L496.02,519.19 L496.42,517.82 L496.82,516.33 L497.22,514.74 L497.63,513.06 L498.03,511.30 L498.43,509.47 L498.83,507.58 L499.23,505.65 L499.64,503.69 L500.04,501.71 L500.44,499.72 L500.84,497.75 L501.24,495.80 L501.64,493.88 L502.05,492.02 L502.45,490.22 L502.85,488.49 L503.25,486.84 L503.65,485.30 L504.06,483.86 L504.46,482.54 L504.86,481.35 L505.26,480.29 L505.66,479.38 L506.07,478.61 L506.47,477.99 L506.87,477.54 L507.27,477.24 L507.67,477.11 L508.07,477.14 L508.48,477.33 L508.88,477.69 L509.28,478.20 L509.68,478.87 L510.08,479.70 L510.49,480.67 L510.89,481.78 L511.29,483.02 L511.69,484.38 L512.09,485.86 L512.50,487.44 L512.90,489.11 L513.30,490.87 L513.70,492.70 L514.10,494.58 L514.50,496.51 L514.91,498.47 L515.31,500.45 L515.71,502.44 L516.11,504.41 L516.51,506.36 L516.92,508.28 L517.32,510.15 L517.72,511.96 L518.12,513.69 L518.52,515.34 L518.93,516.89 L519.33,518.34 L519.73,519.67 L520.13,520.87 L520.53,521.94 L520.93,522.86 L521.34,523.64 L521.74,524.27 L522.14,524.73 L522.54,525.04 L522.94,525.19 L523.35,525.17 L523.75,524.99 L524.15,524.64 L524.55,524.14 L524.95,523.48 L525.36,522.67 L525.76,521.71 L526.16,520.61 L526.56,519.38 L526.96,518.02 L527.37,516.55 L527.77,514.98 L528.17,513.31 L528.57,511.56 L528.97,509.73 L529.37,507.85 L529.78,505.93 L530.18,503.97 L530.58,501.99 L530.98,500.01 L531.38,498.03 L531.79,496.07 L532.19,494.15 L532.59,492.28 L532.99,490.47 L533.39,488.73 L533.79,487.07 L534.20,485.51 L534.60,484.06 L535.00,482.72 L535.40,481.51 L535.80,480.44 L536.21,479.50 L536.61,478.71 L537.01,478.07 L537.41,477.59 L537.81,477.27 L538.22,477.12 L538.62,477.12 L539.02,477.29 L539.42,477.63 L539.82,478.12 L540.22,478.77 L540.63,479.57 L541.03,480.52 L541.43,481.61 L541.83,482.83 L542.23,484.18 L542.64,485.64 L543.04,487.21 L543.44,488.87 L543.84,490.62 L544.24,492.43 L544.65,494.31 L545.05,496.23 L545.45,498.19 L545.85,500.17 L546.25,502.15 L546.65,504.13 L547.06,506.09 L547.46,508.01 L547.86,509.89 L548.26,511.70 L548.66,513.45 L549.07,515.11 L549.47,516.68 L549.87,518.14 L550.27,519.48 L550.67,520.70 L551.08,521.79 L551.48,522.74 L551.88,523.54 L552.28,524.19 L552.68,524.68 L553.08,525.01 L553.49,525.18 L553.89,525.18 L554.29,525.02 L554.69,524.70 L555.09,524.22 L555.50,523.58 L555.90,522.79 L556.30,521.85" fill="none" stroke="#d43a2f" stroke-width="1.0" stroke-dasharray="1.6,1.4"/>
<line x1="572.20" y1="477.30" x2="572.20" y2="525.20" stroke="#e4e4e4" stroke-width="0.5" />
<line x1="585.02" y1="477.30" x2="585.02" y2="525.20" stroke="#e4e4e4" stroke-width="0.5" />
<line x1="597.84" y1="477.30" x2="597.84" y2="525.20" stroke="#e4e4e4" stroke-width="0.5" />
<line x1="610.66" y1="477.30" x2="610.66" y2="525.20" stroke="#e4e4e4" stroke-width="0.5" />
<line x1="623.48" y1="477.30" x2="623.48" y2="525.20" stroke="#e4e4e4" stroke-width="0.5" />
<line x1="636.30" y1="477.30" x2="636.30" y2="525.20" stroke="#e4e4e4" stroke-width="0.5" />
<line x1="572.20" y1="477.30" x2="636.30" y2="477.30" stroke="#e4e4e4" stroke-width="0.5" />
<line x1="572.20" y1="489.28" x2="636.30" y2="489.28" stroke="#e4e4e4" stroke-width="0.5" />
<line x1="572.20" y1="501.25" x2="636.30" y2="501.25" stroke="#e4e4e4" stroke-width="0.5" />
<line x1="572.20" y1="513.23" x2="636.30" y2="513.23" stroke="#e4e4e4" stroke-width="0.5" />
<line x1="572.20" y1="525.20" x2="636.30" y2="525.20" stroke="#e4e4e4" stroke-width="0.5" />
<line x1="572.20" y1="477.30" x2="572.20" y2="525.20" stroke="#999" stroke-width="0.5" />
<line x1="572.20" y1="525.20" x2="636.30" y2="525.20" stroke="#999" stroke-width="0.5" />
<line x1="572.20" y1="525.20" x2="572.20" y2="526.40" stroke="#999" stroke-width="0.4" />
<line x1="585.02" y1="525.20" x2="585.02" y2="526.40" stroke="#999" stroke-width="0.4" />
<line x1="597.84" y1="525.20" x2="597.84" y2="526.40" stroke="#999" stroke-width="0.4" />
<line x1="610.66" y1="525.20" x2="610.66" y2="526.40" stroke="#999" stroke-width="0.4" />
<line x1="623.48" y1="525.20" x2="623.48" y2="526.40" stroke="#999" stroke-width="0.4" />
<line x1="636.30" y1="525.20" x2="636.30" y2="526.40" stroke="#999" stroke-width="0.4" />
<line x1="571.00" y1="477.30" x2="572.20" y2="477.30" stroke="#999" stroke-width="0.4" />
<line x1="571.00" y1="489.28" x2="572.20" y2="489.28" stroke="#999" stroke-width="0.4" />
<line x1="571.00" y1="501.25" x2="572.20" y2="501.25" stroke="#999" stroke-width="0.4" />
<line x1="571.00" y1="513.23" x2="572.20" y2="513.23" stroke="#999" stroke-width="0.4" />
<line x1="571.00" y1="525.20" x2="572.20" y2="525.20" stroke="#999" stroke-width="0.4" />
<text x="604" y="473.9" font-family="Liberation Sans" font-size="5.1" text-anchor="middle" font-weight="bold" font-style="normal" fill="#222" >Purely Viscous</text>
<text x="604" y="532.8" font-family="Liberation Sans" font-size="4.7" text-anchor="middle" font-weight="bold" font-style="normal" fill="#222" >Time</text>
<text x="568.7" y="501.25" font-family="Liberation Sans" font-size="5.2" text-anchor="middle" font-weight="bold" font-style="normal" fill="#222" transform="rotate(-90 568.7 501.25)" >Amplitude</text>
<path d="M572.20,501.98 L572.60,500.03 L573.00,498.10 L573.40,496.18 L573.80,494.30 L574.20,492.46 L574.60,490.69 L575.00,488.98 L575.41,487.35 L575.81,485.81 L576.21,484.38 L576.61,483.06 L577.01,481.85 L577.41,480.78 L577.81,479.84 L578.21,479.04 L578.61,478.38 L579.01,477.88 L579.41,477.53 L579.81,477.34 L580.21,477.31 L580.61,477.43 L581.01,477.71 L581.41,478.14 L581.82,478.73 L582.22,479.47 L582.62,480.35 L583.02,481.37 L583.42,482.51 L583.82,483.78 L584.22,485.17 L584.62,486.66 L585.02,488.25 L585.42,489.93 L585.82,491.68 L586.22,493.49 L586.62,495.35 L587.02,497.25 L587.42,499.18 L587.82,501.13 L588.23,503.07 L588.63,505.00 L589.03,506.91 L589.43,508.77 L589.83,510.59 L590.23,512.35 L590.63,514.04 L591.03,515.64 L591.43,517.14 L591.83,518.54 L592.23,519.83 L592.63,521.00 L593.03,522.03 L593.43,522.93 L593.83,523.68 L594.23,524.29 L594.63,524.74 L595.04,525.04 L595.44,525.19 L595.84,525.17 L596.24,525.00 L596.64,524.67 L597.04,524.19 L597.44,523.55 L597.84,522.77 L598.24,521.85 L598.64,520.79 L599.04,519.60 L599.44,518.30 L599.84,516.88 L600.24,515.35 L600.64,513.74 L601.04,512.04 L601.45,510.27 L601.85,508.44 L602.25,506.56 L602.65,504.65 L603.05,502.71 L603.45,500.77 L603.85,498.83 L604.25,496.91 L604.65,495.01 L605.05,493.15 L605.45,491.35 L605.85,489.62 L606.25,487.96 L606.65,486.38 L607.05,484.91 L607.46,483.54 L607.86,482.29 L608.26,481.17 L608.66,480.18 L609.06,479.32 L609.46,478.61 L609.86,478.05 L610.26,477.65 L610.66,477.40 L611.06,477.30 L611.46,477.36 L611.86,477.58 L612.26,477.96 L612.66,478.49 L613.06,479.17 L613.46,480.00 L613.87,480.96 L614.27,482.06 L614.67,483.29 L615.07,484.63 L615.47,486.09 L615.87,487.64 L616.27,489.28 L616.67,491.01 L617.07,492.80 L617.47,494.64 L617.87,496.53 L618.27,498.45 L618.67,500.39 L619.07,502.33 L619.47,504.27 L619.87,506.19 L620.27,508.07 L620.68,509.91 L621.08,511.69 L621.48,513.41 L621.88,515.04 L622.28,516.58 L622.68,518.03 L623.08,519.36 L623.48,520.57 L623.88,521.65 L624.28,522.60 L624.68,523.41 L625.08,524.08 L625.48,524.59 L625.88,524.95 L626.28,525.15 L626.68,525.20 L627.09,525.08 L627.49,524.81 L627.89,524.39 L628.29,523.81 L628.69,523.09 L629.09,522.22 L629.49,521.21 L629.89,520.07 L630.29,518.81 L630.69,517.43 L631.09,515.94 L631.49,514.36 L631.89,512.69 L632.29,510.95 L632.69,509.14 L633.09,507.28 L633.50,505.38 L633.90,503.45 L634.30,501.51 L634.70,499.56 L635.10,497.63 L635.50,495.72 L635.90,493.85 L636.30,492.03" fill="none" stroke="#8a8a8a" stroke-width="0.5" />
<path d="M572.20,500.52 L572.60,502.47 L573.00,504.40 L573.40,506.32 L573.80,508.20 L574.20,510.04 L574.60,511.81 L575.00,513.52 L575.41,515.15 L575.81,516.69 L576.21,518.12 L576.61,519.44 L577.01,520.65 L577.41,521.72 L577.81,522.66 L578.21,523.46 L578.61,524.12 L579.01,524.62 L579.41,524.97 L579.81,525.16 L580.21,525.19 L580.61,525.07 L581.01,524.79 L581.41,524.36 L581.82,523.77 L582.22,523.03 L582.62,522.15 L583.02,521.13 L583.42,519.99 L583.82,518.72 L584.22,517.33 L584.62,515.84 L585.02,514.25 L585.42,512.57 L585.82,510.82 L586.22,509.01 L586.62,507.15 L587.02,505.25 L587.42,503.32 L587.82,501.37 L588.23,499.43 L588.63,497.50 L589.03,495.59 L589.43,493.73 L589.83,491.91 L590.23,490.15 L590.63,488.46 L591.03,486.86 L591.43,485.36 L591.83,483.96 L592.23,482.67 L592.63,481.50 L593.03,480.47 L593.43,479.57 L593.83,478.82 L594.23,478.21 L594.63,477.76 L595.04,477.46 L595.44,477.31 L595.84,477.33 L596.24,477.50 L596.64,477.83 L597.04,478.31 L597.44,478.95 L597.84,479.73 L598.24,480.65 L598.64,481.71 L599.04,482.90 L599.44,484.20 L599.84,485.62 L600.24,487.15 L600.64,488.76 L601.04,490.46 L601.45,492.23 L601.85,494.06 L602.25,495.94 L602.65,497.85 L603.05,499.79 L603.45,501.73 L603.85,503.67 L604.25,505.59 L604.65,507.49 L605.05,509.35 L605.45,511.15 L605.85,512.88 L606.25,514.54 L606.65,516.12 L607.05,517.59 L607.46,518.96 L607.86,520.21 L608.26,521.33 L608.66,522.32 L609.06,523.18 L609.46,523.89 L609.86,524.45 L610.26,524.85 L610.66,525.10 L611.06,525.20 L611.46,525.14 L611.86,524.92 L612.26,524.54 L612.66,524.01 L613.06,523.33 L613.46,522.50 L613.87,521.54 L614.27,520.44 L614.67,519.21 L615.07,517.87 L615.47,516.41 L615.87,514.86 L616.27,513.22 L616.67,511.49 L617.07,509.70 L617.47,507.86 L617.87,505.97 L618.27,504.05 L618.67,502.11 L619.07,500.17 L619.47,498.23 L619.87,496.31 L620.27,494.43 L620.68,492.59 L621.08,490.81 L621.48,489.09 L621.88,487.46 L622.28,485.92 L622.68,484.47 L623.08,483.14 L623.48,481.93 L623.88,480.85 L624.28,479.90 L624.68,479.09 L625.08,478.42 L625.48,477.91 L625.88,477.55 L626.28,477.35 L626.68,477.30 L627.09,477.42 L627.49,477.69 L627.89,478.11 L628.29,478.69 L628.69,479.41 L629.09,480.28 L629.49,481.29 L629.89,482.43 L630.29,483.69 L630.69,485.07 L631.09,486.56 L631.49,488.14 L631.89,489.81 L632.29,491.55 L632.69,493.36 L633.09,495.22 L633.50,497.12 L633.90,499.05 L634.30,500.99 L634.70,502.94 L635.10,504.87 L635.50,506.78 L635.90,508.65 L636.30,510.47" fill="none" stroke="#d43a2f" stroke-width="1.0" stroke-dasharray="1.6,1.4"/>
<text x="642.1" y="480.2" font-family="Liberation Sans" font-size="3.7" text-anchor="start" font-weight="bold" font-style="normal" fill="#222" >Legend</text>
<line x1="643.00" y1="485.60" x2="648.50" y2="485.60" stroke="#8a8a8a" stroke-width="0.5" />
<text x="650.3" y="487.1" font-family="Liberation Sans" font-size="4.0" text-anchor="start" font-weight="normal" font-style="normal" fill="#444" transform="translate(650.3 487.1) scale(0.85 1) translate(-650.3 -487.1)" >Applied Stress</text>
<line x1="643.00" y1="491.50" x2="648.50" y2="491.50" stroke="#d43a2f" stroke-width="0.9" stroke-dasharray="1.2,1"/>
<text x="650.3" y="493" font-family="Liberation Sans" font-size="4.0" text-anchor="start" font-weight="normal" font-style="normal" fill="#444" transform="translate(650.3 493) scale(0.85 1) translate(-650.3 -493)" >Strain Response</text>
<line x1="412.10" y1="549.30" x2="412.10" y2="646.00" stroke="#e6e6e6" stroke-width="0.5" />
<line x1="412.10" y1="646.00" x2="412.10" y2="647.50" stroke="#999" stroke-width="0.4" />
<text x="412.1" y="651.3" font-family="Liberation Sans" font-size="4.6" text-anchor="middle" font-weight="normal" font-style="normal" fill="#333" >-60</text>
<line x1="425.17" y1="549.30" x2="425.17" y2="646.00" stroke="#e6e6e6" stroke-width="0.5" />
<line x1="425.17" y1="646.00" x2="425.17" y2="647.50" stroke="#999" stroke-width="0.4" />
<text x="425.1666666666667" y="651.3" font-family="Liberation Sans" font-size="4.6" text-anchor="middle" font-weight="normal" font-style="normal" fill="#333" >-40</text>
<line x1="438.23" y1="549.30" x2="438.23" y2="646.00" stroke="#e6e6e6" stroke-width="0.5" />
<line x1="438.23" y1="646.00" x2="438.23" y2="647.50" stroke="#999" stroke-width="0.4" />
<text x="438.23333333333335" y="651.3" font-family="Liberation Sans" font-size="4.6" text-anchor="middle" font-weight="normal" font-style="normal" fill="#333" >-20</text>
<line x1="451.30" y1="549.30" x2="451.30" y2="646.00" stroke="#e6e6e6" stroke-width="0.5" />
<line x1="451.30" y1="646.00" x2="451.30" y2="647.50" stroke="#999" stroke-width="0.4" />
<text x="451.3" y="651.3" font-family="Liberation Sans" font-size="4.6" text-anchor="middle" font-weight="normal" font-style="normal" fill="#333" >0</text>
<line x1="464.37" y1="549.30" x2="464.37" y2="646.00" stroke="#e6e6e6" stroke-width="0.5" />
<line x1="464.37" y1="646.00" x2="464.37" y2="647.50" stroke="#999" stroke-width="0.4" />
<text x="464.3666666666667" y="651.3" font-family="Liberation Sans" font-size="4.6" text-anchor="middle" font-weight="normal" font-style="normal" fill="#333" >20</text>
<line x1="477.43" y1="549.30" x2="477.43" y2="646.00" stroke="#e6e6e6" stroke-width="0.5" />
<line x1="477.43" y1="646.00" x2="477.43" y2="647.50" stroke="#999" stroke-width="0.4" />
<text x="477.4333333333334" y="651.3" font-family="Liberation Sans" font-size="4.6" text-anchor="middle" font-weight="normal" font-style="normal" fill="#333" >40</text>
<line x1="490.50" y1="549.30" x2="490.50" y2="646.00" stroke="#e6e6e6" stroke-width="0.5" />
<line x1="490.50" y1="646.00" x2="490.50" y2="647.50" stroke="#999" stroke-width="0.4" />
<text x="490.50000000000006" y="651.3" font-family="Liberation Sans" font-size="4.6" text-anchor="middle" font-weight="normal" font-style="normal" fill="#333" >60</text>
<line x1="503.57" y1="549.30" x2="503.57" y2="646.00" stroke="#e6e6e6" stroke-width="0.5" />
<line x1="503.57" y1="646.00" x2="503.57" y2="647.50" stroke="#999" stroke-width="0.4" />
<text x="503.5666666666667" y="651.3" font-family="Liberation Sans" font-size="4.6" text-anchor="middle" font-weight="normal" font-style="normal" fill="#333" >80</text>
<line x1="516.63" y1="549.30" x2="516.63" y2="646.00" stroke="#e6e6e6" stroke-width="0.5" />
<line x1="516.63" y1="646.00" x2="516.63" y2="647.50" stroke="#999" stroke-width="0.4" />
<text x="516.6333333333334" y="651.3" font-family="Liberation Sans" font-size="4.6" text-anchor="middle" font-weight="normal" font-style="normal" fill="#333" >100</text>
<line x1="529.70" y1="549.30" x2="529.70" y2="646.00" stroke="#e6e6e6" stroke-width="0.5" />
<line x1="529.70" y1="646.00" x2="529.70" y2="647.50" stroke="#999" stroke-width="0.4" />
<text x="529.7" y="651.3" font-family="Liberation Sans" font-size="4.6" text-anchor="middle" font-weight="normal" font-style="normal" fill="#333" >120</text>
<line x1="412.10" y1="646.00" x2="529.70" y2="646.00" stroke="#e6e6e6" stroke-width="0.5" />
<line x1="410.60" y1="646.00" x2="412.10" y2="646.00" stroke="#999" stroke-width="0.4" />
<text x="410.1" y="647.5" font-family="Liberation Sans" font-size="4.4" text-anchor="end" font-weight="normal" font-style="normal" fill="#333" >0</text>
<line x1="412.10" y1="636.33" x2="529.70" y2="636.33" stroke="#e6e6e6" stroke-width="0.5" />
<line x1="410.60" y1="636.33" x2="412.10" y2="636.33" stroke="#999" stroke-width="0.4" />
<text x="410.1" y="637.83" font-family="Liberation Sans" font-size="4.4" text-anchor="end" font-weight="normal" font-style="normal" fill="#333" >500</text>
<line x1="412.10" y1="626.66" x2="529.70" y2="626.66" stroke="#e6e6e6" stroke-width="0.5" />
<line x1="410.60" y1="626.66" x2="412.10" y2="626.66" stroke="#999" stroke-width="0.4" />
<text x="410.1" y="628.16" font-family="Liberation Sans" font-size="4.4" text-anchor="end" font-weight="normal" font-style="normal" fill="#333" >1,000</text>
<line x1="412.10" y1="616.99" x2="529.70" y2="616.99" stroke="#e6e6e6" stroke-width="0.5" />
<line x1="410.60" y1="616.99" x2="412.10" y2="616.99" stroke="#999" stroke-width="0.4" />
<text x="410.1" y="618.49" font-family="Liberation Sans" font-size="4.4" text-anchor="end" font-weight="normal" font-style="normal" fill="#333" >1,500</text>
<line x1="412.10" y1="607.32" x2="529.70" y2="607.32" stroke="#e6e6e6" stroke-width="0.5" />
<line x1="410.60" y1="607.32" x2="412.10" y2="607.32" stroke="#999" stroke-width="0.4" />
<text x="410.1" y="608.8199999999999" font-family="Liberation Sans" font-size="4.4" text-anchor="end" font-weight="normal" font-style="normal" fill="#333" >2,000</text>
<line x1="412.10" y1="597.65" x2="529.70" y2="597.65" stroke="#e6e6e6" stroke-width="0.5" />
<line x1="410.60" y1="597.65" x2="412.10" y2="597.65" stroke="#999" stroke-width="0.4" />
<text x="410.1" y="599.15" font-family="Liberation Sans" font-size="4.4" text-anchor="end" font-weight="normal" font-style="normal" fill="#333" >2,500</text>
<line x1="412.10" y1="587.98" x2="529.70" y2="587.98" stroke="#e6e6e6" stroke-width="0.5" />
<line x1="410.60" y1="587.98" x2="412.10" y2="587.98" stroke="#999" stroke-width="0.4" />
<text x="410.1" y="589.48" font-family="Liberation Sans" font-size="4.4" text-anchor="end" font-weight="normal" font-style="normal" fill="#333" >3,000</text>
<line x1="412.10" y1="578.31" x2="529.70" y2="578.31" stroke="#e6e6e6" stroke-width="0.5" />
<line x1="410.60" y1="578.31" x2="412.10" y2="578.31" stroke="#999" stroke-width="0.4" />
<text x="410.1" y="579.81" font-family="Liberation Sans" font-size="4.4" text-anchor="end" font-weight="normal" font-style="normal" fill="#333" >3,500</text>
<line x1="412.10" y1="568.64" x2="529.70" y2="568.64" stroke="#e6e6e6" stroke-width="0.5" />
<line x1="410.60" y1="568.64" x2="412.10" y2="568.64" stroke="#999" stroke-width="0.4" />
<text x="410.1" y="570.14" font-family="Liberation Sans" font-size="4.4" text-anchor="end" font-weight="normal" font-style="normal" fill="#333" >4,000</text>
<line x1="412.10" y1="558.97" x2="529.70" y2="558.97" stroke="#e6e6e6" stroke-width="0.5" />
<line x1="410.60" y1="558.97" x2="412.10" y2="558.97" stroke="#999" stroke-width="0.4" />
<text x="410.1" y="560.4699999999999" font-family="Liberation Sans" font-size="4.4" text-anchor="end" font-weight="normal" font-style="normal" fill="#333" >4,500</text>
<line x1="412.10" y1="549.30" x2="529.70" y2="549.30" stroke="#e6e6e6" stroke-width="0.5" />
<line x1="410.60" y1="549.30" x2="412.10" y2="549.30" stroke="#999" stroke-width="0.4" />
<text x="410.1" y="550.8" font-family="Liberation Sans" font-size="4.4" text-anchor="end" font-weight="normal" font-style="normal" fill="#333" >5,000</text>
<line x1="412.10" y1="549.30" x2="412.10" y2="646.00" stroke="#999" stroke-width="0.6" />
<line x1="412.10" y1="646.00" x2="529.70" y2="646.00" stroke="#999" stroke-width="0.6" />
<text x="470.5" y="545" font-family="Liberation Sans" font-size="5.05" text-anchor="middle" font-weight="bold" font-style="normal" fill="#222" >Temperature Sweep</text>
<text x="470.5" y="657.5" font-family="Liberation Sans" font-size="4.9" text-anchor="middle" font-weight="bold" font-style="normal" fill="#222" >Temperature (C)</text>
<text x="397.8" y="597.6" font-family="Liberation Sans" font-size="5.1" text-anchor="middle" font-weight="bold" font-style="normal" fill="#222" transform="rotate(-90 397.8 597.6)" >Storage Modulus (MPa)</text>
<path d="M412.12,560.09 L414.78,560.09 L416.37,558.50 L417.44,562.22 L421.68,563.28 L425.93,568.06 L431.24,570.18 L435.49,572.31 L438.68,578.68 L440.81,586.12 L441.87,594.61 L442.93,600.99" fill="none" stroke="#ee8f86" stroke-width="0.7" stroke-dasharray="0.8,0.9" opacity="0.55"/>
<path d="M412.12,565.93 L415.31,565.93 L417.44,568.59 L420.62,568.59 L423.28,570.18 L425.93,565.40 L427.00,575.49 L430.18,578.68 L434.43,581.87 L438.15,583.99 L440.81,590.37 L441.65,596.74" fill="none" stroke="#ee8f86" stroke-width="0.7" stroke-dasharray="0.8,0.9" opacity="0.55"/>
<path d="M412.12,572.31 L415.31,574.43 L419.56,575.49 L421.68,578.15 L423.81,577.62 L425.93,581.87 L431.24,585.05 L436.56,586.65 L439.74,594.61 L441.87,602.05" fill="none" stroke="#ee8f86" stroke-width="0.7" stroke-dasharray="0.8,0.9" opacity="0.55"/>
<path d="M412.10,599.10 L418.50,604.40 L425.90,609.20 L431.20,611.30 L437.60,614.00 L440.80,618.20 L442.90,625.70 L445.00,633.10 L447.20,640.50 L449.30,643.70 L452.50,645.30 L460.00,645.80" fill="none" stroke="#9dbfe0" stroke-width="0.8" stroke-dasharray="0.9,0.8" opacity="0.75"/>
<path d="M412.10,585.60 L413.70,585.80 L416.40,588.00 L418.50,587.80 L420.60,588.50 L421.70,589.60 L423.30,594.90 L424.90,593.80 L427.00,592.70 L429.10,593.30 L431.20,595.90 L434.40,598.10 L438.10,600.70 L440.80,605.50 L442.40,610.80 L443.50,619.30 L445.00,624.60 L446.60,631.00 L448.20,637.30 L449.80,641.60 L451.90,643.70 L455.70,644.80 L461.00,645.20 L470.00,645.30 L529.70,645.40" fill="none" stroke="#e0463c" stroke-width="1.3" />
<circle cx="412.10" cy="585.60" r="0.85" fill="#e0463c" />
<circle cx="413.70" cy="585.80" r="0.85" fill="#e0463c" />
<circle cx="416.40" cy="588.00" r="0.85" fill="#e0463c" />
<circle cx="418.50" cy="587.80" r="0.85" fill="#e0463c" />
<circle cx="420.60" cy="588.50" r="0.85" fill="#e0463c" />
<circle cx="421.70" cy="589.60" r="0.85" fill="#e0463c" />
<circle cx="423.30" cy="594.90" r="0.85" fill="#e0463c" />
<circle cx="424.90" cy="593.80" r="0.85" fill="#e0463c" />
<circle cx="427.00" cy="592.70" r="0.85" fill="#e0463c" />
<circle cx="429.10" cy="593.30" r="0.85" fill="#e0463c" />
<circle cx="431.20" cy="595.90" r="0.85" fill="#e0463c" />
<circle cx="434.40" cy="598.10" r="0.85" fill="#e0463c" />
<circle cx="436.25" cy="599.40" r="0.85" fill="#e0463c" />
<circle cx="438.10" cy="600.70" r="0.85" fill="#e0463c" />
<circle cx="440.80" cy="605.50" r="0.85" fill="#e0463c" />
<circle cx="442.40" cy="610.80" r="0.85" fill="#e0463c" />
<circle cx="443.50" cy="619.30" r="0.85" fill="#e0463c" />
<circle cx="445.00" cy="624.60" r="0.85" fill="#e0463c" />
<circle cx="446.60" cy="631.00" r="0.85" fill="#e0463c" />
<circle cx="448.20" cy="637.30" r="0.85" fill="#e0463c" />
<circle cx="449.80" cy="641.60" r="0.85" fill="#e0463c" />
<circle cx="451.90" cy="643.70" r="0.85" fill="#e0463c" />
<circle cx="453.80" cy="644.25" r="0.85" fill="#e0463c" />
<circle cx="455.70" cy="644.80" r="0.85" fill="#e0463c" />
<circle cx="457.47" cy="644.93" r="0.85" fill="#e0463c" />
<circle cx="459.23" cy="645.07" r="0.85" fill="#e0463c" />
<circle cx="461.00" cy="645.20" r="0.85" fill="#e0463c" />
<circle cx="462.80" cy="645.22" r="0.85" fill="#e0463c" />
<circle cx="464.60" cy="645.24" r="0.85" fill="#e0463c" />
<circle cx="466.40" cy="645.26" r="0.85" fill="#e0463c" />
<circle cx="468.20" cy="645.28" r="0.85" fill="#e0463c" />
<circle cx="470.00" cy="645.30" r="0.85" fill="#e0463c" />
<circle cx="471.61" cy="645.30" r="0.85" fill="#e0463c" />
<circle cx="473.23" cy="645.31" r="0.85" fill="#e0463c" />
<circle cx="474.84" cy="645.31" r="0.85" fill="#e0463c" />
<circle cx="476.45" cy="645.31" r="0.85" fill="#e0463c" />
<circle cx="478.07" cy="645.31" r="0.85" fill="#e0463c" />
<circle cx="479.68" cy="645.32" r="0.85" fill="#e0463c" />
<circle cx="481.29" cy="645.32" r="0.85" fill="#e0463c" />
<circle cx="482.91" cy="645.32" r="0.85" fill="#e0463c" />
<circle cx="484.52" cy="645.32" r="0.85" fill="#e0463c" />
<circle cx="486.14" cy="645.33" r="0.85" fill="#e0463c" />
<circle cx="487.75" cy="645.33" r="0.85" fill="#e0463c" />
<circle cx="489.36" cy="645.33" r="0.85" fill="#e0463c" />
<circle cx="490.98" cy="645.34" r="0.85" fill="#e0463c" />
<circle cx="492.59" cy="645.34" r="0.85" fill="#e0463c" />
<circle cx="494.20" cy="645.34" r="0.85" fill="#e0463c" />
<circle cx="495.82" cy="645.34" r="0.85" fill="#e0463c" />
<circle cx="497.43" cy="645.35" r="0.85" fill="#e0463c" />
<circle cx="499.04" cy="645.35" r="0.85" fill="#e0463c" />
<circle cx="500.66" cy="645.35" r="0.85" fill="#e0463c" />
<circle cx="502.27" cy="645.35" r="0.85" fill="#e0463c" />
<circle cx="503.88" cy="645.36" r="0.85" fill="#e0463c" />
<circle cx="505.50" cy="645.36" r="0.85" fill="#e0463c" />
<circle cx="507.11" cy="645.36" r="0.85" fill="#e0463c" />
<circle cx="508.72" cy="645.36" r="0.85" fill="#e0463c" />
<circle cx="510.34" cy="645.37" r="0.85" fill="#e0463c" />
<circle cx="511.95" cy="645.37" r="0.85" fill="#e0463c" />
<circle cx="513.56" cy="645.37" r="0.85" fill="#e0463c" />
<circle cx="515.18" cy="645.38" r="0.85" fill="#e0463c" />
<circle cx="516.79" cy="645.38" r="0.85" fill="#e0463c" />
<circle cx="518.41" cy="645.38" r="0.85" fill="#e0463c" />
<circle cx="520.02" cy="645.38" r="0.85" fill="#e0463c" />
<circle cx="521.63" cy="645.39" r="0.85" fill="#e0463c" />
<circle cx="523.25" cy="645.39" r="0.85" fill="#e0463c" />
<circle cx="524.86" cy="645.39" r="0.85" fill="#e0463c" />
<circle cx="526.47" cy="645.39" r="0.85" fill="#e0463c" />
<circle cx="528.09" cy="645.40" r="0.85" fill="#e0463c" />
<circle cx="529.70" cy="645.40" r="0.85" fill="#e0463c" />
<path d="M430.70,595.90 L430.70,610.90 L434.30,607.50 L436.90,612.90 L439.10,611.90 L436.60,606.70 L441.50,606.70 Z" fill="#fff" stroke="#000" stroke-width="0.9" stroke-linejoin="round"/>
<line x1="431.40" y1="598.00" x2="431.40" y2="609.50" stroke="#999" stroke-width="1.1" />
<line x1="564.60" y1="549.30" x2="564.60" y2="646.00" stroke="#e6e6e6" stroke-width="0.5" />
<line x1="564.60" y1="646.00" x2="564.60" y2="647.50" stroke="#999" stroke-width="0.4" />
<line x1="575.30" y1="549.30" x2="575.30" y2="646.00" stroke="#e6e6e6" stroke-width="0.5" />
<line x1="575.30" y1="646.00" x2="575.30" y2="647.50" stroke="#999" stroke-width="0.4" />
<line x1="586.00" y1="549.30" x2="586.00" y2="646.00" stroke="#e6e6e6" stroke-width="0.5" />
<line x1="586.00" y1="646.00" x2="586.00" y2="647.50" stroke="#999" stroke-width="0.4" />
<line x1="596.70" y1="549.30" x2="596.70" y2="646.00" stroke="#e6e6e6" stroke-width="0.5" />
<line x1="596.70" y1="646.00" x2="596.70" y2="647.50" stroke="#999" stroke-width="0.4" />
<line x1="607.40" y1="549.30" x2="607.40" y2="646.00" stroke="#e6e6e6" stroke-width="0.5" />
<line x1="607.40" y1="646.00" x2="607.40" y2="647.50" stroke="#999" stroke-width="0.4" />
<line x1="618.10" y1="549.30" x2="618.10" y2="646.00" stroke="#e6e6e6" stroke-width="0.5" />
<line x1="618.10" y1="646.00" x2="618.10" y2="647.50" stroke="#999" stroke-width="0.4" />
<line x1="628.80" y1="549.30" x2="628.80" y2="646.00" stroke="#e6e6e6" stroke-width="0.5" />
<line x1="628.80" y1="646.00" x2="628.80" y2="647.50" stroke="#999" stroke-width="0.4" />
<line x1="639.50" y1="549.30" x2="639.50" y2="646.00" stroke="#e6e6e6" stroke-width="0.5" />
<line x1="639.50" y1="646.00" x2="639.50" y2="647.50" stroke="#999" stroke-width="0.4" />
<line x1="650.20" y1="549.30" x2="650.20" y2="646.00" stroke="#e6e6e6" stroke-width="0.5" />
<line x1="650.20" y1="646.00" x2="650.20" y2="647.50" stroke="#999" stroke-width="0.4" />
<line x1="660.90" y1="549.30" x2="660.90" y2="646.00" stroke="#e6e6e6" stroke-width="0.5" />
<line x1="660.90" y1="646.00" x2="660.90" y2="647.50" stroke="#999" stroke-width="0.4" />
<line x1="671.60" y1="549.30" x2="671.60" y2="646.00" stroke="#e6e6e6" stroke-width="0.5" />
<line x1="671.60" y1="646.00" x2="671.60" y2="647.50" stroke="#999" stroke-width="0.4" />
<text x="564.6" y="651.8" font-family="Liberation Sans" font-size="4.3" text-anchor="middle" font-weight="normal" font-style="normal" fill="#333" >1e-8</text>
<text x="575.3000000000001" y="651.8" font-family="Liberation Sans" font-size="4.3" text-anchor="middle" font-weight="normal" font-style="normal" fill="#333" >1e-6</text>
<text x="586.0" y="651.8" font-family="Liberation Sans" font-size="4.3" text-anchor="middle" font-weight="normal" font-style="normal" fill="#333" >1e-4</text>
<text x="596.7" y="651.8" font-family="Liberation Sans" font-size="4.3" text-anchor="middle" font-weight="normal" font-style="normal" fill="#333" >1e-2</text>
<text x="607.4" y="651.8" font-family="Liberation Sans" font-size="4.3" text-anchor="middle" font-weight="normal" font-style="normal" fill="#333" >1e+0</text>
<text x="618.1" y="651.8" font-family="Liberation Sans" font-size="4.3" text-anchor="middle" font-weight="normal" font-style="normal" fill="#333" >1e+2</text>
<text x="628.8" y="651.8" font-family="Liberation Sans" font-size="4.3" text-anchor="middle" font-weight="normal" font-style="normal" fill="#333" >1e+4</text>
<text x="639.5" y="651.8" font-family="Liberation Sans" font-size="4.3" text-anchor="middle" font-weight="normal" font-style="normal" fill="#333" >1e+6</text>
<text x="650.2" y="651.8" font-family="Liberation Sans" font-size="4.3" text-anchor="middle" font-weight="normal" font-style="normal" fill="#333" >1e+8</text>
<text x="660.9" y="651.8" font-family="Liberation Sans" font-size="4.3" text-anchor="middle" font-weight="normal" font-style="normal" fill="#333" >1e+10</text>
<line x1="559.50" y1="646.00" x2="677.30" y2="646.00" stroke="#e6e6e6" stroke-width="0.5" />
<line x1="558.00" y1="646.00" x2="559.50" y2="646.00" stroke="#999" stroke-width="0.4" />
<text x="557.5" y="647.5" font-family="Liberation Sans" font-size="4.4" text-anchor="end" font-weight="normal" font-style="normal" fill="#333" >0</text>
<line x1="559.50" y1="635.26" x2="677.30" y2="635.26" stroke="#e6e6e6" stroke-width="0.5" />
<line x1="558.00" y1="635.26" x2="559.50" y2="635.26" stroke="#999" stroke-width="0.4" />
<text x="557.5" y="636.7555555555556" font-family="Liberation Sans" font-size="4.4" text-anchor="end" font-weight="normal" font-style="normal" fill="#333" >500</text>
<line x1="559.50" y1="624.51" x2="677.30" y2="624.51" stroke="#e6e6e6" stroke-width="0.5" />
<line x1="558.00" y1="624.51" x2="559.50" y2="624.51" stroke="#999" stroke-width="0.4" />
<text x="557.5" y="626.0111111111111" font-family="Liberation Sans" font-size="4.4" text-anchor="end" font-weight="normal" font-style="normal" fill="#333" >1,000</text>
<line x1="559.50" y1="613.77" x2="677.30" y2="613.77" stroke="#e6e6e6" stroke-width="0.5" />
<line x1="558.00" y1="613.77" x2="559.50" y2="613.77" stroke="#999" stroke-width="0.4" />
<text x="557.5" y="615.2666666666667" font-family="Liberation Sans" font-size="4.4" text-anchor="end" font-weight="normal" font-style="normal" fill="#333" >1,500</text>
<line x1="559.50" y1="603.02" x2="677.30" y2="603.02" stroke="#e6e6e6" stroke-width="0.5" />
<line x1="558.00" y1="603.02" x2="559.50" y2="603.02" stroke="#999" stroke-width="0.4" />
<text x="557.5" y="604.5222222222222" font-family="Liberation Sans" font-size="4.4" text-anchor="end" font-weight="normal" font-style="normal" fill="#333" >2,000</text>
<line x1="559.50" y1="592.28" x2="677.30" y2="592.28" stroke="#e6e6e6" stroke-width="0.5" />
<line x1="558.00" y1="592.28" x2="559.50" y2="592.28" stroke="#999" stroke-width="0.4" />
<text x="557.5" y="593.7777777777777" font-family="Liberation Sans" font-size="4.4" text-anchor="end" font-weight="normal" font-style="normal" fill="#333" >2,500</text>
<line x1="559.50" y1="581.53" x2="677.30" y2="581.53" stroke="#e6e6e6" stroke-width="0.5" />
<line x1="558.00" y1="581.53" x2="559.50" y2="581.53" stroke="#999" stroke-width="0.4" />
<text x="557.5" y="583.0333333333333" font-family="Liberation Sans" font-size="4.4" text-anchor="end" font-weight="normal" font-style="normal" fill="#333" >3,000</text>
<line x1="559.50" y1="570.79" x2="677.30" y2="570.79" stroke="#e6e6e6" stroke-width="0.5" />
<line x1="558.00" y1="570.79" x2="559.50" y2="570.79" stroke="#999" stroke-width="0.4" />
<text x="557.5" y="572.2888888888889" font-family="Liberation Sans" font-size="4.4" text-anchor="end" font-weight="normal" font-style="normal" fill="#333" >3,500</text>
<line x1="559.50" y1="560.04" x2="677.30" y2="560.04" stroke="#e6e6e6" stroke-width="0.5" />
<line x1="558.00" y1="560.04" x2="559.50" y2="560.04" stroke="#999" stroke-width="0.4" />
<text x="557.5" y="561.5444444444444" font-family="Liberation Sans" font-size="4.4" text-anchor="end" font-weight="normal" font-style="normal" fill="#333" >4,000</text>
<line x1="559.50" y1="549.30" x2="677.30" y2="549.30" stroke="#e6e6e6" stroke-width="0.5" />
<line x1="558.00" y1="549.30" x2="559.50" y2="549.30" stroke="#999" stroke-width="0.4" />
<text x="557.5" y="550.8" font-family="Liberation Sans" font-size="4.4" text-anchor="end" font-weight="normal" font-style="normal" fill="#333" >4,500</text>
<line x1="559.50" y1="549.30" x2="559.50" y2="646.00" stroke="#999" stroke-width="0.6" />
<line x1="559.50" y1="646.00" x2="677.30" y2="646.00" stroke="#999" stroke-width="0.6" />
<text x="617.8" y="545" font-family="Liberation Sans" font-size="5.1" text-anchor="middle" font-weight="bold" font-style="normal" fill="#222" >Frequency Sweep</text>
<text x="618.2" y="657.8" font-family="Liberation Sans" font-size="5.1" text-anchor="middle" font-weight="bold" font-style="normal" fill="#222" >Frequency (Hz)</text>
<text x="545" y="597.6" font-family="Liberation Sans" font-size="5.1" text-anchor="middle" font-weight="bold" font-style="normal" fill="#222" transform="rotate(-90 545 597.6)" >Storage Modulus (MPa)</text>
<circle cx="559.50" cy="645.86" r="0.6" fill="#a6c4e2" opacity="0.85"/>
<circle cx="560.51" cy="645.72" r="0.6" fill="#a6c4e2" opacity="0.85"/>
<circle cx="561.52" cy="646.12" r="0.6" fill="#a6c4e2" opacity="0.85"/>
<circle cx="562.53" cy="645.66" r="0.6" fill="#a6c4e2" opacity="0.85"/>
<circle cx="563.54" cy="646.03" r="0.6" fill="#a6c4e2" opacity="0.85"/>
<circle cx="564.56" cy="645.89" r="0.6" fill="#a6c4e2" opacity="0.85"/>
<circle cx="565.57" cy="645.65" r="0.6" fill="#a6c4e2" opacity="0.85"/>
<circle cx="566.58" cy="646.01" r="0.6" fill="#a6c4e2" opacity="0.85"/>
<circle cx="567.59" cy="645.63" r="0.6" fill="#a6c4e2" opacity="0.85"/>
<circle cx="568.60" cy="645.95" r="0.6" fill="#a6c4e2" opacity="0.85"/>
<circle cx="569.61" cy="645.66" r="0.6" fill="#a6c4e2" opacity="0.85"/>
<circle cx="570.62" cy="645.67" r="0.6" fill="#a6c4e2" opacity="0.85"/>
<circle cx="571.63" cy="645.94" r="0.6" fill="#a6c4e2" opacity="0.85"/>
<circle cx="572.64" cy="646.26" r="0.6" fill="#a6c4e2" opacity="0.85"/>
<circle cx="573.66" cy="645.70" r="0.6" fill="#a6c4e2" opacity="0.85"/>
<circle cx="574.67" cy="645.78" r="0.6" fill="#a6c4e2" opacity="0.85"/>
<circle cx="575.68" cy="646.10" r="0.6" fill="#a6c4e2" opacity="0.85"/>
<circle cx="576.69" cy="646.36" r="0.6" fill="#a6c4e2" opacity="0.85"/>
<circle cx="577.70" cy="646.06" r="0.6" fill="#a6c4e2" opacity="0.85"/>
<circle cx="578.71" cy="645.92" r="0.6" fill="#a6c4e2" opacity="0.85"/>
<circle cx="579.72" cy="646.38" r="0.6" fill="#a6c4e2" opacity="0.85"/>
<circle cx="580.73" cy="645.64" r="0.6" fill="#a6c4e2" opacity="0.85"/>
<circle cx="581.74" cy="646.29" r="0.6" fill="#a6c4e2" opacity="0.85"/>
<circle cx="582.76" cy="645.83" r="0.6" fill="#a6c4e2" opacity="0.85"/>
<circle cx="583.77" cy="645.72" r="0.6" fill="#a6c4e2" opacity="0.85"/>
<circle cx="584.78" cy="645.69" r="0.6" fill="#a6c4e2" opacity="0.85"/>
<circle cx="585.79" cy="645.85" r="0.6" fill="#a6c4e2" opacity="0.85"/>
<circle cx="586.80" cy="646.25" r="0.6" fill="#a6c4e2" opacity="0.85"/>
<circle cx="587.81" cy="645.74" r="0.6" fill="#a6c4e2" opacity="0.85"/>
<circle cx="588.82" cy="646.07" r="0.6" fill="#a6c4e2" opacity="0.85"/>
<circle cx="589.83" cy="646.11" r="0.6" fill="#a6c4e2" opacity="0.85"/>
<circle cx="590.84" cy="645.90" r="0.6" fill="#a6c4e2" opacity="0.85"/>
<circle cx="591.86" cy="646.04" r="0.6" fill="#a6c4e2" opacity="0.85"/>
<circle cx="592.87" cy="645.65" r="0.6" fill="#a6c4e2" opacity="0.85"/>
<circle cx="593.88" cy="645.65" r="0.6" fill="#a6c4e2" opacity="0.85"/>
<circle cx="594.89" cy="645.76" r="0.6" fill="#a6c4e2" opacity="0.85"/>
<circle cx="595.90" cy="646.14" r="0.6" fill="#a6c4e2" opacity="0.85"/>
<circle cx="596.91" cy="645.94" r="0.6" fill="#a6c4e2" opacity="0.85"/>
<circle cx="597.92" cy="645.85" r="0.6" fill="#a6c4e2" opacity="0.85"/>
<circle cx="598.93" cy="646.07" r="0.6" fill="#a6c4e2" opacity="0.85"/>
<circle cx="599.94" cy="645.96" r="0.6" fill="#a6c4e2" opacity="0.85"/>
<circle cx="600.96" cy="645.84" r="0.6" fill="#a6c4e2" opacity="0.85"/>
<circle cx="601.97" cy="646.24" r="0.6" fill="#a6c4e2" opacity="0.85"/>
<circle cx="602.98" cy="646.16" r="0.6" fill="#a6c4e2" opacity="0.85"/>
<circle cx="603.99" cy="645.80" r="0.6" fill="#a6c4e2" opacity="0.85"/>
<circle cx="605.00" cy="646.06" r="0.6" fill="#a6c4e2" opacity="0.85"/>
<circle cx="606.11" cy="645.99" r="0.6" fill="#a6c4e2" opacity="0.85"/>
<circle cx="607.23" cy="646.24" r="0.6" fill="#a6c4e2" opacity="0.85"/>
<circle cx="608.34" cy="646.10" r="0.6" fill="#a6c4e2" opacity="0.85"/>
<circle cx="609.46" cy="645.72" r="0.6" fill="#a6c4e2" opacity="0.85"/>
<circle cx="610.57" cy="646.24" r="0.6" fill="#a6c4e2" opacity="0.85"/>
<circle cx="611.69" cy="645.52" r="0.6" fill="#a6c4e2" opacity="0.85"/>
<circle cx="612.80" cy="645.73" r="0.6" fill="#a6c4e2" opacity="0.85"/>
<circle cx="613.88" cy="645.65" r="0.6" fill="#a6c4e2" opacity="0.85"/>
<circle cx="614.96" cy="644.80" r="0.6" fill="#a6c4e2" opacity="0.85"/>
<circle cx="616.04" cy="644.71" r="0.6" fill="#a6c4e2" opacity="0.85"/>
<circle cx="617.12" cy="643.99" r="0.6" fill="#a6c4e2" opacity="0.85"/>
<circle cx="618.20" cy="644.13" r="0.6" fill="#a6c4e2" opacity="0.85"/>
<circle cx="619.23" cy="643.04" r="0.6" fill="#a6c4e2" opacity="0.85"/>
<circle cx="620.25" cy="641.71" r="0.6" fill="#a6c4e2" opacity="0.85"/>
<circle cx="621.27" cy="640.78" r="0.6" fill="#a6c4e2" opacity="0.85"/>
<circle cx="622.30" cy="639.15" r="0.6" fill="#a6c4e2" opacity="0.85"/>
<circle cx="623.32" cy="637.41" r="0.6" fill="#a6c4e2" opacity="0.85"/>
<circle cx="624.35" cy="635.28" r="0.6" fill="#a6c4e2" opacity="0.85"/>
<circle cx="625.38" cy="633.21" r="0.6" fill="#a6c4e2" opacity="0.85"/>
<circle cx="626.40" cy="631.06" r="0.6" fill="#a6c4e2" opacity="0.85"/>
<circle cx="627.42" cy="629.32" r="0.6" fill="#a6c4e2" opacity="0.85"/>
<circle cx="628.45" cy="627.36" r="0.6" fill="#a6c4e2" opacity="0.85"/>
<circle cx="629.48" cy="624.93" r="0.6" fill="#a6c4e2" opacity="0.85"/>
<circle cx="630.50" cy="623.03" r="0.6" fill="#a6c4e2" opacity="0.85"/>
<circle cx="631.52" cy="620.82" r="0.6" fill="#a6c4e2" opacity="0.85"/>
<circle cx="632.55" cy="619.61" r="0.6" fill="#a6c4e2" opacity="0.85"/>
<circle cx="633.58" cy="617.84" r="0.6" fill="#a6c4e2" opacity="0.85"/>
<circle cx="634.60" cy="616.39" r="0.6" fill="#a6c4e2" opacity="0.85"/>
<circle cx="635.62" cy="614.91" r="0.6" fill="#a6c4e2" opacity="0.85"/>
<circle cx="636.65" cy="613.13" r="0.6" fill="#a6c4e2" opacity="0.85"/>
<circle cx="637.68" cy="611.86" r="0.6" fill="#a6c4e2" opacity="0.85"/>
<circle cx="638.70" cy="610.73" r="0.6" fill="#a6c4e2" opacity="0.85"/>
<circle cx="639.73" cy="609.02" r="0.6" fill="#a6c4e2" opacity="0.85"/>
<circle cx="640.75" cy="608.17" r="0.6" fill="#a6c4e2" opacity="0.85"/>
<circle cx="641.77" cy="606.73" r="0.6" fill="#a6c4e2" opacity="0.85"/>
<circle cx="642.80" cy="605.49" r="0.6" fill="#a6c4e2" opacity="0.85"/>
<circle cx="643.82" cy="604.77" r="0.6" fill="#a6c4e2" opacity="0.85"/>
<circle cx="644.85" cy="604.66" r="0.6" fill="#a6c4e2" opacity="0.85"/>
<circle cx="645.88" cy="603.48" r="0.6" fill="#a6c4e2" opacity="0.85"/>
<circle cx="646.90" cy="602.90" r="0.6" fill="#a6c4e2" opacity="0.85"/>
<circle cx="647.92" cy="602.49" r="0.6" fill="#a6c4e2" opacity="0.85"/>
<circle cx="648.95" cy="602.35" r="0.6" fill="#a6c4e2" opacity="0.85"/>
<circle cx="649.98" cy="601.19" r="0.6" fill="#a6c4e2" opacity="0.85"/>
<circle cx="651.00" cy="600.96" r="0.6" fill="#a6c4e2" opacity="0.85"/>
<circle cx="652.00" cy="600.69" r="0.6" fill="#a6c4e2" opacity="0.85"/>
<circle cx="653.00" cy="600.61" r="0.6" fill="#a6c4e2" opacity="0.85"/>
<circle cx="654.00" cy="600.21" r="0.6" fill="#a6c4e2" opacity="0.85"/>
<circle cx="655.00" cy="599.89" r="0.6" fill="#a6c4e2" opacity="0.85"/>
<circle cx="656.00" cy="599.22" r="0.6" fill="#a6c4e2" opacity="0.85"/>
<circle cx="657.00" cy="599.13" r="0.6" fill="#a6c4e2" opacity="0.85"/>
<circle cx="658.00" cy="598.89" r="0.6" fill="#a6c4e2" opacity="0.85"/>
<circle cx="659.00" cy="599.11" r="0.6" fill="#a6c4e2" opacity="0.85"/>
<circle cx="660.00" cy="598.97" r="0.6" fill="#a6c4e2" opacity="0.85"/>
<circle cx="661.00" cy="598.15" r="0.6" fill="#a6c4e2" opacity="0.85"/>
<circle cx="662.00" cy="598.01" r="0.6" fill="#a6c4e2" opacity="0.85"/>
<circle cx="663.00" cy="597.89" r="0.6" fill="#a6c4e2" opacity="0.85"/>
<circle cx="664.00" cy="597.72" r="0.6" fill="#a6c4e2" opacity="0.85"/>
<circle cx="665.00" cy="597.75" r="0.6" fill="#a6c4e2" opacity="0.85"/>
<circle cx="666.00" cy="597.67" r="0.6" fill="#a6c4e2" opacity="0.85"/>
<circle cx="667.12" cy="597.21" r="0.6" fill="#a6c4e2" opacity="0.85"/>
<circle cx="668.24" cy="596.80" r="0.6" fill="#a6c4e2" opacity="0.85"/>
<circle cx="669.36" cy="596.94" r="0.6" fill="#a6c4e2" opacity="0.85"/>
<circle cx="670.48" cy="596.70" r="0.6" fill="#a6c4e2" opacity="0.85"/>
<circle cx="671.60" cy="596.65" r="0.6" fill="#a6c4e2" opacity="0.85"/>
<circle cx="636.00" cy="587.45" r="0.6" fill="#f7b98a" opacity="0.6"/>
<circle cx="636.79" cy="585.04" r="0.6" fill="#f7b98a" opacity="0.6"/>
<circle cx="637.57" cy="582.91" r="0.6" fill="#f7b98a" opacity="0.6"/>
<circle cx="638.36" cy="581.66" r="0.6" fill="#f7b98a" opacity="0.6"/>
<circle cx="639.14" cy="580.28" r="0.6" fill="#f7b98a" opacity="0.6"/>
<circle cx="639.93" cy="576.72" r="0.6" fill="#f7b98a" opacity="0.6"/>
<circle cx="640.71" cy="577.85" r="0.6" fill="#f7b98a" opacity="0.6"/>
<circle cx="641.50" cy="575.90" r="0.6" fill="#f7b98a" opacity="0.6"/>
<circle cx="642.25" cy="575.20" r="0.6" fill="#f7b98a" opacity="0.6"/>
<circle cx="643.00" cy="573.95" r="0.6" fill="#f7b98a" opacity="0.6"/>
<circle cx="643.75" cy="571.66" r="0.6" fill="#f7b98a" opacity="0.6"/>
<circle cx="644.50" cy="570.68" r="0.6" fill="#f7b98a" opacity="0.6"/>
<circle cx="645.25" cy="568.73" r="0.6" fill="#f7b98a" opacity="0.6"/>
<circle cx="646.00" cy="569.43" r="0.6" fill="#f7b98a" opacity="0.6"/>
<circle cx="646.73" cy="566.73" r="0.6" fill="#f7b98a" opacity="0.6"/>
<circle cx="647.47" cy="565.88" r="0.6" fill="#f7b98a" opacity="0.6"/>
<circle cx="648.20" cy="565.47" r="0.6" fill="#f7b98a" opacity="0.6"/>
<circle cx="648.93" cy="564.45" r="0.6" fill="#f7b98a" opacity="0.6"/>
<circle cx="649.67" cy="564.15" r="0.6" fill="#f7b98a" opacity="0.6"/>
<circle cx="650.40" cy="562.37" r="0.6" fill="#f7b98a" opacity="0.6"/>
<circle cx="651.17" cy="561.82" r="0.6" fill="#f7b98a" opacity="0.6"/>
<circle cx="651.93" cy="561.92" r="0.6" fill="#f7b98a" opacity="0.6"/>
<circle cx="652.70" cy="561.37" r="0.6" fill="#f7b98a" opacity="0.6"/>
<circle cx="653.47" cy="561.83" r="0.6" fill="#f7b98a" opacity="0.6"/>
<circle cx="654.23" cy="560.36" r="0.6" fill="#f7b98a" opacity="0.6"/>
<circle cx="655.00" cy="562.70" r="0.6" fill="#f7b98a" opacity="0.6"/>
<circle cx="655.70" cy="561.63" r="0.6" fill="#f7b98a" opacity="0.6"/>
<circle cx="656.40" cy="559.91" r="0.6" fill="#f7b98a" opacity="0.6"/>
<circle cx="657.10" cy="560.01" r="0.6" fill="#f7b98a" opacity="0.6"/>
<circle cx="657.80" cy="560.08" r="0.6" fill="#f7b98a" opacity="0.6"/>
<circle cx="658.50" cy="559.90" r="0.6" fill="#f7b98a" opacity="0.6"/>
<circle cx="659.20" cy="558.89" r="0.6" fill="#f7b98a" opacity="0.6"/>
<circle cx="660.00" cy="561.03" r="0.6" fill="#f7b98a" opacity="0.6"/>
<circle cx="660.80" cy="561.31" r="0.6" fill="#f7b98a" opacity="0.6"/>
<circle cx="661.60" cy="559.44" r="0.6" fill="#f7b98a" opacity="0.6"/>
<circle cx="662.40" cy="559.31" r="0.6" fill="#f7b98a" opacity="0.6"/>
<circle cx="663.20" cy="557.86" r="0.6" fill="#f7b98a" opacity="0.6"/>
<circle cx="664.00" cy="557.73" r="0.6" fill="#f7b98a" opacity="0.6"/>
<circle cx="664.76" cy="558.27" r="0.6" fill="#f7b98a" opacity="0.6"/>
<circle cx="665.52" cy="557.80" r="0.6" fill="#f7b98a" opacity="0.6"/>
<circle cx="666.29" cy="559.38" r="0.6" fill="#f7b98a" opacity="0.6"/>
<circle cx="667.05" cy="557.02" r="0.6" fill="#f7b98a" opacity="0.6"/>
<circle cx="667.81" cy="556.35" r="0.6" fill="#f7b98a" opacity="0.6"/>
<circle cx="668.58" cy="559.09" r="0.6" fill="#f7b98a" opacity="0.6"/>
<circle cx="669.34" cy="557.52" r="0.6" fill="#f7b98a" opacity="0.6"/>
<circle cx="670.10" cy="556.07" r="0.6" fill="#f7b98a" opacity="0.6"/>
<circle cx="640.00" cy="583.14" r="0.6" fill="#f09a90" opacity="0.6"/>
<circle cx="640.80" cy="580.49" r="0.6" fill="#f09a90" opacity="0.6"/>
<circle cx="641.60" cy="581.09" r="0.6" fill="#f09a90" opacity="0.6"/>
<circle cx="642.40" cy="581.53" r="0.6" fill="#f09a90" opacity="0.6"/>
<circle cx="643.20" cy="580.16" r="0.6" fill="#f09a90" opacity="0.6"/>
<circle cx="644.00" cy="578.63" r="0.6" fill="#f09a90" opacity="0.6"/>
<circle cx="644.70" cy="576.57" r="0.6" fill="#f09a90" opacity="0.6"/>
<circle cx="645.40" cy="576.24" r="0.6" fill="#f09a90" opacity="0.6"/>
<circle cx="646.10" cy="574.93" r="0.6" fill="#f09a90" opacity="0.6"/>
<circle cx="646.80" cy="576.20" r="0.6" fill="#f09a90" opacity="0.6"/>
<circle cx="647.50" cy="574.77" r="0.6" fill="#f09a90" opacity="0.6"/>
<circle cx="648.20" cy="574.89" r="0.6" fill="#f09a90" opacity="0.6"/>
<circle cx="648.94" cy="573.04" r="0.6" fill="#f09a90" opacity="0.6"/>
<circle cx="649.68" cy="572.29" r="0.6" fill="#f09a90" opacity="0.6"/>
<circle cx="650.41" cy="573.76" r="0.6" fill="#f09a90" opacity="0.6"/>
<circle cx="651.15" cy="573.90" r="0.6" fill="#f09a90" opacity="0.6"/>
<circle cx="651.89" cy="573.07" r="0.6" fill="#f09a90" opacity="0.6"/>
<circle cx="652.62" cy="572.50" r="0.6" fill="#f09a90" opacity="0.6"/>
<circle cx="653.36" cy="572.13" r="0.6" fill="#f09a90" opacity="0.6"/>
<circle cx="654.10" cy="571.47" r="0.6" fill="#f09a90" opacity="0.6"/>
<circle cx="654.83" cy="569.65" r="0.6" fill="#f09a90" opacity="0.6"/>
<circle cx="655.56" cy="570.40" r="0.6" fill="#f09a90" opacity="0.6"/>
<circle cx="656.29" cy="569.70" r="0.6" fill="#f09a90" opacity="0.6"/>
<circle cx="657.02" cy="568.47" r="0.6" fill="#f09a90" opacity="0.6"/>
<circle cx="657.75" cy="568.29" r="0.6" fill="#f09a90" opacity="0.6"/>
<circle cx="658.48" cy="568.91" r="0.6" fill="#f09a90" opacity="0.6"/>
<circle cx="659.21" cy="568.67" r="0.6" fill="#f09a90" opacity="0.6"/>
<circle cx="659.94" cy="569.88" r="0.6" fill="#f09a90" opacity="0.6"/>
<circle cx="660.67" cy="570.54" r="0.6" fill="#f09a90" opacity="0.6"/>
<circle cx="661.40" cy="568.73" r="0.6" fill="#f09a90" opacity="0.6"/>
<circle cx="662.13" cy="570.18" r="0.6" fill="#f09a90" opacity="0.6"/>
<circle cx="662.86" cy="570.23" r="0.6" fill="#f09a90" opacity="0.6"/>
<circle cx="663.59" cy="570.01" r="0.6" fill="#f09a90" opacity="0.6"/>
<circle cx="664.31" cy="568.01" r="0.6" fill="#f09a90" opacity="0.6"/>
<circle cx="665.04" cy="567.43" r="0.6" fill="#f09a90" opacity="0.6"/>
<circle cx="665.77" cy="567.34" r="0.6" fill="#f09a90" opacity="0.6"/>
<circle cx="666.50" cy="567.13" r="0.6" fill="#f09a90" opacity="0.6"/>
<circle cx="667.23" cy="566.95" r="0.6" fill="#f09a90" opacity="0.6"/>
<circle cx="667.96" cy="568.10" r="0.6" fill="#f09a90" opacity="0.6"/>
<circle cx="668.69" cy="568.78" r="0.6" fill="#f09a90" opacity="0.6"/>
<circle cx="669.41" cy="568.39" r="0.6" fill="#f09a90" opacity="0.6"/>
<circle cx="670.14" cy="567.03" r="0.6" fill="#f09a90" opacity="0.6"/>
<circle cx="670.87" cy="567.39" r="0.6" fill="#f09a90" opacity="0.6"/>
<circle cx="671.60" cy="567.66" r="0.6" fill="#f09a90" opacity="0.6"/>
<path d="M559.50,646.00 L560.31,646.00 L561.11,645.99 L561.92,645.99 L562.73,645.98 L563.53,645.98 L564.34,645.97 L565.15,645.97 L565.95,645.96 L566.76,645.96 L567.57,645.95 L568.38,645.95 L569.18,645.95 L569.99,645.94 L570.80,645.94 L571.60,645.93 L572.41,645.93 L573.22,645.92 L574.02,645.92 L574.83,645.91 L575.64,645.91 L576.44,645.90 L577.25,645.90 L578.06,645.90 L578.86,645.89 L579.67,645.89 L580.48,645.88 L581.28,645.88 L582.09,645.87 L582.90,645.87 L583.70,645.86 L584.51,645.86 L585.32,645.85 L586.12,645.85 L586.93,645.85 L587.74,645.84 L588.55,645.84 L589.35,645.83 L590.16,645.83 L590.97,645.82 L591.77,645.82 L592.58,645.81 L593.39,645.81 L594.19,645.80 L595.00,645.80 L595.81,645.75 L596.61,645.71 L597.42,645.66 L598.22,645.61 L599.03,645.56 L599.84,645.52 L600.64,645.47 L601.45,645.42 L602.25,645.38 L603.06,645.33 L603.86,645.28 L604.67,645.24 L605.48,645.19 L606.28,645.14 L607.09,645.09 L607.89,645.05 L608.70,645.00 L609.60,644.62 L610.50,644.23 L611.40,643.85 L612.30,643.47 L613.20,643.08 L614.10,642.70 L615.03,642.00 L615.97,641.30 L616.90,640.60 L617.80,639.03 L618.70,637.47 L619.60,635.90 L620.50,633.83 L621.40,631.77 L622.30,629.70 L623.23,626.97 L624.17,624.23 L625.10,621.50 L626.00,618.77 L626.90,616.03 L627.80,613.30 L628.70,610.57 L629.60,607.83 L630.50,604.35 L631.43,602.42 L632.37,599.90 L633.30,596.71 L634.20,593.92 L635.10,590.69 L636.00,587.42 L636.90,586.92 L637.80,584.50 L638.70,583.74 L639.63,582.45 L640.57,579.81 L641.50,578.22 L642.40,578.30 L643.30,577.00 L644.20,575.11 L645.10,573.66 L646.00,572.34 L646.90,572.33 L647.50,570.05 L648.60,570.36 L649.70,573.09 L650.85,571.61 L652.00,569.28 L653.05,567.73 L654.10,567.09 L655.00,565.89 L655.90,565.23 L656.80,566.50 L657.70,565.47 L658.62,564.42 L659.55,564.33 L660.48,562.61 L661.40,562.57 L662.30,562.31 L663.20,561.03 L664.10,560.93 L665.00,560.83 L666.10,561.08 L667.20,562.06 L668.30,562.42 L669.40,563.65 L670.50,563.49 L671.60,565.24" fill="none" stroke="#e0463c" stroke-width="1.3" />
<circle cx="559.50" cy="646.00" r="0.85" fill="#e0463c" />
<circle cx="560.31" cy="646.00" r="0.85" fill="#e0463c" />
<circle cx="561.11" cy="645.99" r="0.85" fill="#e0463c" />
<circle cx="561.92" cy="645.99" r="0.85" fill="#e0463c" />
<circle cx="562.73" cy="645.98" r="0.85" fill="#e0463c" />
<circle cx="563.53" cy="645.98" r="0.85" fill="#e0463c" />
<circle cx="564.34" cy="645.97" r="0.85" fill="#e0463c" />
<circle cx="565.15" cy="645.97" r="0.85" fill="#e0463c" />
<circle cx="565.95" cy="645.96" r="0.85" fill="#e0463c" />
<circle cx="566.76" cy="645.96" r="0.85" fill="#e0463c" />
<circle cx="567.57" cy="645.95" r="0.85" fill="#e0463c" />
<circle cx="568.38" cy="645.95" r="0.85" fill="#e0463c" />
<circle cx="569.18" cy="645.95" r="0.85" fill="#e0463c" />
<circle cx="569.99" cy="645.94" r="0.85" fill="#e0463c" />
<circle cx="570.80" cy="645.94" r="0.85" fill="#e0463c" />
<circle cx="571.60" cy="645.93" r="0.85" fill="#e0463c" />
<circle cx="572.41" cy="645.93" r="0.85" fill="#e0463c" />
<circle cx="573.22" cy="645.92" r="0.85" fill="#e0463c" />
<circle cx="574.02" cy="645.92" r="0.85" fill="#e0463c" />
<circle cx="574.83" cy="645.91" r="0.85" fill="#e0463c" />
<circle cx="575.64" cy="645.91" r="0.85" fill="#e0463c" />
<circle cx="576.44" cy="645.90" r="0.85" fill="#e0463c" />
<circle cx="577.25" cy="645.90" r="0.85" fill="#e0463c" />
<circle cx="578.06" cy="645.90" r="0.85" fill="#e0463c" />
<circle cx="578.86" cy="645.89" r="0.85" fill="#e0463c" />
<circle cx="579.67" cy="645.89" r="0.85" fill="#e0463c" />
<circle cx="580.48" cy="645.88" r="0.85" fill="#e0463c" />
<circle cx="581.28" cy="645.88" r="0.85" fill="#e0463c" />
<circle cx="582.09" cy="645.87" r="0.85" fill="#e0463c" />
<circle cx="582.90" cy="645.87" r="0.85" fill="#e0463c" />
<circle cx="583.70" cy="645.86" r="0.85" fill="#e0463c" />
<circle cx="584.51" cy="645.86" r="0.85" fill="#e0463c" />
<circle cx="585.32" cy="645.85" r="0.85" fill="#e0463c" />
<circle cx="586.12" cy="645.85" r="0.85" fill="#e0463c" />
<circle cx="586.93" cy="645.85" r="0.85" fill="#e0463c" />
<circle cx="587.74" cy="645.84" r="0.85" fill="#e0463c" />
<circle cx="588.55" cy="645.84" r="0.85" fill="#e0463c" />
<circle cx="589.35" cy="645.83" r="0.85" fill="#e0463c" />
<circle cx="590.16" cy="645.83" r="0.85" fill="#e0463c" />
<circle cx="590.97" cy="645.82" r="0.85" fill="#e0463c" />
<circle cx="591.77" cy="645.82" r="0.85" fill="#e0463c" />
<circle cx="592.58" cy="645.81" r="0.85" fill="#e0463c" />
<circle cx="593.39" cy="645.81" r="0.85" fill="#e0463c" />
<circle cx="594.19" cy="645.80" r="0.85" fill="#e0463c" />
<circle cx="595.00" cy="645.80" r="0.85" fill="#e0463c" />
<circle cx="595.81" cy="645.75" r="0.85" fill="#e0463c" />
<circle cx="596.61" cy="645.71" r="0.85" fill="#e0463c" />
<circle cx="597.42" cy="645.66" r="0.85" fill="#e0463c" />
<circle cx="598.22" cy="645.61" r="0.85" fill="#e0463c" />
<circle cx="599.03" cy="645.56" r="0.85" fill="#e0463c" />
<circle cx="599.84" cy="645.52" r="0.85" fill="#e0463c" />
<circle cx="600.64" cy="645.47" r="0.85" fill="#e0463c" />
<circle cx="601.45" cy="645.42" r="0.85" fill="#e0463c" />
<circle cx="602.25" cy="645.38" r="0.85" fill="#e0463c" />
<circle cx="603.06" cy="645.33" r="0.85" fill="#e0463c" />
<circle cx="603.86" cy="645.28" r="0.85" fill="#e0463c" />
<circle cx="604.67" cy="645.24" r="0.85" fill="#e0463c" />
<circle cx="605.48" cy="645.19" r="0.85" fill="#e0463c" />
<circle cx="606.28" cy="645.14" r="0.85" fill="#e0463c" />
<circle cx="607.09" cy="645.09" r="0.85" fill="#e0463c" />
<circle cx="607.89" cy="645.05" r="0.85" fill="#e0463c" />
<circle cx="608.70" cy="645.00" r="0.85" fill="#e0463c" />
<circle cx="609.60" cy="644.62" r="0.85" fill="#e0463c" />
<circle cx="610.50" cy="644.23" r="0.85" fill="#e0463c" />
<circle cx="611.40" cy="643.85" r="0.85" fill="#e0463c" />
<circle cx="612.30" cy="643.47" r="0.85" fill="#e0463c" />
<circle cx="613.20" cy="643.08" r="0.85" fill="#e0463c" />
<circle cx="614.10" cy="642.70" r="0.85" fill="#e0463c" />
<circle cx="615.03" cy="642.00" r="0.85" fill="#e0463c" />
<circle cx="615.97" cy="641.30" r="0.85" fill="#e0463c" />
<circle cx="616.90" cy="640.60" r="0.85" fill="#e0463c" />
<circle cx="617.80" cy="639.03" r="0.85" fill="#e0463c" />
<circle cx="618.70" cy="637.47" r="0.85" fill="#e0463c" />
<circle cx="619.60" cy="635.90" r="0.85" fill="#e0463c" />
<circle cx="620.50" cy="633.83" r="0.85" fill="#e0463c" />
<circle cx="621.40" cy="631.77" r="0.85" fill="#e0463c" />
<circle cx="622.30" cy="629.70" r="0.85" fill="#e0463c" />
<circle cx="623.23" cy="626.97" r="0.85" fill="#e0463c" />
<circle cx="624.17" cy="624.23" r="0.85" fill="#e0463c" />
<circle cx="625.10" cy="621.50" r="0.85" fill="#e0463c" />
<circle cx="626.00" cy="618.77" r="0.85" fill="#e0463c" />
<circle cx="626.90" cy="616.03" r="0.85" fill="#e0463c" />
<circle cx="627.80" cy="613.30" r="0.85" fill="#e0463c" />
<circle cx="628.70" cy="610.57" r="0.85" fill="#e0463c" />
<circle cx="629.60" cy="607.83" r="0.85" fill="#e0463c" />
<circle cx="630.50" cy="604.35" r="0.85" fill="#e0463c" />
<circle cx="631.43" cy="602.42" r="0.85" fill="#e0463c" />
<circle cx="632.37" cy="599.90" r="0.85" fill="#e0463c" />
<circle cx="633.30" cy="596.71" r="0.85" fill="#e0463c" />
<circle cx="634.20" cy="593.92" r="0.85" fill="#e0463c" />
<circle cx="635.10" cy="590.69" r="0.85" fill="#e0463c" />
<circle cx="636.00" cy="587.42" r="0.85" fill="#e0463c" />
<circle cx="636.90" cy="586.92" r="0.85" fill="#e0463c" />
<circle cx="637.80" cy="584.50" r="0.85" fill="#e0463c" />
<circle cx="638.70" cy="583.74" r="0.85" fill="#e0463c" />
<circle cx="639.63" cy="582.45" r="0.85" fill="#e0463c" />
<circle cx="640.57" cy="579.81" r="0.85" fill="#e0463c" />
<circle cx="641.50" cy="578.22" r="0.85" fill="#e0463c" />
<circle cx="642.40" cy="578.30" r="0.85" fill="#e0463c" />
<circle cx="643.30" cy="577.00" r="0.85" fill="#e0463c" />
<circle cx="644.20" cy="575.11" r="0.85" fill="#e0463c" />
<circle cx="645.10" cy="573.66" r="0.85" fill="#e0463c" />
<circle cx="646.00" cy="572.34" r="0.85" fill="#e0463c" />
<circle cx="646.90" cy="572.33" r="0.85" fill="#e0463c" />
<circle cx="647.50" cy="570.05" r="0.85" fill="#e0463c" />
<circle cx="648.60" cy="570.36" r="0.85" fill="#e0463c" />
<circle cx="649.70" cy="573.09" r="0.85" fill="#e0463c" />
<circle cx="650.85" cy="571.61" r="0.85" fill="#e0463c" />
<circle cx="652.00" cy="569.28" r="0.85" fill="#e0463c" />
<circle cx="653.05" cy="567.73" r="0.85" fill="#e0463c" />
<circle cx="654.10" cy="567.09" r="0.85" fill="#e0463c" />
<circle cx="655.00" cy="565.89" r="0.85" fill="#e0463c" />
<circle cx="655.90" cy="565.23" r="0.85" fill="#e0463c" />
<circle cx="656.80" cy="566.50" r="0.85" fill="#e0463c" />
<circle cx="657.70" cy="565.47" r="0.85" fill="#e0463c" />
<circle cx="658.62" cy="564.42" r="0.85" fill="#e0463c" />
<circle cx="659.55" cy="564.33" r="0.85" fill="#e0463c" />
<circle cx="660.48" cy="562.61" r="0.85" fill="#e0463c" />
<circle cx="661.40" cy="562.57" r="0.85" fill="#e0463c" />
<circle cx="662.30" cy="562.31" r="0.85" fill="#e0463c" />
<circle cx="663.20" cy="561.03" r="0.85" fill="#e0463c" />
<circle cx="664.10" cy="560.93" r="0.85" fill="#e0463c" />
<circle cx="665.00" cy="560.83" r="0.85" fill="#e0463c" />
<circle cx="666.10" cy="561.08" r="0.85" fill="#e0463c" />
<circle cx="667.20" cy="562.06" r="0.85" fill="#e0463c" />
<circle cx="668.30" cy="562.42" r="0.85" fill="#e0463c" />
<circle cx="669.40" cy="563.65" r="0.85" fill="#e0463c" />
<circle cx="670.50" cy="563.49" r="0.85" fill="#e0463c" />
<circle cx="671.60" cy="565.24" r="0.85" fill="#e0463c" />
</svg>
</body></html>
